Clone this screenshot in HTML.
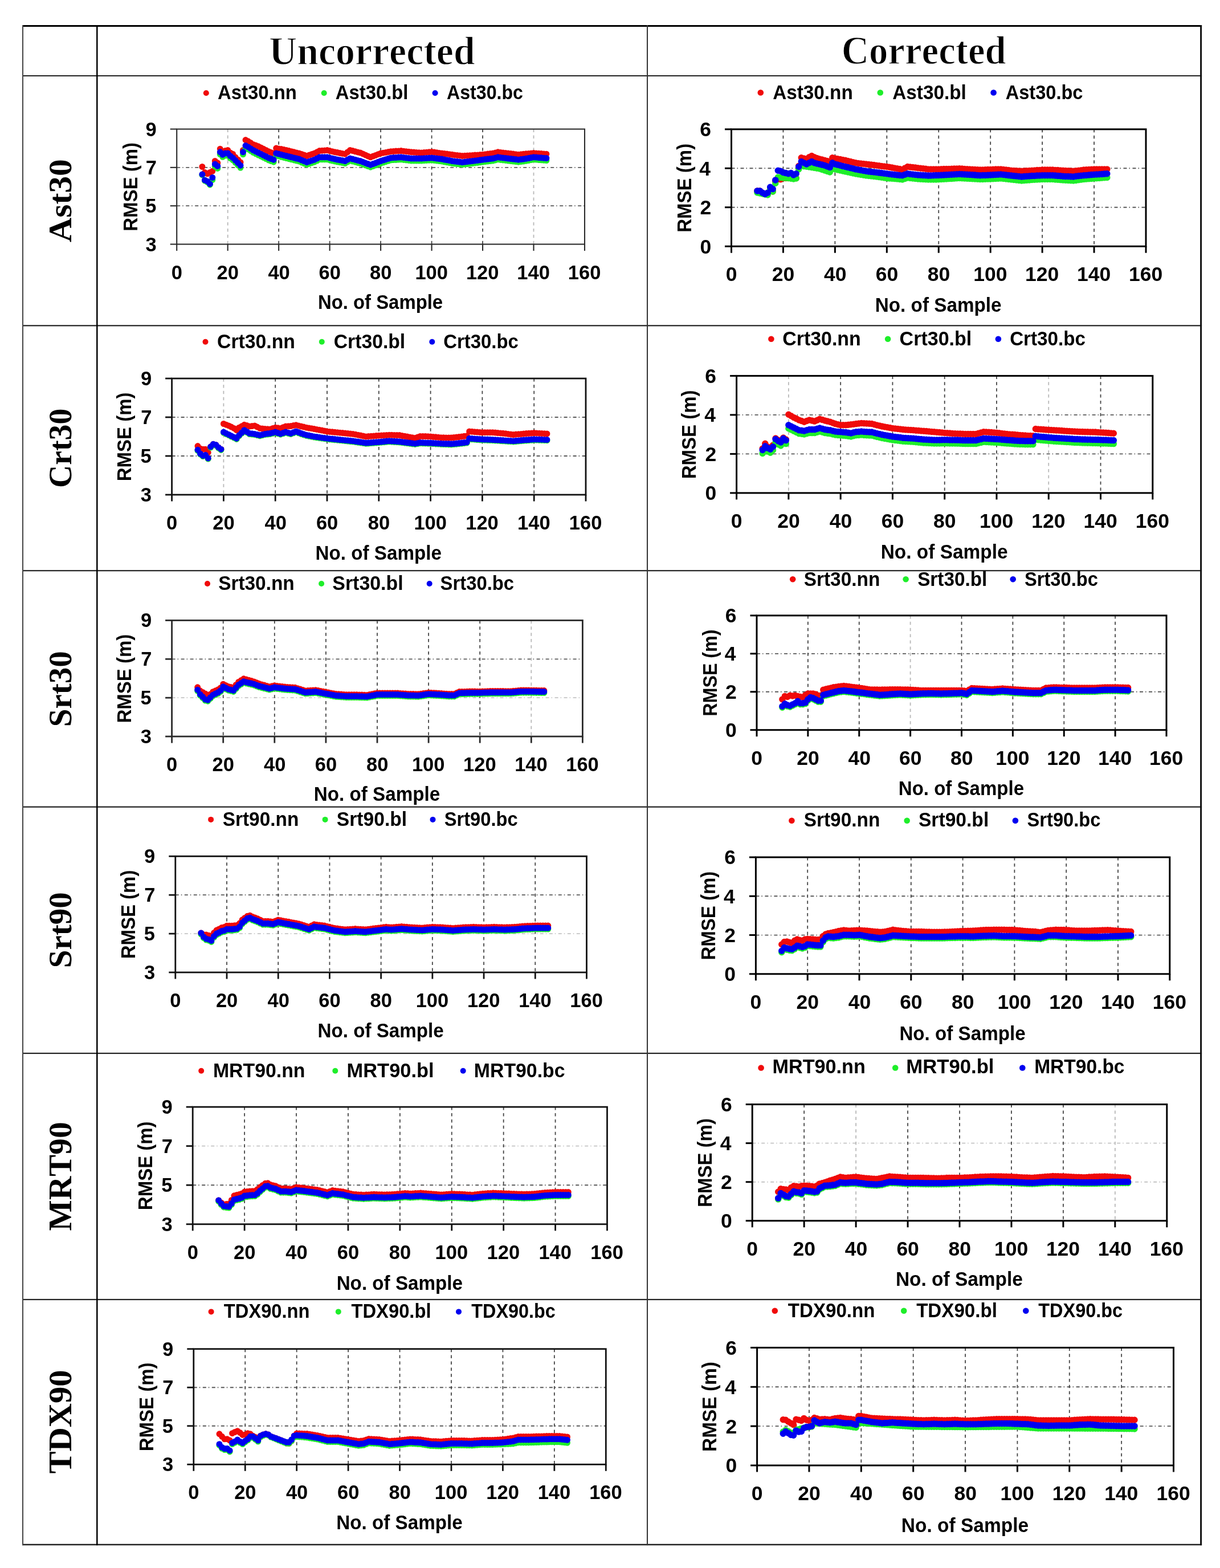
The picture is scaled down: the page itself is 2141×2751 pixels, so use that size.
<!DOCTYPE html>
<html><head><meta charset="utf-8"><title>RMSE vs No. of Sample</title>
<style>html,body{margin:0;padding:0;background:#fff;width:2141px;height:2751px;overflow:hidden} svg text{font-kerning:none;font-variant-ligatures:none}</style>
</head><body>
<svg width="2141" height="2751" viewBox="0 0 2141 2751" style="display:block">
<rect width="2141" height="2751" fill="#fff"/>
<rect x="39.0" y="44.00" width="2070.1" height="3" fill="#000"/>
<rect x="39.0" y="132.00" width="2070.1" height="2.0" fill="#222"/>
<rect x="39.0" y="570.20" width="2070.1" height="2.2" fill="#222"/>
<rect x="39.0" y="1000.10" width="2070.1" height="2.2" fill="#222"/>
<rect x="39.0" y="1414.60" width="2070.1" height="2.2" fill="#222"/>
<rect x="39.0" y="1846.90" width="2070.1" height="2.2" fill="#222"/>
<rect x="39.0" y="2278.90" width="2070.1" height="2.2" fill="#222"/>
<rect x="39.0" y="2708.75" width="2070.1" height="2.5" fill="#222"/>
<rect x="39.00" y="44.0" width="2" height="2667.2" fill="#444"/>
<rect x="169.05" y="44.0" width="2.5" height="2667.2" fill="#000"/>
<rect x="1135.00" y="44.0" width="2" height="2667.2" fill="#333"/>
<rect x="2106.10" y="44.0" width="3" height="2667.2" fill="#111"/>
<text transform="translate(472.31 113.00) scale(0.9756 1)" font-family="'Liberation Serif', 'Times New Roman', serif" font-weight="bold" font-size="69.5" fill="#000" stroke="#fff" stroke-width="1.3">Uncorrected</text>
<text transform="translate(1476.74 112.00) scale(0.9602 1)" font-family="'Liberation Serif', 'Times New Roman', serif" font-weight="bold" font-size="69.5" fill="#000" stroke="#fff" stroke-width="1.3">Corrected</text>
<text transform="translate(125.20 424.88) rotate(-90) scale(1.0378 1)" font-family="'Liberation Serif', 'Times New Roman', serif" font-weight="bold" font-size="57.5" fill="#000">Ast30</text>
<text transform="translate(125.20 855.92) rotate(-90) scale(0.9690 1)" font-family="'Liberation Serif', 'Times New Roman', serif" font-weight="bold" font-size="57.5" fill="#000">Crt30</text>
<text transform="translate(125.20 1275.24) rotate(-90) scale(0.9923 1)" font-family="'Liberation Serif', 'Times New Roman', serif" font-weight="bold" font-size="57.5" fill="#000">Srt30</text>
<text transform="translate(125.20 1698.24) rotate(-90) scale(0.9923 1)" font-family="'Liberation Serif', 'Times New Roman', serif" font-weight="bold" font-size="57.5" fill="#000">Srt90</text>
<text transform="translate(125.20 2159.38) rotate(-90) scale(0.9969 1)" font-family="'Liberation Serif', 'Times New Roman', serif" font-weight="bold" font-size="57.5" fill="#000">MRT90</text>
<text transform="translate(125.20 2585.61) rotate(-90) scale(1.0176 1)" font-family="'Liberation Serif', 'Times New Roman', serif" font-weight="bold" font-size="57.5" fill="#000">TDX90</text>
<line x1="310.2" y1="293.83" x2="1026.0" y2="293.83" stroke="#5a5a5a" stroke-width="1.8" stroke-dasharray="6 4 1.5 4.5"/>
<line x1="310.2" y1="361.17" x2="1026.0" y2="361.17" stroke="#5a5a5a" stroke-width="1.8" stroke-dasharray="6 4 1.5 4.5"/>
<line x1="399.67" y1="226.5" x2="399.67" y2="428.5" stroke="#b8b8b8" stroke-width="1.8" stroke-dasharray="5.5 5.4"/>
<line x1="489.15" y1="226.5" x2="489.15" y2="428.5" stroke="#444" stroke-width="1.8" stroke-dasharray="5.5 5.4"/>
<line x1="578.62" y1="226.5" x2="578.62" y2="428.5" stroke="#444" stroke-width="1.8" stroke-dasharray="5.5 5.4"/>
<line x1="668.10" y1="226.5" x2="668.10" y2="428.5" stroke="#444" stroke-width="1.8" stroke-dasharray="5.5 5.4"/>
<line x1="757.58" y1="226.5" x2="757.58" y2="428.5" stroke="#444" stroke-width="1.8" stroke-dasharray="5.5 5.4"/>
<line x1="847.05" y1="226.5" x2="847.05" y2="428.5" stroke="#444" stroke-width="1.8" stroke-dasharray="5.5 5.4"/>
<line x1="936.52" y1="226.5" x2="936.52" y2="428.5" stroke="#b8b8b8" stroke-width="1.8" stroke-dasharray="5.5 5.4"/>
<path d="M354.9 292.5h0M359.4 302.6h0M363.9 304.8h0M368.4 302.6h0M372.8 300.3h0M377.3 282.5h0M381.8 285.8h0M386.3 261.2h0M390.7 266.8h0M395.2 264.6h0M399.7 263.5h0M404.1 268.0h0M408.6 270.2h0M413.1 275.8h0M417.6 280.2h0M422.0 284.7h0M426.5 263.5h0M431.0 245.6h0M435.5 247.8h0M439.9 250.6h0M444.4 253.4h0M448.9 255.1h0M453.4 256.8h0M457.8 259.0h0M462.3 261.2h0M466.8 263.4h0M471.3 265.7h0M475.7 267.4h0M480.2 269.0h0M484.7 260.1h0M489.1 260.9h0M493.6 261.6h0M498.1 262.4h0M502.6 263.5h0M507.0 264.6h0M511.5 265.7h0M516.0 266.8h0M520.5 267.9h0M524.9 269.0h0M529.4 270.5h0M533.9 272.0h0M538.4 273.5h0M542.8 272.0h0M547.3 270.5h0M551.8 269.0h0M556.3 266.8h0M560.7 264.6h0M565.2 264.2h0M569.7 263.9h0M574.2 263.5h0M578.6 264.6h0M583.1 265.7h0M587.6 266.8h0M592.0 267.6h0M596.5 268.5h0M601.0 269.4h0M605.5 270.2h0M609.9 266.9h0M614.4 263.5h0M618.9 264.6h0M623.4 265.8h0M627.8 266.9h0M632.3 268.0h0M636.8 269.9h0M641.3 271.9h0M645.7 273.9h0M650.2 275.8h0M654.7 274.1h0M659.2 272.4h0M663.6 270.7h0M668.1 269.0h0M672.6 268.2h0M677.0 267.4h0M681.5 266.5h0M686.0 265.7h0M690.5 265.4h0M694.9 265.1h0M699.4 264.9h0M703.9 264.6h0M708.4 265.2h0M712.8 265.7h0M717.3 266.2h0M721.8 266.8h0M726.3 267.1h0M730.7 267.4h0M735.2 267.7h0M739.7 268.0h0M744.2 267.6h0M748.6 267.2h0M753.1 266.8h0M757.6 266.4h0M762.0 267.0h0M766.5 267.7h0M771.0 268.4h0M775.5 269.0h0M779.9 269.6h0M784.4 270.1h0M788.9 270.7h0M793.4 271.3h0M797.8 271.9h0M802.3 272.4h0M806.8 272.9h0M811.3 273.5h0M815.7 273.2h0M820.2 272.9h0M824.7 272.7h0M829.2 272.4h0M833.6 272.1h0M838.1 271.9h0M842.6 271.6h0M847.0 271.3h0M851.5 270.7h0M856.0 270.1h0M860.5 269.6h0M864.9 269.0h0M869.4 267.9h0M873.9 266.8h0M878.4 267.4h0M882.8 267.9h0M887.3 268.4h0M891.8 269.0h0M896.3 269.6h0M900.7 270.1h0M905.2 270.7h0M909.7 271.3h0M914.2 270.8h0M918.6 270.2h0M923.1 269.8h0M927.6 269.4h0M932.1 269.0h0M936.5 268.6h0M941.0 268.9h0M945.5 269.2h0M949.9 269.6h0M954.4 269.9h0M958.9 270.2h0" stroke="#f00a0a" stroke-width="11" stroke-linecap="round" fill="none"/>
<path d="M354.9 306.9h0M359.4 317.2h0M363.9 319.5h0M368.4 324.2h0M372.8 315.5h0M377.3 292.0h0M381.8 295.4h0M386.3 270.8h0M390.7 275.3h0M395.2 273.0h0M399.7 273.0h0M404.1 277.5h0M408.6 280.9h0M413.1 285.3h0M417.6 289.8h0M422.0 294.3h0M426.5 270.8h0M431.0 259.6h0M435.5 261.9h0M439.9 264.7h0M444.4 267.5h0M448.9 269.8h0M453.4 272.0h0M457.8 274.2h0M462.3 276.4h0M466.8 278.6h0M471.3 280.9h0M475.7 282.5h0M480.2 284.2h0M484.7 273.0h0M489.1 274.1h0M493.6 275.3h0M498.1 276.4h0M502.6 277.5h0M507.0 278.7h0M511.5 279.8h0M516.0 280.9h0M520.5 282.0h0M524.9 283.1h0M529.4 285.0h0M533.9 286.8h0M538.4 288.7h0M542.8 287.2h0M547.3 285.7h0M551.8 284.2h0M556.3 282.0h0M560.7 279.8h0M565.2 279.8h0M569.7 279.8h0M574.2 279.8h0M578.6 280.9h0M583.1 282.0h0M587.6 283.1h0M592.0 284.0h0M596.5 284.8h0M601.0 285.6h0M605.5 286.5h0M609.9 284.2h0M614.4 282.0h0M618.9 283.1h0M623.4 284.2h0M627.8 285.4h0M632.3 286.5h0M636.8 288.2h0M641.3 289.9h0M645.7 291.5h0M650.2 293.2h0M654.7 291.5h0M659.2 289.9h0M663.6 288.2h0M668.1 286.5h0M672.6 285.1h0M677.0 283.7h0M681.5 282.3h0M686.0 280.9h0M690.5 280.6h0M694.9 280.4h0M699.4 280.1h0M703.9 279.8h0M708.4 280.4h0M712.8 280.9h0M717.3 281.4h0M721.8 282.0h0M726.3 282.0h0M730.7 282.0h0M735.2 282.0h0M739.7 282.0h0M744.2 281.7h0M748.6 281.4h0M753.1 281.2h0M757.6 280.9h0M762.0 281.4h0M766.5 282.0h0M771.0 282.6h0M775.5 283.1h0M779.9 284.0h0M784.4 284.8h0M788.9 285.6h0M793.4 286.5h0M797.8 287.1h0M802.3 287.6h0M806.8 288.1h0M811.3 288.7h0M815.7 288.1h0M820.2 287.6h0M824.7 287.1h0M829.2 286.5h0M833.6 285.9h0M838.1 285.4h0M842.6 284.8h0M847.0 284.2h0M851.5 283.6h0M856.0 283.1h0M860.5 282.6h0M864.9 282.0h0M869.4 280.9h0M873.9 279.8h0M878.4 280.4h0M882.8 280.9h0M887.3 281.4h0M891.8 282.0h0M896.3 282.6h0M900.7 283.1h0M905.2 283.6h0M909.7 284.2h0M914.2 283.6h0M918.6 283.1h0M923.1 282.3h0M927.6 281.5h0M932.1 280.6h0M936.5 279.8h0M941.0 280.1h0M945.5 280.5h0M949.9 280.8h0M954.4 281.2h0M958.9 281.5h0" stroke="#1eee2a" stroke-width="11" stroke-linecap="round" fill="none"/>
<path d="M354.9 305.9h0M359.4 316.0h0M363.9 318.2h0M368.4 322.7h0M372.8 311.5h0M377.3 288.0h0M381.8 291.4h0M386.3 266.8h0M390.7 271.3h0M395.2 269.0h0M399.7 269.0h0M404.1 273.5h0M408.6 276.9h0M413.1 281.3h0M417.6 285.8h0M422.0 290.3h0M426.5 266.8h0M431.0 255.6h0M435.5 257.9h0M439.9 260.7h0M444.4 263.5h0M448.9 265.8h0M453.4 268.0h0M457.8 270.2h0M462.3 272.4h0M466.8 274.6h0M471.3 276.9h0M475.7 278.5h0M480.2 280.2h0M484.7 269.0h0M489.1 270.1h0M493.6 271.3h0M498.1 272.4h0M502.6 273.5h0M507.0 274.7h0M511.5 275.8h0M516.0 276.9h0M520.5 278.0h0M524.9 279.1h0M529.4 281.0h0M533.9 282.8h0M538.4 284.7h0M542.8 283.2h0M547.3 281.7h0M551.8 280.2h0M556.3 278.0h0M560.7 275.8h0M565.2 275.8h0M569.7 275.8h0M574.2 275.8h0M578.6 276.9h0M583.1 278.0h0M587.6 279.1h0M592.0 280.0h0M596.5 280.8h0M601.0 281.6h0M605.5 282.5h0M609.9 280.2h0M614.4 278.0h0M618.9 279.1h0M623.4 280.2h0M627.8 281.4h0M632.3 282.5h0M636.8 284.2h0M641.3 285.9h0M645.7 287.5h0M650.2 289.2h0M654.7 287.5h0M659.2 285.9h0M663.6 284.2h0M668.1 282.5h0M672.6 281.1h0M677.0 279.7h0M681.5 278.3h0M686.0 276.9h0M690.5 276.6h0M694.9 276.4h0M699.4 276.1h0M703.9 275.8h0M708.4 276.4h0M712.8 276.9h0M717.3 277.4h0M721.8 278.0h0M726.3 278.0h0M730.7 278.0h0M735.2 278.0h0M739.7 278.0h0M744.2 277.7h0M748.6 277.4h0M753.1 277.2h0M757.6 276.9h0M762.0 277.4h0M766.5 278.0h0M771.0 278.6h0M775.5 279.1h0M779.9 280.0h0M784.4 280.8h0M788.9 281.6h0M793.4 282.5h0M797.8 283.1h0M802.3 283.6h0M806.8 284.1h0M811.3 284.7h0M815.7 284.1h0M820.2 283.6h0M824.7 283.1h0M829.2 282.5h0M833.6 281.9h0M838.1 281.4h0M842.6 280.8h0M847.0 280.2h0M851.5 279.6h0M856.0 279.1h0M860.5 278.6h0M864.9 278.0h0M869.4 276.9h0M873.9 275.8h0M878.4 276.4h0M882.8 276.9h0M887.3 277.4h0M891.8 278.0h0M896.3 278.6h0M900.7 279.1h0M905.2 279.6h0M909.7 280.2h0M914.2 279.6h0M918.6 279.1h0M923.1 278.3h0M927.6 277.5h0M932.1 276.6h0M936.5 275.8h0M941.0 276.1h0M945.5 276.5h0M949.9 276.8h0M954.4 277.2h0M958.9 277.5h0" stroke="#0000f0" stroke-width="11" stroke-linecap="round" fill="none"/>
<rect x="310.20" y="226.50" width="715.80" height="202.00" fill="none" stroke="#2a2a2a" stroke-width="2.1"/>
<line x1="298.7" y1="226.50" x2="310.2" y2="226.50" stroke="#2a2a2a" stroke-width="2.1"/>
<line x1="298.7" y1="293.83" x2="310.2" y2="293.83" stroke="#2a2a2a" stroke-width="2.1"/>
<line x1="298.7" y1="361.17" x2="310.2" y2="361.17" stroke="#2a2a2a" stroke-width="2.1"/>
<line x1="298.7" y1="428.50" x2="310.2" y2="428.50" stroke="#2a2a2a" stroke-width="2.1"/>
<line x1="310.20" y1="428.5" x2="310.20" y2="440.0" stroke="#2a2a2a" stroke-width="2.1"/>
<line x1="399.67" y1="428.5" x2="399.67" y2="440.0" stroke="#2a2a2a" stroke-width="2.1"/>
<line x1="489.15" y1="428.5" x2="489.15" y2="440.0" stroke="#2a2a2a" stroke-width="2.1"/>
<line x1="578.62" y1="428.5" x2="578.62" y2="440.0" stroke="#2a2a2a" stroke-width="2.1"/>
<line x1="668.10" y1="428.5" x2="668.10" y2="440.0" stroke="#2a2a2a" stroke-width="2.1"/>
<line x1="757.58" y1="428.5" x2="757.58" y2="440.0" stroke="#2a2a2a" stroke-width="2.1"/>
<line x1="847.05" y1="428.5" x2="847.05" y2="440.0" stroke="#2a2a2a" stroke-width="2.1"/>
<line x1="936.52" y1="428.5" x2="936.52" y2="440.0" stroke="#2a2a2a" stroke-width="2.1"/>
<line x1="1026.00" y1="428.5" x2="1026.00" y2="440.0" stroke="#2a2a2a" stroke-width="2.1"/>
<text x="255.49" y="238.57" font-family="'Liberation Sans', Arial, sans-serif" font-weight="bold" font-size="34.5">9</text>
<text x="255.73" y="305.91" font-family="'Liberation Sans', Arial, sans-serif" font-weight="bold" font-size="34.5">7</text>
<text x="255.17" y="373.24" font-family="'Liberation Sans', Arial, sans-serif" font-weight="bold" font-size="34.5">5</text>
<text x="255.46" y="440.57" font-family="'Liberation Sans', Arial, sans-serif" font-weight="bold" font-size="34.5">3</text>
<text x="300.63" y="489.50" font-family="'Liberation Sans', Arial, sans-serif" font-weight="bold" font-size="34.5">0</text>
<text x="380.60" y="489.50" font-family="'Liberation Sans', Arial, sans-serif" font-weight="bold" font-size="34.5">20</text>
<text x="470.41" y="489.50" font-family="'Liberation Sans', Arial, sans-serif" font-weight="bold" font-size="34.5">40</text>
<text x="559.51" y="489.50" font-family="'Liberation Sans', Arial, sans-serif" font-weight="bold" font-size="34.5">60</text>
<text x="649.07" y="489.50" font-family="'Liberation Sans', Arial, sans-serif" font-weight="bold" font-size="34.5">80</text>
<text x="728.42" y="489.50" font-family="'Liberation Sans', Arial, sans-serif" font-weight="bold" font-size="34.5">100</text>
<text x="817.89" y="489.50" font-family="'Liberation Sans', Arial, sans-serif" font-weight="bold" font-size="34.5">120</text>
<text x="907.37" y="489.50" font-family="'Liberation Sans', Arial, sans-serif" font-weight="bold" font-size="34.5">140</text>
<text x="996.84" y="489.50" font-family="'Liberation Sans', Arial, sans-serif" font-weight="bold" font-size="34.5">160</text>
<text transform="translate(557.90 542.00) scale(0.9398 1)" font-family="'Liberation Sans', Arial, sans-serif" font-weight="bold" font-size="35" fill="#000">No. of Sample</text>
<text transform="translate(241.20 405.71) rotate(-90) scale(0.9594 1)" font-family="'Liberation Sans', Arial, sans-serif" font-weight="bold" font-size="34.4" fill="#000">RMSE (m)</text>
<circle cx="361.8" cy="163.3" r="5" fill="#f00a0a"/>
<text transform="translate(381.98 174.00) scale(0.9269 1)" font-family="'Liberation Sans', Arial, sans-serif" font-weight="bold" font-size="35.5" fill="#000">Ast30.nn</text>
<circle cx="568.7" cy="163.3" r="5" fill="#1eee2a"/>
<text transform="translate(588.78 174.00) scale(0.9250 1)" font-family="'Liberation Sans', Arial, sans-serif" font-weight="bold" font-size="35.5" fill="#000">Ast30.bl</text>
<circle cx="763.6" cy="163.3" r="5" fill="#0000f0"/>
<text transform="translate(784.00 174.00) scale(0.9058 1)" font-family="'Liberation Sans', Arial, sans-serif" font-weight="bold" font-size="35.5" fill="#000">Ast30.bc</text>
<line x1="1283.5" y1="295.27" x2="2011.0" y2="295.27" stroke="#5a5a5a" stroke-width="1.8" stroke-dasharray="6 4 1.5 4.5"/>
<line x1="1283.5" y1="363.73" x2="2011.0" y2="363.73" stroke="#5a5a5a" stroke-width="1.8" stroke-dasharray="6 4 1.5 4.5"/>
<line x1="1374.44" y1="226.8" x2="1374.44" y2="432.2" stroke="#444" stroke-width="1.8" stroke-dasharray="5.5 5.4"/>
<line x1="1465.38" y1="226.8" x2="1465.38" y2="432.2" stroke="#444" stroke-width="1.8" stroke-dasharray="5.5 5.4"/>
<line x1="1556.31" y1="226.8" x2="1556.31" y2="432.2" stroke="#444" stroke-width="1.8" stroke-dasharray="5.5 5.4"/>
<line x1="1647.25" y1="226.8" x2="1647.25" y2="432.2" stroke="#444" stroke-width="1.8" stroke-dasharray="5.5 5.4"/>
<line x1="1738.19" y1="226.8" x2="1738.19" y2="432.2" stroke="#444" stroke-width="1.8" stroke-dasharray="5.5 5.4"/>
<line x1="1829.12" y1="226.8" x2="1829.12" y2="432.2" stroke="#444" stroke-width="1.8" stroke-dasharray="5.5 5.4"/>
<line x1="1920.06" y1="226.8" x2="1920.06" y2="432.2" stroke="#444" stroke-width="1.8" stroke-dasharray="5.5 5.4"/>
<path d="M1329.0 334.9h0M1333.5 334.9h0M1338.1 338.3h0M1342.6 340.5h0M1347.2 338.3h0M1351.7 330.0h0M1356.2 336.0h0M1360.8 318.0h0M1365.3 312.0h0M1369.9 314.8h0M1374.4 312.6h0M1379.0 312.6h0M1383.5 312.6h0M1388.1 312.8h0M1392.6 313.0h0M1397.2 312.6h0M1401.7 291.3h0M1406.3 276.8h0M1410.8 278.0h0M1415.4 279.0h0M1419.9 275.7h0M1424.5 273.5h0M1429.0 275.7h0M1433.5 277.4h0M1438.1 279.0h0M1442.6 280.1h0M1447.2 281.3h0M1451.7 282.4h0M1456.3 283.5h0M1460.8 276.8h0M1465.4 278.0h0M1469.9 278.8h0M1474.5 279.6h0M1479.0 280.5h0M1483.6 281.3h0M1488.1 282.4h0M1492.7 283.6h0M1497.2 284.7h0M1501.8 285.8h0M1506.3 286.4h0M1510.8 286.9h0M1515.4 287.4h0M1519.9 288.0h0M1524.5 288.6h0M1529.0 289.1h0M1533.6 289.6h0M1538.1 290.2h0M1542.7 290.8h0M1547.2 291.4h0M1551.8 291.9h0M1556.3 292.5h0M1560.9 293.3h0M1565.4 294.1h0M1570.0 295.0h0M1574.5 295.8h0M1579.0 296.6h0M1583.6 297.4h0M1588.1 294.9h0M1592.7 292.5h0M1597.2 293.1h0M1601.8 293.6h0M1606.3 294.1h0M1610.9 294.7h0M1615.4 295.2h0M1620.0 295.8h0M1624.5 296.3h0M1629.1 296.9h0M1633.6 296.9h0M1638.2 296.9h0M1642.7 296.9h0M1647.2 296.9h0M1651.8 296.8h0M1656.3 296.6h0M1660.9 296.5h0M1665.4 296.4h0M1670.0 296.2h0M1674.5 296.1h0M1679.1 295.9h0M1683.6 295.8h0M1688.2 296.1h0M1692.7 296.4h0M1697.3 296.7h0M1701.8 297.0h0M1706.4 297.2h0M1710.9 297.5h0M1715.5 297.8h0M1720.0 298.1h0M1724.5 297.9h0M1729.1 297.8h0M1733.6 297.6h0M1738.2 297.4h0M1742.7 297.3h0M1747.3 297.1h0M1751.8 297.0h0M1756.4 296.9h0M1760.9 297.5h0M1765.5 298.0h0M1770.0 298.6h0M1774.6 299.2h0M1779.1 299.5h0M1783.7 299.8h0M1788.2 300.0h0M1792.8 300.3h0M1797.3 300.0h0M1801.8 299.8h0M1806.4 299.5h0M1810.9 299.2h0M1815.5 298.9h0M1820.0 298.6h0M1824.6 298.4h0M1829.1 298.1h0M1833.7 298.1h0M1838.2 298.1h0M1842.8 298.1h0M1847.3 298.1h0M1851.9 298.4h0M1856.4 298.6h0M1861.0 298.9h0M1865.5 299.2h0M1870.0 299.5h0M1874.6 299.8h0M1879.1 300.0h0M1883.7 300.3h0M1888.2 299.8h0M1892.8 299.2h0M1897.3 298.7h0M1901.9 298.1h0M1906.4 297.8h0M1911.0 297.5h0M1915.5 297.2h0M1920.1 296.9h0M1924.6 296.9h0M1929.2 296.9h0M1933.7 296.9h0M1938.2 296.9h0M1942.8 296.9h0" stroke="#f00a0a" stroke-width="11.5" stroke-linecap="round" fill="none"/>
<path d="M1329.0 338.0h0M1333.5 339.0h0M1338.1 340.0h0M1342.6 341.0h0M1347.2 342.0h0M1351.7 332.0h0M1356.2 336.0h0M1360.8 321.5h0M1365.3 311.0h0M1369.9 311.5h0M1374.4 312.0h0M1379.0 312.2h0M1383.5 312.5h0M1388.1 313.2h0M1392.6 314.0h0M1397.2 313.0h0M1401.7 297.0h0M1406.3 291.0h0M1410.8 291.7h0M1415.4 292.3h0M1419.9 293.0h0M1424.5 293.8h0M1429.0 294.5h0M1433.5 295.2h0M1438.1 296.0h0M1442.6 297.5h0M1447.2 299.0h0M1451.7 300.5h0M1456.3 302.0h0M1460.8 294.0h0M1465.4 297.0h0M1469.9 298.0h0M1474.5 299.0h0M1479.0 300.0h0M1483.6 301.0h0M1488.1 302.0h0M1492.7 303.0h0M1497.2 304.0h0M1501.8 305.0h0M1506.3 305.8h0M1510.8 306.5h0M1515.4 307.2h0M1519.9 308.0h0M1524.5 308.5h0M1529.0 309.0h0M1533.6 309.5h0M1538.1 310.0h0M1542.7 310.6h0M1547.2 311.3h0M1551.8 312.0h0M1556.3 312.6h0M1560.9 313.0h0M1565.4 313.3h0M1570.0 313.6h0M1574.5 314.0h0M1579.0 314.5h0M1583.6 315.0h0M1588.1 313.5h0M1592.7 312.0h0M1597.2 312.5h0M1601.8 313.0h0M1606.3 313.5h0M1610.9 314.0h0M1615.4 314.2h0M1620.0 314.5h0M1624.5 314.8h0M1629.1 315.0h0M1633.6 314.9h0M1638.2 314.9h0M1642.7 314.9h0M1647.2 314.8h0M1651.8 314.5h0M1656.3 314.2h0M1660.9 313.9h0M1665.4 313.6h0M1670.0 313.4h0M1674.5 313.1h0M1679.1 312.8h0M1683.6 312.5h0M1688.2 312.8h0M1692.7 313.0h0M1697.3 313.2h0M1701.8 313.5h0M1706.4 313.8h0M1710.9 314.0h0M1715.5 314.2h0M1720.0 314.5h0M1724.5 314.4h0M1729.1 314.2h0M1733.6 314.1h0M1738.2 314.0h0M1742.7 313.8h0M1747.3 313.5h0M1751.8 313.2h0M1756.4 313.0h0M1760.9 313.5h0M1765.5 314.0h0M1770.0 314.5h0M1774.6 315.0h0M1779.1 315.5h0M1783.7 316.0h0M1788.2 316.5h0M1792.8 317.0h0M1797.3 316.6h0M1801.8 316.2h0M1806.4 315.9h0M1810.9 315.5h0M1815.5 315.2h0M1820.0 315.0h0M1824.6 314.8h0M1829.1 314.5h0M1833.7 314.5h0M1838.2 314.5h0M1842.8 314.5h0M1847.3 314.5h0M1851.9 314.9h0M1856.4 315.2h0M1861.0 315.6h0M1865.5 316.0h0M1870.0 316.2h0M1874.6 316.5h0M1879.1 316.8h0M1883.7 317.0h0M1888.2 316.4h0M1892.8 315.8h0M1897.3 315.1h0M1901.9 314.5h0M1906.4 314.1h0M1911.0 313.8h0M1915.5 313.4h0M1920.1 313.0h0M1924.6 312.7h0M1929.2 312.4h0M1933.7 312.1h0M1938.2 311.8h0M1942.8 311.5h0" stroke="#1eee2a" stroke-width="11.5" stroke-linecap="round" fill="none"/>
<path d="M1329.0 334.9h0M1333.5 334.9h0M1338.1 338.3h0M1342.6 340.5h0M1347.2 338.3h0M1351.7 328.2h0M1356.2 331.6h0M1360.8 315.9h0M1365.3 299.2h0M1369.9 300.3h0M1374.4 302.5h0M1379.0 303.6h0M1383.5 304.8h0M1388.1 303.6h0M1392.6 307.0h0M1397.2 304.8h0M1401.7 292.5h0M1406.3 283.5h0M1410.8 285.8h0M1415.4 288.0h0M1419.9 285.8h0M1424.5 283.5h0M1429.0 285.8h0M1433.5 286.9h0M1438.1 288.0h0M1442.6 289.1h0M1447.2 290.2h0M1451.7 291.9h0M1456.3 293.6h0M1460.8 285.8h0M1465.4 288.0h0M1469.9 289.1h0M1474.5 290.2h0M1479.0 291.4h0M1483.6 292.5h0M1488.1 293.6h0M1492.7 294.7h0M1497.2 295.8h0M1501.8 296.9h0M1506.3 297.8h0M1510.8 298.6h0M1515.4 299.4h0M1519.9 300.3h0M1524.5 300.9h0M1529.0 301.4h0M1533.6 301.9h0M1538.1 302.5h0M1542.7 303.1h0M1547.2 303.6h0M1551.8 304.2h0M1556.3 304.8h0M1560.9 305.4h0M1565.4 305.9h0M1570.0 306.4h0M1574.5 307.0h0M1579.0 307.4h0M1583.6 307.7h0M1588.1 306.2h0M1592.7 304.8h0M1597.2 305.4h0M1601.8 305.9h0M1606.3 306.4h0M1610.9 307.0h0M1615.4 307.3h0M1620.0 307.6h0M1624.5 307.8h0M1629.1 308.1h0M1633.6 308.0h0M1638.2 307.8h0M1642.7 307.6h0M1647.2 307.5h0M1651.8 307.2h0M1656.3 307.0h0M1660.9 306.7h0M1665.4 306.4h0M1670.0 306.2h0M1674.5 305.9h0M1679.1 305.7h0M1683.6 305.4h0M1688.2 305.7h0M1692.7 306.0h0M1697.3 306.3h0M1701.8 306.5h0M1706.4 306.8h0M1710.9 307.1h0M1715.5 307.4h0M1720.0 307.7h0M1724.5 307.5h0M1729.1 307.4h0M1733.6 307.2h0M1738.2 307.0h0M1742.7 306.7h0M1747.3 306.4h0M1751.8 306.2h0M1756.4 305.9h0M1760.9 306.4h0M1765.5 307.0h0M1770.0 307.6h0M1774.6 308.1h0M1779.1 308.6h0M1783.7 309.0h0M1788.2 309.4h0M1792.8 309.9h0M1797.3 309.6h0M1801.8 309.2h0M1806.4 308.9h0M1810.9 308.6h0M1815.5 308.4h0M1820.0 308.1h0M1824.6 307.9h0M1829.1 307.7h0M1833.7 307.7h0M1838.2 307.7h0M1842.8 307.7h0M1847.3 307.7h0M1851.9 308.1h0M1856.4 308.4h0M1861.0 308.8h0M1865.5 309.2h0M1870.0 309.4h0M1874.6 309.5h0M1879.1 309.7h0M1883.7 309.9h0M1888.2 309.3h0M1892.8 308.8h0M1897.3 308.2h0M1901.9 307.7h0M1906.4 307.4h0M1911.0 307.0h0M1915.5 306.6h0M1920.1 306.3h0M1924.6 306.0h0M1929.2 305.7h0M1933.7 305.4h0M1938.2 305.1h0M1942.8 304.8h0" stroke="#0000f0" stroke-width="11.5" stroke-linecap="round" fill="none"/>
<rect x="1283.50" y="226.80" width="727.50" height="205.40" fill="none" stroke="#000" stroke-width="3"/>
<line x1="1272.0" y1="226.80" x2="1283.5" y2="226.80" stroke="#000" stroke-width="3"/>
<line x1="1272.0" y1="295.27" x2="1283.5" y2="295.27" stroke="#000" stroke-width="3"/>
<line x1="1272.0" y1="363.73" x2="1283.5" y2="363.73" stroke="#000" stroke-width="3"/>
<line x1="1272.0" y1="432.20" x2="1283.5" y2="432.20" stroke="#000" stroke-width="3"/>
<line x1="1283.50" y1="432.2" x2="1283.50" y2="443.7" stroke="#000" stroke-width="3"/>
<line x1="1374.44" y1="432.2" x2="1374.44" y2="443.7" stroke="#000" stroke-width="3"/>
<line x1="1465.38" y1="432.2" x2="1465.38" y2="443.7" stroke="#000" stroke-width="3"/>
<line x1="1556.31" y1="432.2" x2="1556.31" y2="443.7" stroke="#000" stroke-width="3"/>
<line x1="1647.25" y1="432.2" x2="1647.25" y2="443.7" stroke="#000" stroke-width="3"/>
<line x1="1738.19" y1="432.2" x2="1738.19" y2="443.7" stroke="#000" stroke-width="3"/>
<line x1="1829.12" y1="432.2" x2="1829.12" y2="443.7" stroke="#000" stroke-width="3"/>
<line x1="1920.06" y1="432.2" x2="1920.06" y2="443.7" stroke="#000" stroke-width="3"/>
<line x1="2011.00" y1="432.2" x2="2011.00" y2="443.7" stroke="#000" stroke-width="3"/>
<text x="1228.24" y="239.23" font-family="'Liberation Sans', Arial, sans-serif" font-weight="bold" font-size="35.5">6</text>
<text x="1227.15" y="307.69" font-family="'Liberation Sans', Arial, sans-serif" font-weight="bold" font-size="35.5">4</text>
<text x="1228.38" y="376.16" font-family="'Liberation Sans', Arial, sans-serif" font-weight="bold" font-size="35.5">2</text>
<text x="1228.41" y="444.62" font-family="'Liberation Sans', Arial, sans-serif" font-weight="bold" font-size="35.5">0</text>
<text x="1273.65" y="493.20" font-family="'Liberation Sans', Arial, sans-serif" font-weight="bold" font-size="35.5">0</text>
<text x="1354.81" y="493.20" font-family="'Liberation Sans', Arial, sans-serif" font-weight="bold" font-size="35.5">20</text>
<text x="1446.09" y="493.20" font-family="'Liberation Sans', Arial, sans-serif" font-weight="bold" font-size="35.5">40</text>
<text x="1536.65" y="493.20" font-family="'Liberation Sans', Arial, sans-serif" font-weight="bold" font-size="35.5">60</text>
<text x="1627.67" y="493.20" font-family="'Liberation Sans', Arial, sans-serif" font-weight="bold" font-size="35.5">80</text>
<text x="1708.18" y="493.20" font-family="'Liberation Sans', Arial, sans-serif" font-weight="bold" font-size="35.5">100</text>
<text x="1799.12" y="493.20" font-family="'Liberation Sans', Arial, sans-serif" font-weight="bold" font-size="35.5">120</text>
<text x="1890.06" y="493.20" font-family="'Liberation Sans', Arial, sans-serif" font-weight="bold" font-size="35.5">140</text>
<text x="1980.99" y="493.20" font-family="'Liberation Sans', Arial, sans-serif" font-weight="bold" font-size="35.5">160</text>
<text transform="translate(1535.77 547.20) scale(0.9373 1)" font-family="'Liberation Sans', Arial, sans-serif" font-weight="bold" font-size="35.5" fill="#000">No. of Sample</text>
<text transform="translate(1212.90 407.71) rotate(-90) scale(0.9511 1)" font-family="'Liberation Sans', Arial, sans-serif" font-weight="bold" font-size="34.7" fill="#000">RMSE (m)</text>
<circle cx="1334.8" cy="162.5" r="5.3" fill="#f00a0a"/>
<text transform="translate(1356.27 173.80) scale(0.9371 1)" font-family="'Liberation Sans', Arial, sans-serif" font-weight="bold" font-size="35.5" fill="#000">Ast30.nn</text>
<circle cx="1544.8" cy="162.5" r="5.3" fill="#1eee2a"/>
<text transform="translate(1566.27 173.80) scale(0.9384 1)" font-family="'Liberation Sans', Arial, sans-serif" font-weight="bold" font-size="35.5" fill="#000">Ast30.bl</text>
<circle cx="1743.6" cy="162.5" r="5.3" fill="#0000f0"/>
<text transform="translate(1764.69 173.80) scale(0.9181 1)" font-family="'Liberation Sans', Arial, sans-serif" font-weight="bold" font-size="35.5" fill="#000">Ast30.bc</text>
<line x1="301.6" y1="732.00" x2="1028.0" y2="732.00" stroke="#5a5a5a" stroke-width="1.8" stroke-dasharray="6 4 1.5 4.5"/>
<line x1="301.6" y1="800.00" x2="1028.0" y2="800.00" stroke="#5a5a5a" stroke-width="1.8" stroke-dasharray="6 4 1.5 4.5"/>
<line x1="392.40" y1="664.0" x2="392.40" y2="868.0" stroke="#b8b8b8" stroke-width="1.8" stroke-dasharray="5.5 5.4"/>
<line x1="483.20" y1="664.0" x2="483.20" y2="868.0" stroke="#444" stroke-width="1.8" stroke-dasharray="5.5 5.4"/>
<line x1="574.00" y1="664.0" x2="574.00" y2="868.0" stroke="#444" stroke-width="1.8" stroke-dasharray="5.5 5.4"/>
<line x1="664.80" y1="664.0" x2="664.80" y2="868.0" stroke="#444" stroke-width="1.8" stroke-dasharray="5.5 5.4"/>
<line x1="755.60" y1="664.0" x2="755.60" y2="868.0" stroke="#444" stroke-width="1.8" stroke-dasharray="5.5 5.4"/>
<line x1="846.40" y1="664.0" x2="846.40" y2="868.0" stroke="#444" stroke-width="1.8" stroke-dasharray="5.5 5.4"/>
<line x1="937.20" y1="664.0" x2="937.20" y2="868.0" stroke="#444" stroke-width="1.8" stroke-dasharray="5.5 5.4"/>
<path d="M347.0 782.6h0M351.5 787.1h0M356.1 788.2h0M360.6 788.2h0M365.2 793.8h0M369.7 783.8h0M374.2 779.3h0M378.8 780.4h0M383.3 784.9h0M387.9 788.2h0M392.4 743.5h0M396.9 745.2h0M401.5 746.9h0M406.0 749.1h0M410.6 751.4h0M415.1 754.7h0M419.6 750.2h0M424.2 747.8h0M428.7 745.3h0M433.3 746.6h0M437.8 748.0h0M442.3 747.5h0M446.9 746.9h0M451.4 749.1h0M456.0 751.4h0M460.5 752.0h0M465.0 752.5h0M469.6 752.7h0M474.1 752.9h0M478.7 751.5h0M483.2 750.2h0M487.7 750.8h0M492.3 751.4h0M496.8 749.7h0M501.4 748.0h0M505.9 747.8h0M510.4 747.5h0M515.0 746.6h0M519.5 745.8h0M524.1 746.9h0M528.6 748.0h0M533.1 749.1h0M537.7 750.2h0M542.2 751.0h0M546.8 751.7h0M551.3 752.5h0M555.8 753.4h0M560.4 754.3h0M564.9 755.1h0M569.5 756.0h0M574.0 756.9h0M578.5 757.4h0M583.1 757.8h0M587.6 758.3h0M592.2 758.7h0M596.7 759.2h0M601.2 759.6h0M605.8 760.1h0M610.3 760.5h0M614.9 761.0h0M619.4 761.4h0M623.9 762.3h0M628.5 763.2h0M633.0 764.1h0M637.6 765.0h0M642.1 765.9h0M646.6 765.6h0M651.2 765.2h0M655.7 764.9h0M660.3 764.5h0M664.8 764.2h0M669.3 764.0h0M673.9 763.7h0M678.4 763.5h0M683.0 763.2h0M687.5 763.3h0M692.0 763.4h0M696.6 763.5h0M701.1 763.6h0M705.7 764.5h0M710.2 765.3h0M714.7 766.1h0M719.3 767.0h0M723.8 767.8h0M728.4 768.6h0M732.9 767.0h0M737.4 765.4h0M742.0 765.5h0M746.5 765.6h0M751.1 765.8h0M755.6 765.9h0M760.1 766.4h0M764.7 766.8h0M769.2 767.2h0M773.8 767.7h0M778.3 767.8h0M782.8 767.9h0M787.4 768.0h0M791.9 768.1h0M796.5 767.5h0M801.0 767.0h0M805.5 766.5h0M810.1 765.9h0M814.6 765.3h0M819.2 764.8h0M823.7 756.9h0M828.2 757.3h0M832.8 757.7h0M837.3 758.1h0M841.9 758.4h0M846.4 758.7h0M850.9 758.7h0M855.5 758.7h0M860.0 758.7h0M864.6 758.7h0M869.1 759.1h0M873.6 759.5h0M878.2 759.9h0M882.7 760.3h0M887.3 760.8h0M891.8 761.4h0M896.3 762.0h0M900.9 762.5h0M905.4 762.1h0M910.0 761.8h0M914.5 761.4h0M919.0 761.0h0M923.6 760.6h0M928.1 760.3h0M932.7 760.0h0M937.2 759.6h0M941.7 759.9h0M946.3 760.2h0M950.8 760.4h0M955.4 760.7h0M959.9 761.0h0" stroke="#f00a0a" stroke-width="11" stroke-linecap="round" fill="none"/>
<path d="M347.0 790.5h0M351.5 797.2h0M356.1 800.6h0M360.6 799.5h0M365.2 805.1h0M369.7 785.0h0M374.2 780.5h0M378.8 781.6h0M383.3 786.1h0M387.9 789.4h0M392.4 759.3h0M396.9 761.5h0M401.5 763.7h0M406.0 766.0h0M410.6 768.2h0M415.1 770.4h0M419.6 764.8h0M424.2 760.4h0M428.7 755.9h0M433.3 758.7h0M437.8 761.5h0M442.3 762.0h0M446.9 762.6h0M451.4 763.7h0M456.0 764.8h0M460.5 763.7h0M465.0 762.6h0M469.6 762.0h0M474.1 761.5h0M478.7 760.4h0M483.2 759.3h0M487.7 760.8h0M492.3 762.2h0M496.8 760.8h0M501.4 759.3h0M505.9 760.4h0M510.4 761.5h0M515.0 759.8h0M519.5 758.1h0M524.1 759.8h0M528.6 761.5h0M533.1 763.0h0M537.7 764.4h0M542.2 765.3h0M546.8 766.2h0M551.3 767.1h0M555.8 767.8h0M560.4 768.4h0M564.9 769.1h0M569.5 769.7h0M574.0 770.4h0M578.5 770.9h0M583.1 771.3h0M587.6 771.8h0M592.2 772.2h0M596.7 772.7h0M601.2 773.1h0M605.8 773.6h0M610.3 774.0h0M614.9 774.5h0M619.4 774.9h0M623.9 775.6h0M628.5 776.3h0M633.0 776.9h0M637.6 777.6h0M642.1 778.3h0M646.6 778.0h0M651.2 777.6h0M655.7 777.3h0M660.3 776.9h0M664.8 776.6h0M669.3 776.2h0M673.9 775.8h0M678.4 775.3h0M683.0 774.9h0M687.5 775.2h0M692.0 775.5h0M696.6 775.7h0M701.1 776.0h0M705.7 776.6h0M710.2 777.2h0M714.7 777.7h0M719.3 778.3h0M723.8 778.9h0M728.4 779.4h0M732.9 778.6h0M737.4 777.8h0M742.0 777.9h0M746.5 778.1h0M751.1 778.2h0M755.6 778.3h0M760.1 778.6h0M764.7 778.9h0M769.2 779.1h0M773.8 779.4h0M778.3 779.6h0M782.8 779.7h0M787.4 779.9h0M791.9 780.0h0M796.5 779.6h0M801.0 779.2h0M805.5 778.7h0M810.1 778.3h0M814.6 777.7h0M819.2 777.1h0M823.7 770.4h0M828.2 770.8h0M832.8 771.1h0M837.3 771.5h0M841.9 771.8h0M846.4 772.0h0M850.9 772.2h0M855.5 772.4h0M860.0 772.5h0M864.6 772.7h0M869.1 773.0h0M873.6 773.2h0M878.2 773.5h0M882.7 773.8h0M887.3 774.1h0M891.8 774.4h0M896.3 774.6h0M900.9 774.9h0M905.4 774.5h0M910.0 774.1h0M914.5 773.7h0M919.0 773.3h0M923.6 773.0h0M928.1 772.7h0M932.7 772.3h0M937.2 772.0h0M941.7 772.1h0M946.3 772.3h0M950.8 772.4h0M955.4 772.6h0M959.9 772.7h0" stroke="#1eee2a" stroke-width="11" stroke-linecap="round" fill="none"/>
<path d="M347.0 789.3h0M351.5 796.0h0M356.1 799.4h0M360.6 798.3h0M365.2 803.9h0M369.7 783.8h0M374.2 779.3h0M378.8 780.4h0M383.3 784.9h0M387.9 788.2h0M392.4 758.1h0M396.9 760.3h0M401.5 762.5h0M406.0 764.8h0M410.6 767.0h0M415.1 769.2h0M419.6 763.6h0M424.2 759.2h0M428.7 754.7h0M433.3 757.5h0M437.8 760.3h0M442.3 760.8h0M446.9 761.4h0M451.4 762.5h0M456.0 763.6h0M460.5 762.5h0M465.0 761.4h0M469.6 760.8h0M474.1 760.3h0M478.7 759.2h0M483.2 758.1h0M487.7 759.5h0M492.3 761.0h0M496.8 759.5h0M501.4 758.1h0M505.9 759.2h0M510.4 760.3h0M515.0 758.6h0M519.5 756.9h0M524.1 758.6h0M528.6 760.3h0M533.1 761.8h0M537.7 763.2h0M542.2 764.1h0M546.8 765.0h0M551.3 765.9h0M555.8 766.6h0M560.4 767.2h0M564.9 767.9h0M569.5 768.5h0M574.0 769.2h0M578.5 769.7h0M583.1 770.1h0M587.6 770.6h0M592.2 771.0h0M596.7 771.5h0M601.2 771.9h0M605.8 772.4h0M610.3 772.8h0M614.9 773.3h0M619.4 773.7h0M623.9 774.4h0M628.5 775.1h0M633.0 775.7h0M637.6 776.4h0M642.1 777.1h0M646.6 776.8h0M651.2 776.4h0M655.7 776.1h0M660.3 775.7h0M664.8 775.4h0M669.3 775.0h0M673.9 774.5h0M678.4 774.1h0M683.0 773.7h0M687.5 774.0h0M692.0 774.2h0M696.6 774.5h0M701.1 774.8h0M705.7 775.4h0M710.2 776.0h0M714.7 776.5h0M719.3 777.1h0M723.8 777.7h0M728.4 778.2h0M732.9 777.4h0M737.4 776.6h0M742.0 776.7h0M746.5 776.9h0M751.1 777.0h0M755.6 777.1h0M760.1 777.4h0M764.7 777.7h0M769.2 777.9h0M773.8 778.2h0M778.3 778.4h0M782.8 778.5h0M787.4 778.6h0M791.9 778.8h0M796.5 778.4h0M801.0 778.0h0M805.5 777.5h0M810.1 777.1h0M814.6 776.5h0M819.2 775.9h0M823.7 769.2h0M828.2 769.6h0M832.8 769.9h0M837.3 770.3h0M841.9 770.5h0M846.4 770.8h0M850.9 771.0h0M855.5 771.1h0M860.0 771.3h0M864.6 771.5h0M869.1 771.8h0M873.6 772.0h0M878.2 772.3h0M882.7 772.6h0M887.3 772.9h0M891.8 773.2h0M896.3 773.4h0M900.9 773.7h0M905.4 773.3h0M910.0 772.9h0M914.5 772.5h0M919.0 772.1h0M923.6 771.8h0M928.1 771.5h0M932.7 771.1h0M937.2 770.8h0M941.7 770.9h0M946.3 771.1h0M950.8 771.2h0M955.4 771.4h0M959.9 771.5h0" stroke="#0000f0" stroke-width="11" stroke-linecap="round" fill="none"/>
<rect x="301.60" y="664.00" width="726.40" height="204.00" fill="none" stroke="#111" stroke-width="2.8"/>
<line x1="290.1" y1="664.00" x2="301.6" y2="664.00" stroke="#111" stroke-width="2.8"/>
<line x1="290.1" y1="732.00" x2="301.6" y2="732.00" stroke="#111" stroke-width="2.8"/>
<line x1="290.1" y1="800.00" x2="301.6" y2="800.00" stroke="#111" stroke-width="2.8"/>
<line x1="290.1" y1="868.00" x2="301.6" y2="868.00" stroke="#111" stroke-width="2.8"/>
<line x1="301.60" y1="868.0" x2="301.60" y2="879.5" stroke="#111" stroke-width="2.8"/>
<line x1="392.40" y1="868.0" x2="392.40" y2="879.5" stroke="#111" stroke-width="2.8"/>
<line x1="483.20" y1="868.0" x2="483.20" y2="879.5" stroke="#111" stroke-width="2.8"/>
<line x1="574.00" y1="868.0" x2="574.00" y2="879.5" stroke="#111" stroke-width="2.8"/>
<line x1="664.80" y1="868.0" x2="664.80" y2="879.5" stroke="#111" stroke-width="2.8"/>
<line x1="755.60" y1="868.0" x2="755.60" y2="879.5" stroke="#111" stroke-width="2.8"/>
<line x1="846.40" y1="868.0" x2="846.40" y2="879.5" stroke="#111" stroke-width="2.8"/>
<line x1="937.20" y1="868.0" x2="937.20" y2="879.5" stroke="#111" stroke-width="2.8"/>
<line x1="1028.00" y1="868.0" x2="1028.00" y2="879.5" stroke="#111" stroke-width="2.8"/>
<text x="246.89" y="676.08" font-family="'Liberation Sans', Arial, sans-serif" font-weight="bold" font-size="34.5">9</text>
<text x="247.13" y="744.08" font-family="'Liberation Sans', Arial, sans-serif" font-weight="bold" font-size="34.5">7</text>
<text x="246.57" y="812.08" font-family="'Liberation Sans', Arial, sans-serif" font-weight="bold" font-size="34.5">5</text>
<text x="246.86" y="880.08" font-family="'Liberation Sans', Arial, sans-serif" font-weight="bold" font-size="34.5">3</text>
<text x="292.03" y="929.00" font-family="'Liberation Sans', Arial, sans-serif" font-weight="bold" font-size="34.5">0</text>
<text x="373.32" y="929.00" font-family="'Liberation Sans', Arial, sans-serif" font-weight="bold" font-size="34.5">20</text>
<text x="464.46" y="929.00" font-family="'Liberation Sans', Arial, sans-serif" font-weight="bold" font-size="34.5">40</text>
<text x="554.89" y="929.00" font-family="'Liberation Sans', Arial, sans-serif" font-weight="bold" font-size="34.5">60</text>
<text x="645.77" y="929.00" font-family="'Liberation Sans', Arial, sans-serif" font-weight="bold" font-size="34.5">80</text>
<text x="726.44" y="929.00" font-family="'Liberation Sans', Arial, sans-serif" font-weight="bold" font-size="34.5">100</text>
<text x="817.24" y="929.00" font-family="'Liberation Sans', Arial, sans-serif" font-weight="bold" font-size="34.5">120</text>
<text x="908.04" y="929.00" font-family="'Liberation Sans', Arial, sans-serif" font-weight="bold" font-size="34.5">140</text>
<text x="998.84" y="929.00" font-family="'Liberation Sans', Arial, sans-serif" font-weight="bold" font-size="34.5">160</text>
<text transform="translate(553.58 982.00) scale(0.9486 1)" font-family="'Liberation Sans', Arial, sans-serif" font-weight="bold" font-size="35" fill="#000">No. of Sample</text>
<text transform="translate(230.30 844.21) rotate(-90) scale(0.9594 1)" font-family="'Liberation Sans', Arial, sans-serif" font-weight="bold" font-size="34.4" fill="#000">RMSE (m)</text>
<circle cx="360.5" cy="599.7" r="5" fill="#f00a0a"/>
<text transform="translate(381.02 611.00) scale(0.9506 1)" font-family="'Liberation Sans', Arial, sans-serif" font-weight="bold" font-size="35.5" fill="#000">Crt30.nn</text>
<circle cx="564.8" cy="599.7" r="5" fill="#1eee2a"/>
<text transform="translate(585.72 611.00) scale(0.9501 1)" font-family="'Liberation Sans', Arial, sans-serif" font-weight="bold" font-size="35.5" fill="#000">Crt30.bl</text>
<circle cx="758.3" cy="599.7" r="5" fill="#0000f0"/>
<text transform="translate(778.15 611.00) scale(0.9279 1)" font-family="'Liberation Sans', Arial, sans-serif" font-weight="bold" font-size="35.5" fill="#000">Crt30.bc</text>
<line x1="1292.6" y1="727.90" x2="2022.8" y2="727.90" stroke="#5a5a5a" stroke-width="1.8" stroke-dasharray="6 4 1.5 4.5"/>
<line x1="1292.6" y1="796.40" x2="2022.8" y2="796.40" stroke="#5a5a5a" stroke-width="1.8" stroke-dasharray="6 4 1.5 4.5"/>
<line x1="1383.88" y1="659.4" x2="1383.88" y2="864.9" stroke="#b8b8b8" stroke-width="1.8" stroke-dasharray="5.5 5.4"/>
<line x1="1475.15" y1="659.4" x2="1475.15" y2="864.9" stroke="#444" stroke-width="1.8" stroke-dasharray="5.5 5.4"/>
<line x1="1566.42" y1="659.4" x2="1566.42" y2="864.9" stroke="#444" stroke-width="1.8" stroke-dasharray="5.5 5.4"/>
<line x1="1657.70" y1="659.4" x2="1657.70" y2="864.9" stroke="#444" stroke-width="1.8" stroke-dasharray="5.5 5.4"/>
<line x1="1748.97" y1="659.4" x2="1748.97" y2="864.9" stroke="#444" stroke-width="1.8" stroke-dasharray="5.5 5.4"/>
<line x1="1840.25" y1="659.4" x2="1840.25" y2="864.9" stroke="#b8b8b8" stroke-width="1.8" stroke-dasharray="5.5 5.4"/>
<line x1="1931.53" y1="659.4" x2="1931.53" y2="864.9" stroke="#444" stroke-width="1.8" stroke-dasharray="5.5 5.4"/>
<path d="M1338.2 787.0h0M1342.8 778.2h0M1347.4 784.0h0M1351.9 786.0h0M1356.5 781.0h0M1361.1 769.0h0M1365.6 772.0h0M1370.2 774.0h0M1374.7 768.0h0M1379.3 771.0h0M1383.9 727.3h0M1388.4 729.8h0M1393.0 732.4h0M1397.6 734.6h0M1402.1 736.9h0M1406.7 738.5h0M1411.3 740.2h0M1415.8 738.5h0M1420.4 736.9h0M1424.9 738.0h0M1429.5 739.1h0M1434.1 737.2h0M1438.6 735.3h0M1443.2 736.6h0M1447.8 738.0h0M1452.3 739.1h0M1456.9 740.2h0M1461.5 741.9h0M1466.0 743.6h0M1470.6 744.7h0M1475.1 745.8h0M1479.7 745.8h0M1484.3 745.8h0M1488.8 745.2h0M1493.4 744.7h0M1498.0 744.2h0M1502.5 743.6h0M1507.1 743.0h0M1511.7 742.5h0M1516.2 742.7h0M1520.8 742.9h0M1525.4 743.2h0M1529.9 743.6h0M1534.5 744.7h0M1539.0 745.9h0M1543.6 747.0h0M1548.2 748.1h0M1552.7 748.9h0M1557.3 749.8h0M1561.9 750.6h0M1566.4 751.4h0M1571.0 752.0h0M1575.6 752.5h0M1580.1 753.0h0M1584.7 753.6h0M1589.2 753.9h0M1593.8 754.2h0M1598.4 754.5h0M1602.9 754.8h0M1607.5 755.2h0M1612.1 755.5h0M1616.6 755.9h0M1621.2 756.3h0M1625.8 756.6h0M1630.3 757.0h0M1634.9 757.4h0M1639.4 757.7h0M1644.0 758.2h0M1648.6 758.6h0M1653.1 759.0h0M1657.7 759.5h0M1662.3 759.8h0M1666.8 760.1h0M1671.4 760.5h0M1676.0 760.8h0M1680.5 761.0h0M1685.1 761.1h0M1689.6 761.3h0M1694.2 761.5h0M1698.8 761.5h0M1703.3 761.5h0M1707.9 761.5h0M1712.5 761.5h0M1717.0 760.2h0M1721.6 759.0h0M1726.2 757.7h0M1730.7 758.0h0M1735.3 758.3h0M1739.8 758.6h0M1744.4 758.9h0M1749.0 759.2h0M1753.5 759.8h0M1758.1 760.4h0M1762.7 760.9h0M1767.2 761.5h0M1771.8 761.9h0M1776.4 762.2h0M1780.9 762.6h0M1785.5 763.0h0M1790.0 763.4h0M1794.6 763.7h0M1799.2 764.0h0M1803.7 764.4h0M1808.3 764.6h0M1812.9 764.8h0M1817.4 752.5h0M1822.0 752.9h0M1826.6 753.2h0M1831.1 753.6h0M1835.7 753.9h0M1840.2 754.2h0M1844.8 754.5h0M1849.4 754.8h0M1853.9 755.1h0M1858.5 755.3h0M1863.1 755.6h0M1867.6 755.9h0M1872.2 756.2h0M1876.8 756.5h0M1881.3 756.7h0M1885.9 757.0h0M1890.5 757.2h0M1895.0 757.4h0M1899.6 757.5h0M1904.1 757.7h0M1908.7 757.8h0M1913.3 757.9h0M1917.8 758.0h0M1922.4 758.1h0M1927.0 758.4h0M1931.5 758.7h0M1936.1 758.9h0M1940.7 759.2h0M1945.2 759.6h0M1949.8 759.9h0M1954.3 760.3h0" stroke="#f00a0a" stroke-width="11.5" stroke-linecap="round" fill="none"/>
<path d="M1338.2 795.4h0M1342.8 788.7h0M1347.4 792.1h0M1351.9 794.3h0M1356.5 789.8h0M1361.1 776.4h0M1365.6 779.8h0M1370.2 782.0h0M1374.7 775.3h0M1379.3 778.6h0M1383.9 751.8h0M1388.4 754.0h0M1393.0 756.3h0M1397.6 758.5h0M1402.1 760.8h0M1406.7 761.3h0M1411.3 761.9h0M1415.8 760.8h0M1420.4 759.6h0M1424.9 759.6h0M1429.5 759.6h0M1434.1 758.3h0M1438.6 757.0h0M1443.2 758.3h0M1447.8 759.6h0M1452.3 760.2h0M1456.9 760.8h0M1461.5 761.9h0M1466.0 763.0h0M1470.6 763.4h0M1475.1 763.7h0M1479.7 764.2h0M1484.3 764.6h0M1488.8 765.2h0M1493.4 765.9h0M1498.0 764.8h0M1502.5 763.7h0M1507.1 763.4h0M1511.7 763.0h0M1516.2 763.4h0M1520.8 763.7h0M1525.4 763.9h0M1529.9 764.1h0M1534.5 765.2h0M1539.0 766.4h0M1543.6 767.5h0M1548.2 768.6h0M1552.7 769.4h0M1557.3 770.2h0M1561.9 771.1h0M1566.4 771.9h0M1571.0 772.5h0M1575.6 773.0h0M1580.1 773.6h0M1584.7 774.2h0M1589.2 774.5h0M1593.8 774.8h0M1598.4 775.0h0M1602.9 775.3h0M1607.5 775.8h0M1612.1 776.2h0M1616.6 776.6h0M1621.2 777.1h0M1625.8 777.3h0M1630.3 777.5h0M1634.9 777.8h0M1639.4 778.0h0M1644.0 778.0h0M1648.6 777.9h0M1653.1 777.8h0M1657.7 777.8h0M1662.3 777.8h0M1666.8 777.9h0M1671.4 778.0h0M1676.0 778.0h0M1680.5 778.1h0M1685.1 778.3h0M1689.6 778.5h0M1694.2 778.6h0M1698.8 778.6h0M1703.3 778.6h0M1707.9 778.6h0M1712.5 778.6h0M1717.0 777.5h0M1721.6 776.4h0M1726.2 775.3h0M1730.7 775.5h0M1735.3 775.7h0M1739.8 776.0h0M1744.4 776.2h0M1749.0 776.4h0M1753.5 776.8h0M1758.1 777.2h0M1762.7 777.6h0M1767.2 778.0h0M1771.8 778.3h0M1776.4 778.6h0M1780.9 779.0h0M1785.5 779.3h0M1790.0 779.4h0M1794.6 779.5h0M1799.2 779.7h0M1803.7 779.8h0M1808.3 779.8h0M1812.9 779.8h0M1817.4 771.3h0M1822.0 771.7h0M1826.6 772.2h0M1831.1 772.6h0M1835.7 773.0h0M1840.2 773.4h0M1844.8 773.8h0M1849.4 774.2h0M1853.9 774.5h0M1858.5 774.8h0M1863.1 775.0h0M1867.6 775.3h0M1872.2 775.6h0M1876.8 775.8h0M1881.3 776.1h0M1885.9 776.4h0M1890.5 776.6h0M1895.0 776.8h0M1899.6 776.9h0M1904.1 777.1h0M1908.7 777.2h0M1913.3 777.3h0M1917.8 777.4h0M1922.4 777.5h0M1927.0 777.6h0M1931.5 777.8h0M1936.1 777.9h0M1940.7 778.0h0M1945.2 778.2h0M1949.8 778.4h0M1954.3 778.6h0" stroke="#1eee2a" stroke-width="11.5" stroke-linecap="round" fill="none"/>
<path d="M1338.2 789.4h0M1342.8 782.7h0M1347.4 786.1h0M1351.9 788.3h0M1356.5 783.8h0M1361.1 770.4h0M1365.6 773.8h0M1370.2 776.0h0M1374.7 769.3h0M1379.3 772.6h0M1383.9 745.8h0M1388.4 748.0h0M1393.0 750.3h0M1397.6 752.5h0M1402.1 754.8h0M1406.7 755.3h0M1411.3 755.9h0M1415.8 754.8h0M1420.4 753.6h0M1424.9 753.6h0M1429.5 753.6h0M1434.1 752.3h0M1438.6 751.0h0M1443.2 752.3h0M1447.8 753.6h0M1452.3 754.2h0M1456.9 754.8h0M1461.5 755.9h0M1466.0 757.0h0M1470.6 757.4h0M1475.1 757.7h0M1479.7 758.2h0M1484.3 758.6h0M1488.8 759.2h0M1493.4 759.9h0M1498.0 758.8h0M1502.5 757.7h0M1507.1 757.4h0M1511.7 757.0h0M1516.2 757.4h0M1520.8 757.7h0M1525.4 757.9h0M1529.9 758.1h0M1534.5 759.2h0M1539.0 760.4h0M1543.6 761.5h0M1548.2 762.6h0M1552.7 763.4h0M1557.3 764.2h0M1561.9 765.1h0M1566.4 765.9h0M1571.0 766.5h0M1575.6 767.0h0M1580.1 767.6h0M1584.7 768.2h0M1589.2 768.5h0M1593.8 768.8h0M1598.4 769.0h0M1602.9 769.3h0M1607.5 769.8h0M1612.1 770.2h0M1616.6 770.6h0M1621.2 771.1h0M1625.8 771.3h0M1630.3 771.5h0M1634.9 771.8h0M1639.4 772.0h0M1644.0 772.0h0M1648.6 771.9h0M1653.1 771.8h0M1657.7 771.8h0M1662.3 771.8h0M1666.8 771.9h0M1671.4 772.0h0M1676.0 772.0h0M1680.5 772.1h0M1685.1 772.3h0M1689.6 772.5h0M1694.2 772.6h0M1698.8 772.6h0M1703.3 772.6h0M1707.9 772.6h0M1712.5 772.6h0M1717.0 771.5h0M1721.6 770.4h0M1726.2 769.3h0M1730.7 769.5h0M1735.3 769.7h0M1739.8 770.0h0M1744.4 770.2h0M1749.0 770.4h0M1753.5 770.8h0M1758.1 771.2h0M1762.7 771.6h0M1767.2 772.0h0M1771.8 772.3h0M1776.4 772.6h0M1780.9 773.0h0M1785.5 773.3h0M1790.0 773.4h0M1794.6 773.5h0M1799.2 773.7h0M1803.7 773.8h0M1808.3 773.8h0M1812.9 773.8h0M1817.4 765.3h0M1822.0 765.7h0M1826.6 766.2h0M1831.1 766.6h0M1835.7 767.0h0M1840.2 767.4h0M1844.8 767.8h0M1849.4 768.2h0M1853.9 768.5h0M1858.5 768.8h0M1863.1 769.0h0M1867.6 769.3h0M1872.2 769.6h0M1876.8 769.8h0M1881.3 770.1h0M1885.9 770.4h0M1890.5 770.6h0M1895.0 770.8h0M1899.6 770.9h0M1904.1 771.1h0M1908.7 771.2h0M1913.3 771.3h0M1917.8 771.4h0M1922.4 771.5h0M1927.0 771.6h0M1931.5 771.8h0M1936.1 771.9h0M1940.7 772.0h0M1945.2 772.2h0M1949.8 772.4h0M1954.3 772.6h0" stroke="#0000f0" stroke-width="11.5" stroke-linecap="round" fill="none"/>
<rect x="1292.60" y="659.40" width="730.20" height="205.50" fill="none" stroke="#000" stroke-width="3"/>
<line x1="1281.1" y1="659.40" x2="1292.6" y2="659.40" stroke="#000" stroke-width="3"/>
<line x1="1281.1" y1="727.90" x2="1292.6" y2="727.90" stroke="#000" stroke-width="3"/>
<line x1="1281.1" y1="796.40" x2="1292.6" y2="796.40" stroke="#000" stroke-width="3"/>
<line x1="1281.1" y1="864.90" x2="1292.6" y2="864.90" stroke="#000" stroke-width="3"/>
<line x1="1292.60" y1="864.9" x2="1292.60" y2="876.4" stroke="#000" stroke-width="3"/>
<line x1="1383.88" y1="864.9" x2="1383.88" y2="876.4" stroke="#000" stroke-width="3"/>
<line x1="1475.15" y1="864.9" x2="1475.15" y2="876.4" stroke="#000" stroke-width="3"/>
<line x1="1566.42" y1="864.9" x2="1566.42" y2="876.4" stroke="#000" stroke-width="3"/>
<line x1="1657.70" y1="864.9" x2="1657.70" y2="876.4" stroke="#000" stroke-width="3"/>
<line x1="1748.97" y1="864.9" x2="1748.97" y2="876.4" stroke="#000" stroke-width="3"/>
<line x1="1840.25" y1="864.9" x2="1840.25" y2="876.4" stroke="#000" stroke-width="3"/>
<line x1="1931.53" y1="864.9" x2="1931.53" y2="876.4" stroke="#000" stroke-width="3"/>
<line x1="2022.80" y1="864.9" x2="2022.80" y2="876.4" stroke="#000" stroke-width="3"/>
<text x="1237.34" y="671.82" font-family="'Liberation Sans', Arial, sans-serif" font-weight="bold" font-size="35.5">6</text>
<text x="1236.25" y="740.32" font-family="'Liberation Sans', Arial, sans-serif" font-weight="bold" font-size="35.5">4</text>
<text x="1237.48" y="808.82" font-family="'Liberation Sans', Arial, sans-serif" font-weight="bold" font-size="35.5">2</text>
<text x="1237.51" y="877.32" font-family="'Liberation Sans', Arial, sans-serif" font-weight="bold" font-size="35.5">0</text>
<text x="1282.75" y="925.90" font-family="'Liberation Sans', Arial, sans-serif" font-weight="bold" font-size="35.5">0</text>
<text x="1364.24" y="925.90" font-family="'Liberation Sans', Arial, sans-serif" font-weight="bold" font-size="35.5">20</text>
<text x="1455.87" y="925.90" font-family="'Liberation Sans', Arial, sans-serif" font-weight="bold" font-size="35.5">40</text>
<text x="1546.76" y="925.90" font-family="'Liberation Sans', Arial, sans-serif" font-weight="bold" font-size="35.5">60</text>
<text x="1638.12" y="925.90" font-family="'Liberation Sans', Arial, sans-serif" font-weight="bold" font-size="35.5">80</text>
<text x="1718.97" y="925.90" font-family="'Liberation Sans', Arial, sans-serif" font-weight="bold" font-size="35.5">100</text>
<text x="1810.24" y="925.90" font-family="'Liberation Sans', Arial, sans-serif" font-weight="bold" font-size="35.5">120</text>
<text x="1901.52" y="925.90" font-family="'Liberation Sans', Arial, sans-serif" font-weight="bold" font-size="35.5">140</text>
<text x="1992.79" y="925.90" font-family="'Liberation Sans', Arial, sans-serif" font-weight="bold" font-size="35.5">160</text>
<text transform="translate(1545.66 980.10) scale(0.9421 1)" font-family="'Liberation Sans', Arial, sans-serif" font-weight="bold" font-size="35.5" fill="#000">No. of Sample</text>
<text transform="translate(1221.30 840.36) rotate(-90) scale(0.9511 1)" font-family="'Liberation Sans', Arial, sans-serif" font-weight="bold" font-size="34.7" fill="#000">RMSE (m)</text>
<circle cx="1353.4" cy="594.7" r="5.3" fill="#f00a0a"/>
<text transform="translate(1373.21 606.00) scale(0.9556 1)" font-family="'Liberation Sans', Arial, sans-serif" font-weight="bold" font-size="35.5" fill="#000">Crt30.nn</text>
<circle cx="1558.1" cy="594.7" r="5.3" fill="#1eee2a"/>
<text transform="translate(1578.60 606.00) scale(0.9586 1)" font-family="'Liberation Sans', Arial, sans-serif" font-weight="bold" font-size="35.5" fill="#000">Crt30.bl</text>
<circle cx="1751.9" cy="594.7" r="5.3" fill="#0000f0"/>
<text transform="translate(1772.14 606.00) scale(0.9358 1)" font-family="'Liberation Sans', Arial, sans-serif" font-weight="bold" font-size="35.5" fill="#000">Crt30.bc</text>
<line x1="301.6" y1="1156.30" x2="1022.4" y2="1156.30" stroke="#5a5a5a" stroke-width="1.8" stroke-dasharray="6 4 1.5 4.5"/>
<line x1="301.6" y1="1224.20" x2="1022.4" y2="1224.20" stroke="#c4c4c4" stroke-width="1.8" stroke-dasharray="6 4 1.5 4.5"/>
<line x1="391.70" y1="1088.4" x2="391.70" y2="1292.1" stroke="#444" stroke-width="1.8" stroke-dasharray="5.5 5.4"/>
<line x1="481.80" y1="1088.4" x2="481.80" y2="1292.1" stroke="#444" stroke-width="1.8" stroke-dasharray="5.5 5.4"/>
<line x1="571.90" y1="1088.4" x2="571.90" y2="1292.1" stroke="#444" stroke-width="1.8" stroke-dasharray="5.5 5.4"/>
<line x1="662.00" y1="1088.4" x2="662.00" y2="1292.1" stroke="#444" stroke-width="1.8" stroke-dasharray="5.5 5.4"/>
<line x1="752.10" y1="1088.4" x2="752.10" y2="1292.1" stroke="#444" stroke-width="1.8" stroke-dasharray="5.5 5.4"/>
<line x1="842.20" y1="1088.4" x2="842.20" y2="1292.1" stroke="#444" stroke-width="1.8" stroke-dasharray="5.5 5.4"/>
<line x1="932.30" y1="1088.4" x2="932.30" y2="1292.1" stroke="#b8b8b8" stroke-width="1.8" stroke-dasharray="5.5 5.4"/>
<path d="M346.7 1205.8h0M351.2 1211.8h0M355.7 1214.4h0M360.2 1217.0h0M364.7 1222.2h0M369.2 1218.0h0M373.7 1213.7h0M378.2 1211.8h0M382.7 1209.8h0M387.2 1206.7h0M391.7 1200.2h0M396.2 1202.4h0M400.7 1204.5h0M405.2 1205.5h0M409.7 1206.5h0M414.2 1201.4h0M418.7 1196.4h0M423.2 1193.6h0M427.7 1190.8h0M432.2 1192.1h0M436.8 1193.3h0M441.3 1194.6h0M445.8 1195.9h0M450.3 1197.7h0M454.8 1199.6h0M459.3 1200.9h0M463.8 1202.1h0M468.3 1203.4h0M472.8 1204.8h0M477.3 1203.8h0M481.8 1202.8h0M486.3 1203.4h0M490.8 1204.0h0M495.3 1204.6h0M499.8 1205.1h0M504.3 1205.4h0M508.8 1205.7h0M513.3 1206.0h0M517.8 1206.3h0M522.3 1207.7h0M526.9 1209.1h0M531.4 1210.5h0M535.9 1211.9h0M540.4 1211.6h0M544.9 1211.3h0M549.4 1211.0h0M553.9 1210.8h0M558.4 1211.6h0M562.9 1212.5h0M567.4 1213.3h0M571.9 1214.2h0M576.4 1215.0h0M580.9 1215.9h0M585.4 1216.7h0M589.9 1217.5h0M594.4 1217.8h0M598.9 1218.1h0M603.4 1218.5h0M607.9 1218.8h0M612.4 1218.8h0M617.0 1218.8h0M621.5 1218.8h0M626.0 1218.8h0M630.5 1219.0h0M635.0 1219.1h0M639.5 1219.3h0M644.0 1219.4h0M648.5 1218.6h0M653.0 1217.7h0M657.5 1216.8h0M662.0 1216.0h0M666.5 1216.0h0M671.0 1216.0h0M675.5 1216.0h0M680.0 1216.0h0M684.5 1216.0h0M689.0 1216.0h0M693.5 1216.0h0M698.0 1216.1h0M702.5 1216.4h0M707.0 1216.7h0M711.6 1217.1h0M716.1 1217.4h0M720.6 1217.5h0M725.1 1217.6h0M729.6 1217.7h0M734.1 1217.8h0M738.6 1217.2h0M743.1 1216.6h0M747.6 1215.9h0M752.1 1215.3h0M756.6 1215.5h0M761.1 1215.7h0M765.6 1216.0h0M770.1 1216.2h0M774.6 1216.5h0M779.1 1216.9h0M783.6 1217.2h0M788.1 1217.5h0M792.6 1217.6h0M797.2 1217.6h0M801.7 1215.6h0M806.2 1213.6h0M810.7 1213.5h0M815.2 1213.4h0M819.7 1213.2h0M824.2 1213.1h0M828.7 1213.1h0M833.2 1213.1h0M837.7 1213.2h0M842.2 1213.2h0M846.7 1213.0h0M851.2 1212.9h0M855.7 1212.7h0M860.2 1212.6h0M864.7 1212.6h0M869.2 1212.6h0M873.7 1212.6h0M878.2 1212.6h0M882.7 1212.6h0M887.2 1212.7h0M891.8 1212.7h0M896.3 1212.7h0M900.8 1212.3h0M905.3 1211.9h0M909.8 1211.5h0M914.3 1211.1h0M918.8 1211.1h0M923.3 1211.1h0M927.8 1211.1h0M932.3 1211.2h0M936.8 1211.2h0M941.3 1211.3h0M945.8 1211.4h0M950.3 1211.5h0M954.8 1211.6h0" stroke="#f00a0a" stroke-width="11" stroke-linecap="round" fill="none"/>
<path d="M346.7 1212.3h0M351.2 1220.1h0M355.7 1224.6h0M360.2 1229.0h0M364.7 1230.2h0M369.2 1225.7h0M373.7 1221.2h0M378.2 1219.0h0M382.7 1216.8h0M387.2 1213.4h0M391.7 1206.7h0M396.2 1209.0h0M400.7 1211.2h0M405.2 1212.3h0M409.7 1213.4h0M414.2 1208.4h0M418.7 1203.4h0M423.2 1200.6h0M427.7 1197.8h0M432.2 1198.9h0M436.8 1200.0h0M441.3 1201.1h0M445.8 1202.2h0M450.3 1203.9h0M454.8 1205.6h0M459.3 1206.7h0M463.8 1207.8h0M468.3 1208.9h0M472.8 1210.1h0M477.3 1208.9h0M481.8 1207.8h0M486.3 1208.4h0M490.8 1208.9h0M495.3 1209.5h0M499.8 1210.1h0M504.3 1210.4h0M508.8 1210.7h0M513.3 1210.9h0M517.8 1211.2h0M522.3 1212.6h0M526.9 1214.0h0M531.4 1215.4h0M535.9 1216.8h0M540.4 1216.5h0M544.9 1216.2h0M549.4 1215.9h0M553.9 1215.6h0M558.4 1216.4h0M562.9 1217.3h0M567.4 1218.2h0M571.9 1219.0h0M576.4 1219.8h0M580.9 1220.7h0M585.4 1221.5h0M589.9 1222.3h0M594.4 1222.6h0M598.9 1222.9h0M603.4 1223.2h0M607.9 1223.5h0M612.4 1223.5h0M617.0 1223.5h0M621.5 1223.5h0M626.0 1223.5h0M630.5 1223.7h0M635.0 1223.8h0M639.5 1223.9h0M644.0 1224.1h0M648.5 1223.2h0M653.0 1222.3h0M657.5 1221.5h0M662.0 1220.6h0M666.5 1220.6h0M671.0 1220.6h0M675.5 1220.6h0M680.0 1220.6h0M684.5 1220.6h0M689.0 1220.6h0M693.5 1220.6h0M698.0 1220.6h0M702.5 1220.9h0M707.0 1221.2h0M711.6 1221.6h0M716.1 1221.9h0M720.6 1222.0h0M725.1 1222.1h0M729.6 1222.2h0M734.1 1222.3h0M738.6 1221.7h0M743.1 1221.0h0M747.6 1220.3h0M752.1 1219.7h0M756.6 1219.9h0M761.1 1220.2h0M765.6 1220.4h0M770.1 1220.6h0M774.6 1220.9h0M779.1 1221.2h0M783.6 1221.6h0M788.1 1221.9h0M792.6 1221.9h0M797.2 1221.9h0M801.7 1219.9h0M806.2 1217.9h0M810.7 1217.8h0M815.2 1217.7h0M819.7 1217.5h0M824.2 1217.4h0M828.7 1217.4h0M833.2 1217.4h0M837.7 1217.4h0M842.2 1217.4h0M846.7 1217.2h0M851.2 1217.1h0M855.7 1217.0h0M860.2 1216.8h0M864.7 1216.8h0M869.2 1216.8h0M873.7 1216.8h0M878.2 1216.8h0M882.7 1216.8h0M887.2 1216.8h0M891.8 1216.8h0M896.3 1216.8h0M900.8 1216.4h0M905.3 1216.0h0M909.8 1215.6h0M914.3 1215.2h0M918.8 1215.2h0M923.3 1215.2h0M927.8 1215.2h0M932.3 1215.2h0M936.8 1215.3h0M941.3 1215.4h0M945.8 1215.4h0M950.3 1215.5h0M954.8 1215.6h0" stroke="#1eee2a" stroke-width="11" stroke-linecap="round" fill="none"/>
<path d="M346.7 1210.3h0M351.2 1218.1h0M355.7 1222.6h0M360.2 1227.0h0M364.7 1228.2h0M369.2 1223.7h0M373.7 1219.2h0M378.2 1217.0h0M382.7 1214.8h0M387.2 1211.4h0M391.7 1204.7h0M396.2 1207.0h0M400.7 1209.2h0M405.2 1210.3h0M409.7 1211.4h0M414.2 1206.4h0M418.7 1201.4h0M423.2 1198.6h0M427.7 1195.8h0M432.2 1196.9h0M436.8 1198.0h0M441.3 1199.1h0M445.8 1200.2h0M450.3 1201.9h0M454.8 1203.6h0M459.3 1204.7h0M463.8 1205.8h0M468.3 1206.9h0M472.8 1208.1h0M477.3 1206.9h0M481.8 1205.8h0M486.3 1206.4h0M490.8 1206.9h0M495.3 1207.5h0M499.8 1208.1h0M504.3 1208.4h0M508.8 1208.7h0M513.3 1208.9h0M517.8 1209.2h0M522.3 1210.6h0M526.9 1212.0h0M531.4 1213.4h0M535.9 1214.8h0M540.4 1214.5h0M544.9 1214.2h0M549.4 1213.9h0M553.9 1213.6h0M558.4 1214.4h0M562.9 1215.3h0M567.4 1216.2h0M571.9 1217.0h0M576.4 1217.8h0M580.9 1218.7h0M585.4 1219.5h0M589.9 1220.3h0M594.4 1220.6h0M598.9 1220.9h0M603.4 1221.2h0M607.9 1221.5h0M612.4 1221.5h0M617.0 1221.5h0M621.5 1221.5h0M626.0 1221.5h0M630.5 1221.7h0M635.0 1221.8h0M639.5 1221.9h0M644.0 1222.1h0M648.5 1221.2h0M653.0 1220.3h0M657.5 1219.5h0M662.0 1218.6h0M666.5 1218.6h0M671.0 1218.6h0M675.5 1218.6h0M680.0 1218.6h0M684.5 1218.6h0M689.0 1218.6h0M693.5 1218.6h0M698.0 1218.6h0M702.5 1218.9h0M707.0 1219.2h0M711.6 1219.6h0M716.1 1219.9h0M720.6 1220.0h0M725.1 1220.1h0M729.6 1220.2h0M734.1 1220.3h0M738.6 1219.7h0M743.1 1219.0h0M747.6 1218.3h0M752.1 1217.7h0M756.6 1217.9h0M761.1 1218.2h0M765.6 1218.4h0M770.1 1218.6h0M774.6 1218.9h0M779.1 1219.2h0M783.6 1219.6h0M788.1 1219.9h0M792.6 1219.9h0M797.2 1219.9h0M801.7 1217.9h0M806.2 1215.9h0M810.7 1215.8h0M815.2 1215.7h0M819.7 1215.5h0M824.2 1215.4h0M828.7 1215.4h0M833.2 1215.4h0M837.7 1215.4h0M842.2 1215.4h0M846.7 1215.2h0M851.2 1215.1h0M855.7 1215.0h0M860.2 1214.8h0M864.7 1214.8h0M869.2 1214.8h0M873.7 1214.8h0M878.2 1214.8h0M882.7 1214.8h0M887.2 1214.8h0M891.8 1214.8h0M896.3 1214.8h0M900.8 1214.4h0M905.3 1214.0h0M909.8 1213.6h0M914.3 1213.2h0M918.8 1213.2h0M923.3 1213.2h0M927.8 1213.2h0M932.3 1213.2h0M936.8 1213.3h0M941.3 1213.4h0M945.8 1213.4h0M950.3 1213.5h0M954.8 1213.6h0" stroke="#0000f0" stroke-width="11" stroke-linecap="round" fill="none"/>
<rect x="301.60" y="1088.40" width="720.80" height="203.70" fill="none" stroke="#2a2a2a" stroke-width="2.8"/>
<line x1="290.1" y1="1088.40" x2="301.6" y2="1088.40" stroke="#2a2a2a" stroke-width="2.8"/>
<line x1="290.1" y1="1156.30" x2="301.6" y2="1156.30" stroke="#2a2a2a" stroke-width="2.8"/>
<line x1="290.1" y1="1224.20" x2="301.6" y2="1224.20" stroke="#2a2a2a" stroke-width="2.8"/>
<line x1="290.1" y1="1292.10" x2="301.6" y2="1292.10" stroke="#2a2a2a" stroke-width="2.8"/>
<line x1="301.60" y1="1292.1" x2="301.60" y2="1303.6" stroke="#2a2a2a" stroke-width="2.8"/>
<line x1="391.70" y1="1292.1" x2="391.70" y2="1303.6" stroke="#2a2a2a" stroke-width="2.8"/>
<line x1="481.80" y1="1292.1" x2="481.80" y2="1303.6" stroke="#2a2a2a" stroke-width="2.8"/>
<line x1="571.90" y1="1292.1" x2="571.90" y2="1303.6" stroke="#2a2a2a" stroke-width="2.8"/>
<line x1="662.00" y1="1292.1" x2="662.00" y2="1303.6" stroke="#2a2a2a" stroke-width="2.8"/>
<line x1="752.10" y1="1292.1" x2="752.10" y2="1303.6" stroke="#2a2a2a" stroke-width="2.8"/>
<line x1="842.20" y1="1292.1" x2="842.20" y2="1303.6" stroke="#2a2a2a" stroke-width="2.8"/>
<line x1="932.30" y1="1292.1" x2="932.30" y2="1303.6" stroke="#2a2a2a" stroke-width="2.8"/>
<line x1="1022.40" y1="1292.1" x2="1022.40" y2="1303.6" stroke="#2a2a2a" stroke-width="2.8"/>
<text x="246.89" y="1100.48" font-family="'Liberation Sans', Arial, sans-serif" font-weight="bold" font-size="34.5">9</text>
<text x="247.13" y="1168.38" font-family="'Liberation Sans', Arial, sans-serif" font-weight="bold" font-size="34.5">7</text>
<text x="246.57" y="1236.28" font-family="'Liberation Sans', Arial, sans-serif" font-weight="bold" font-size="34.5">5</text>
<text x="246.86" y="1304.17" font-family="'Liberation Sans', Arial, sans-serif" font-weight="bold" font-size="34.5">3</text>
<text x="292.03" y="1353.10" font-family="'Liberation Sans', Arial, sans-serif" font-weight="bold" font-size="34.5">0</text>
<text x="372.62" y="1353.10" font-family="'Liberation Sans', Arial, sans-serif" font-weight="bold" font-size="34.5">20</text>
<text x="463.06" y="1353.10" font-family="'Liberation Sans', Arial, sans-serif" font-weight="bold" font-size="34.5">40</text>
<text x="552.79" y="1353.10" font-family="'Liberation Sans', Arial, sans-serif" font-weight="bold" font-size="34.5">60</text>
<text x="642.97" y="1353.10" font-family="'Liberation Sans', Arial, sans-serif" font-weight="bold" font-size="34.5">80</text>
<text x="722.94" y="1353.10" font-family="'Liberation Sans', Arial, sans-serif" font-weight="bold" font-size="34.5">100</text>
<text x="813.04" y="1353.10" font-family="'Liberation Sans', Arial, sans-serif" font-weight="bold" font-size="34.5">120</text>
<text x="903.14" y="1353.10" font-family="'Liberation Sans', Arial, sans-serif" font-weight="bold" font-size="34.5">140</text>
<text x="993.24" y="1353.10" font-family="'Liberation Sans', Arial, sans-serif" font-weight="bold" font-size="34.5">160</text>
<text transform="translate(550.78 1405.10) scale(0.9486 1)" font-family="'Liberation Sans', Arial, sans-serif" font-weight="bold" font-size="35" fill="#000">No. of Sample</text>
<text transform="translate(230.30 1268.46) rotate(-90) scale(0.9594 1)" font-family="'Liberation Sans', Arial, sans-serif" font-weight="bold" font-size="34.4" fill="#000">RMSE (m)</text>
<circle cx="364.0" cy="1024.0" r="5" fill="#f00a0a"/>
<text transform="translate(383.14 1035.30) scale(0.9409 1)" font-family="'Liberation Sans', Arial, sans-serif" font-weight="bold" font-size="35.5" fill="#000">Srt30.nn</text>
<circle cx="564.1" cy="1024.0" r="5" fill="#1eee2a"/>
<text transform="translate(583.32 1035.30) scale(0.9552 1)" font-family="'Liberation Sans', Arial, sans-serif" font-weight="bold" font-size="35.5" fill="#000">Srt30.bl</text>
<circle cx="753.7" cy="1024.0" r="5" fill="#0000f0"/>
<text transform="translate(772.55 1035.30) scale(0.9252 1)" font-family="'Liberation Sans', Arial, sans-serif" font-weight="bold" font-size="35.5" fill="#000">Srt30.bc</text>
<line x1="1328.0" y1="1146.83" x2="2047.0" y2="1146.83" stroke="#5a5a5a" stroke-width="1.8" stroke-dasharray="6 4 1.5 4.5"/>
<line x1="1328.0" y1="1213.77" x2="2047.0" y2="1213.77" stroke="#5a5a5a" stroke-width="1.8" stroke-dasharray="6 4 1.5 4.5"/>
<line x1="1417.88" y1="1079.9" x2="1417.88" y2="1280.7" stroke="#444" stroke-width="1.8" stroke-dasharray="5.5 5.4"/>
<line x1="1507.75" y1="1079.9" x2="1507.75" y2="1280.7" stroke="#444" stroke-width="1.8" stroke-dasharray="5.5 5.4"/>
<line x1="1597.62" y1="1079.9" x2="1597.62" y2="1280.7" stroke="#b8b8b8" stroke-width="1.8" stroke-dasharray="5.5 5.4"/>
<line x1="1687.50" y1="1079.9" x2="1687.50" y2="1280.7" stroke="#444" stroke-width="1.8" stroke-dasharray="5.5 5.4"/>
<line x1="1777.38" y1="1079.9" x2="1777.38" y2="1280.7" stroke="#444" stroke-width="1.8" stroke-dasharray="5.5 5.4"/>
<line x1="1867.25" y1="1079.9" x2="1867.25" y2="1280.7" stroke="#444" stroke-width="1.8" stroke-dasharray="5.5 5.4"/>
<line x1="1957.12" y1="1079.9" x2="1957.12" y2="1280.7" stroke="#444" stroke-width="1.8" stroke-dasharray="5.5 5.4"/>
<path d="M1372.9 1227.0h0M1377.4 1221.4h0M1381.9 1222.5h0M1386.4 1220.3h0M1390.9 1221.0h0M1395.4 1220.3h0M1399.9 1221.4h0M1404.4 1222.5h0M1408.9 1223.2h0M1413.4 1219.6h0M1417.9 1216.9h0M1422.4 1216.9h0M1426.9 1216.9h0M1431.4 1218.1h0M1435.8 1220.3h0M1440.3 1220.3h0M1444.8 1210.2h0M1449.3 1209.1h0M1453.8 1208.0h0M1458.3 1206.9h0M1462.8 1205.8h0M1467.3 1205.2h0M1471.8 1204.6h0M1476.3 1204.0h0M1480.8 1203.5h0M1485.3 1204.0h0M1489.8 1204.6h0M1494.3 1205.2h0M1498.8 1205.8h0M1503.3 1206.3h0M1507.8 1206.9h0M1512.2 1207.6h0M1516.7 1208.3h0M1521.2 1209.1h0M1525.7 1209.8h0M1530.2 1209.9h0M1534.7 1210.0h0M1539.2 1210.1h0M1543.7 1210.2h0M1548.2 1210.1h0M1552.7 1210.0h0M1557.2 1209.9h0M1561.7 1209.8h0M1566.2 1209.8h0M1570.7 1209.8h0M1575.2 1209.8h0M1579.7 1209.8h0M1584.1 1209.9h0M1588.6 1210.0h0M1593.1 1210.1h0M1597.6 1210.2h0M1602.1 1210.5h0M1606.6 1210.8h0M1611.1 1211.1h0M1615.6 1211.4h0M1620.1 1211.4h0M1624.6 1211.4h0M1629.1 1211.4h0M1633.6 1211.4h0M1638.1 1211.4h0M1642.6 1211.4h0M1647.1 1211.4h0M1651.5 1211.4h0M1656.0 1211.4h0M1660.5 1211.4h0M1665.0 1211.4h0M1669.5 1211.4h0M1674.0 1211.4h0M1678.5 1211.5h0M1683.0 1211.5h0M1687.5 1211.5h0M1692.0 1212.0h0M1696.5 1212.5h0M1701.0 1210.0h0M1705.5 1207.5h0M1710.0 1207.8h0M1714.5 1208.0h0M1719.0 1208.2h0M1723.5 1208.5h0M1727.9 1208.8h0M1732.4 1209.0h0M1736.9 1209.2h0M1741.4 1209.5h0M1745.9 1209.1h0M1750.4 1208.8h0M1754.9 1208.4h0M1759.4 1208.0h0M1763.9 1208.4h0M1768.4 1208.8h0M1772.9 1209.1h0M1777.4 1209.5h0M1781.9 1209.8h0M1786.4 1210.0h0M1790.9 1210.2h0M1795.3 1210.5h0M1799.8 1210.8h0M1804.3 1211.0h0M1808.8 1211.2h0M1813.3 1211.5h0M1817.8 1211.5h0M1822.3 1211.5h0M1826.8 1211.5h0M1831.3 1209.2h0M1835.8 1207.0h0M1840.3 1206.7h0M1844.8 1206.3h0M1849.3 1206.0h0M1853.8 1206.1h0M1858.3 1206.2h0M1862.8 1206.4h0M1867.2 1206.5h0M1871.7 1206.6h0M1876.2 1206.8h0M1880.7 1206.9h0M1885.2 1207.0h0M1889.7 1207.0h0M1894.2 1207.0h0M1898.7 1207.0h0M1903.2 1207.0h0M1907.7 1207.0h0M1912.2 1207.0h0M1916.7 1207.0h0M1921.2 1207.0h0M1925.7 1206.8h0M1930.2 1206.5h0M1934.7 1206.2h0M1939.2 1206.0h0M1943.6 1206.0h0M1948.1 1206.0h0M1952.6 1206.0h0M1957.1 1206.0h0M1961.6 1206.1h0M1966.1 1206.2h0M1970.6 1206.3h0M1975.1 1206.4h0M1979.6 1206.5h0" stroke="#f00a0a" stroke-width="11.5" stroke-linecap="round" fill="none"/>
<path d="M1372.9 1241.3h0M1377.4 1236.8h0M1381.9 1239.1h0M1386.4 1240.2h0M1390.9 1237.9h0M1395.4 1235.7h0M1399.9 1232.3h0M1404.4 1235.7h0M1408.9 1235.7h0M1413.4 1234.6h0M1417.9 1229.0h0M1422.4 1225.6h0M1426.9 1226.8h0M1431.4 1229.0h0M1435.8 1231.2h0M1440.3 1231.2h0M1444.8 1221.2h0M1449.3 1220.1h0M1453.8 1218.9h0M1458.3 1217.8h0M1462.8 1216.7h0M1467.3 1215.6h0M1471.8 1214.5h0M1476.3 1214.0h0M1480.8 1213.4h0M1485.3 1214.0h0M1489.8 1214.5h0M1494.3 1215.0h0M1498.8 1215.6h0M1503.3 1216.2h0M1507.8 1216.7h0M1512.2 1217.2h0M1516.7 1217.8h0M1521.2 1218.4h0M1525.7 1218.9h0M1530.2 1219.5h0M1534.7 1220.1h0M1539.2 1220.6h0M1543.7 1221.2h0M1548.2 1220.9h0M1552.7 1220.7h0M1557.2 1220.4h0M1561.7 1220.1h0M1566.2 1219.8h0M1570.7 1219.5h0M1575.2 1219.2h0M1579.7 1218.9h0M1584.1 1219.2h0M1588.6 1219.5h0M1593.1 1219.8h0M1597.6 1220.1h0M1602.1 1219.8h0M1606.6 1219.5h0M1611.1 1219.2h0M1615.6 1218.9h0M1620.1 1218.8h0M1624.6 1218.7h0M1629.1 1218.6h0M1633.6 1218.5h0M1638.1 1218.6h0M1642.6 1218.7h0M1647.1 1218.8h0M1651.5 1218.9h0M1656.0 1218.8h0M1660.5 1218.7h0M1665.0 1218.6h0M1669.5 1218.5h0M1674.0 1218.3h0M1678.5 1218.2h0M1683.0 1218.0h0M1687.5 1217.8h0M1692.0 1218.6h0M1696.5 1219.4h0M1701.0 1216.4h0M1705.5 1213.4h0M1710.0 1213.7h0M1714.5 1214.0h0M1719.0 1214.2h0M1723.5 1214.5h0M1727.9 1214.8h0M1732.4 1215.0h0M1736.9 1215.3h0M1741.4 1215.6h0M1745.9 1215.2h0M1750.4 1214.8h0M1754.9 1214.4h0M1759.4 1214.0h0M1763.9 1214.4h0M1768.4 1214.8h0M1772.9 1215.2h0M1777.4 1215.6h0M1781.9 1215.9h0M1786.4 1216.2h0M1790.9 1216.4h0M1795.3 1216.7h0M1799.8 1217.0h0M1804.3 1217.2h0M1808.8 1217.5h0M1813.3 1217.8h0M1817.8 1217.8h0M1822.3 1217.8h0M1826.8 1217.8h0M1831.3 1215.6h0M1835.8 1213.4h0M1840.3 1213.0h0M1844.8 1212.6h0M1849.3 1212.2h0M1853.8 1212.3h0M1858.3 1212.5h0M1862.8 1212.6h0M1867.2 1212.7h0M1871.7 1212.9h0M1876.2 1213.1h0M1880.7 1213.2h0M1885.2 1213.4h0M1889.7 1213.4h0M1894.2 1213.4h0M1898.7 1213.4h0M1903.2 1213.4h0M1907.7 1213.4h0M1912.2 1213.4h0M1916.7 1213.4h0M1921.2 1213.4h0M1925.7 1213.1h0M1930.2 1212.8h0M1934.7 1212.5h0M1939.2 1212.2h0M1943.6 1212.2h0M1948.1 1212.2h0M1952.6 1212.2h0M1957.1 1212.2h0M1961.6 1212.3h0M1966.1 1212.5h0M1970.6 1212.6h0M1975.1 1212.8h0M1979.6 1212.9h0" stroke="#1eee2a" stroke-width="11.5" stroke-linecap="round" fill="none"/>
<path d="M1372.9 1239.3h0M1377.4 1234.8h0M1381.9 1237.1h0M1386.4 1238.2h0M1390.9 1235.9h0M1395.4 1233.7h0M1399.9 1230.3h0M1404.4 1233.7h0M1408.9 1233.7h0M1413.4 1232.6h0M1417.9 1227.0h0M1422.4 1223.6h0M1426.9 1224.8h0M1431.4 1227.0h0M1435.8 1229.2h0M1440.3 1229.2h0M1444.8 1219.2h0M1449.3 1218.1h0M1453.8 1216.9h0M1458.3 1215.8h0M1462.8 1214.7h0M1467.3 1213.6h0M1471.8 1212.5h0M1476.3 1212.0h0M1480.8 1211.4h0M1485.3 1212.0h0M1489.8 1212.5h0M1494.3 1213.0h0M1498.8 1213.6h0M1503.3 1214.2h0M1507.8 1214.7h0M1512.2 1215.2h0M1516.7 1215.8h0M1521.2 1216.4h0M1525.7 1216.9h0M1530.2 1217.5h0M1534.7 1218.1h0M1539.2 1218.6h0M1543.7 1219.2h0M1548.2 1218.9h0M1552.7 1218.7h0M1557.2 1218.4h0M1561.7 1218.1h0M1566.2 1217.8h0M1570.7 1217.5h0M1575.2 1217.2h0M1579.7 1216.9h0M1584.1 1217.2h0M1588.6 1217.5h0M1593.1 1217.8h0M1597.6 1218.1h0M1602.1 1217.8h0M1606.6 1217.5h0M1611.1 1217.2h0M1615.6 1216.9h0M1620.1 1216.8h0M1624.6 1216.7h0M1629.1 1216.6h0M1633.6 1216.5h0M1638.1 1216.6h0M1642.6 1216.7h0M1647.1 1216.8h0M1651.5 1216.9h0M1656.0 1216.8h0M1660.5 1216.7h0M1665.0 1216.6h0M1669.5 1216.5h0M1674.0 1216.3h0M1678.5 1216.2h0M1683.0 1216.0h0M1687.5 1215.8h0M1692.0 1216.6h0M1696.5 1217.4h0M1701.0 1214.4h0M1705.5 1211.4h0M1710.0 1211.7h0M1714.5 1212.0h0M1719.0 1212.2h0M1723.5 1212.5h0M1727.9 1212.8h0M1732.4 1213.0h0M1736.9 1213.3h0M1741.4 1213.6h0M1745.9 1213.2h0M1750.4 1212.8h0M1754.9 1212.4h0M1759.4 1212.0h0M1763.9 1212.4h0M1768.4 1212.8h0M1772.9 1213.2h0M1777.4 1213.6h0M1781.9 1213.9h0M1786.4 1214.2h0M1790.9 1214.4h0M1795.3 1214.7h0M1799.8 1215.0h0M1804.3 1215.2h0M1808.8 1215.5h0M1813.3 1215.8h0M1817.8 1215.8h0M1822.3 1215.8h0M1826.8 1215.8h0M1831.3 1213.6h0M1835.8 1211.4h0M1840.3 1211.0h0M1844.8 1210.6h0M1849.3 1210.2h0M1853.8 1210.3h0M1858.3 1210.5h0M1862.8 1210.6h0M1867.2 1210.7h0M1871.7 1210.9h0M1876.2 1211.1h0M1880.7 1211.2h0M1885.2 1211.4h0M1889.7 1211.4h0M1894.2 1211.4h0M1898.7 1211.4h0M1903.2 1211.4h0M1907.7 1211.4h0M1912.2 1211.4h0M1916.7 1211.4h0M1921.2 1211.4h0M1925.7 1211.1h0M1930.2 1210.8h0M1934.7 1210.5h0M1939.2 1210.2h0M1943.6 1210.2h0M1948.1 1210.2h0M1952.6 1210.2h0M1957.1 1210.2h0M1961.6 1210.3h0M1966.1 1210.5h0M1970.6 1210.6h0M1975.1 1210.8h0M1979.6 1210.9h0" stroke="#0000f0" stroke-width="11.5" stroke-linecap="round" fill="none"/>
<rect x="1328.00" y="1079.90" width="719.00" height="200.80" fill="none" stroke="#000" stroke-width="3"/>
<line x1="1316.5" y1="1079.90" x2="1328.0" y2="1079.90" stroke="#000" stroke-width="3"/>
<line x1="1316.5" y1="1146.83" x2="1328.0" y2="1146.83" stroke="#000" stroke-width="3"/>
<line x1="1316.5" y1="1213.77" x2="1328.0" y2="1213.77" stroke="#000" stroke-width="3"/>
<line x1="1316.5" y1="1280.70" x2="1328.0" y2="1280.70" stroke="#000" stroke-width="3"/>
<line x1="1328.00" y1="1280.7" x2="1328.00" y2="1292.2" stroke="#000" stroke-width="3"/>
<line x1="1417.88" y1="1280.7" x2="1417.88" y2="1292.2" stroke="#000" stroke-width="3"/>
<line x1="1507.75" y1="1280.7" x2="1507.75" y2="1292.2" stroke="#000" stroke-width="3"/>
<line x1="1597.62" y1="1280.7" x2="1597.62" y2="1292.2" stroke="#000" stroke-width="3"/>
<line x1="1687.50" y1="1280.7" x2="1687.50" y2="1292.2" stroke="#000" stroke-width="3"/>
<line x1="1777.38" y1="1280.7" x2="1777.38" y2="1292.2" stroke="#000" stroke-width="3"/>
<line x1="1867.25" y1="1280.7" x2="1867.25" y2="1292.2" stroke="#000" stroke-width="3"/>
<line x1="1957.12" y1="1280.7" x2="1957.12" y2="1292.2" stroke="#000" stroke-width="3"/>
<line x1="2047.00" y1="1280.7" x2="2047.00" y2="1292.2" stroke="#000" stroke-width="3"/>
<text x="1272.74" y="1092.33" font-family="'Liberation Sans', Arial, sans-serif" font-weight="bold" font-size="35.5">6</text>
<text x="1271.65" y="1159.26" font-family="'Liberation Sans', Arial, sans-serif" font-weight="bold" font-size="35.5">4</text>
<text x="1272.88" y="1226.19" font-family="'Liberation Sans', Arial, sans-serif" font-weight="bold" font-size="35.5">2</text>
<text x="1272.91" y="1293.12" font-family="'Liberation Sans', Arial, sans-serif" font-weight="bold" font-size="35.5">0</text>
<text x="1318.15" y="1341.70" font-family="'Liberation Sans', Arial, sans-serif" font-weight="bold" font-size="35.5">0</text>
<text x="1398.24" y="1341.70" font-family="'Liberation Sans', Arial, sans-serif" font-weight="bold" font-size="35.5">20</text>
<text x="1488.47" y="1341.70" font-family="'Liberation Sans', Arial, sans-serif" font-weight="bold" font-size="35.5">40</text>
<text x="1577.96" y="1341.70" font-family="'Liberation Sans', Arial, sans-serif" font-weight="bold" font-size="35.5">60</text>
<text x="1667.92" y="1341.70" font-family="'Liberation Sans', Arial, sans-serif" font-weight="bold" font-size="35.5">80</text>
<text x="1747.37" y="1341.70" font-family="'Liberation Sans', Arial, sans-serif" font-weight="bold" font-size="35.5">100</text>
<text x="1837.24" y="1341.70" font-family="'Liberation Sans', Arial, sans-serif" font-weight="bold" font-size="35.5">120</text>
<text x="1927.12" y="1341.70" font-family="'Liberation Sans', Arial, sans-serif" font-weight="bold" font-size="35.5">140</text>
<text x="2016.99" y="1341.70" font-family="'Liberation Sans', Arial, sans-serif" font-weight="bold" font-size="35.5">160</text>
<text transform="translate(1576.79 1394.80) scale(0.9309 1)" font-family="'Liberation Sans', Arial, sans-serif" font-weight="bold" font-size="35.5" fill="#000">No. of Sample</text>
<text transform="translate(1258.00 1256.71) rotate(-90) scale(0.9292 1)" font-family="'Liberation Sans', Arial, sans-serif" font-weight="bold" font-size="34.7" fill="#000">RMSE (m)</text>
<circle cx="1391.2" cy="1016.2" r="5.3" fill="#f00a0a"/>
<text transform="translate(1410.74 1027.50) scale(0.9409 1)" font-family="'Liberation Sans', Arial, sans-serif" font-weight="bold" font-size="35.5" fill="#000">Srt30.nn</text>
<circle cx="1589.6" cy="1016.2" r="5.3" fill="#1eee2a"/>
<text transform="translate(1610.14 1027.50) scale(0.9386 1)" font-family="'Liberation Sans', Arial, sans-serif" font-weight="bold" font-size="35.5" fill="#000">Srt30.bl</text>
<circle cx="1777.7" cy="1016.2" r="5.3" fill="#0000f0"/>
<text transform="translate(1797.96 1027.50) scale(0.9208 1)" font-family="'Liberation Sans', Arial, sans-serif" font-weight="bold" font-size="35.5" fill="#000">Srt30.bc</text>
<line x1="307.8" y1="1570.20" x2="1029.5" y2="1570.20" stroke="#5a5a5a" stroke-width="1.8" stroke-dasharray="6 4 1.5 4.5"/>
<line x1="307.8" y1="1638.10" x2="1029.5" y2="1638.10" stroke="#c4c4c4" stroke-width="1.8" stroke-dasharray="6 4 1.5 4.5"/>
<line x1="398.01" y1="1502.3" x2="398.01" y2="1706.0" stroke="#444" stroke-width="1.8" stroke-dasharray="5.5 5.4"/>
<line x1="488.23" y1="1502.3" x2="488.23" y2="1706.0" stroke="#444" stroke-width="1.8" stroke-dasharray="5.5 5.4"/>
<line x1="578.44" y1="1502.3" x2="578.44" y2="1706.0" stroke="#444" stroke-width="1.8" stroke-dasharray="5.5 5.4"/>
<line x1="668.65" y1="1502.3" x2="668.65" y2="1706.0" stroke="#444" stroke-width="1.8" stroke-dasharray="5.5 5.4"/>
<line x1="758.86" y1="1502.3" x2="758.86" y2="1706.0" stroke="#444" stroke-width="1.8" stroke-dasharray="5.5 5.4"/>
<line x1="849.08" y1="1502.3" x2="849.08" y2="1706.0" stroke="#444" stroke-width="1.8" stroke-dasharray="5.5 5.4"/>
<line x1="939.29" y1="1502.3" x2="939.29" y2="1706.0" stroke="#444" stroke-width="1.8" stroke-dasharray="5.5 5.4"/>
<path d="M352.9 1637.0h0M357.4 1639.7h0M361.9 1640.1h0M366.4 1641.2h0M370.9 1645.4h0M375.5 1636.6h0M380.0 1632.1h0M384.5 1629.9h0M389.0 1627.6h0M393.5 1626.5h0M398.0 1624.3h0M402.5 1624.3h0M407.0 1624.3h0M411.5 1623.8h0M416.1 1623.2h0M420.6 1619.8h0M425.1 1613.8h0M429.6 1610.5h0M434.1 1607.3h0M438.6 1606.2h0M443.1 1608.4h0M447.6 1610.1h0M452.1 1611.8h0M456.7 1614.0h0M461.2 1616.2h0M465.7 1616.2h0M470.2 1616.2h0M474.7 1616.8h0M479.2 1617.3h0M483.7 1615.7h0M488.2 1614.0h0M492.7 1614.8h0M497.2 1615.7h0M501.8 1616.5h0M506.3 1617.3h0M510.8 1618.2h0M515.3 1619.0h0M519.8 1619.8h0M524.3 1620.7h0M528.8 1622.1h0M533.3 1623.5h0M537.8 1624.9h0M542.4 1626.3h0M546.9 1624.0h0M551.4 1621.8h0M555.9 1622.4h0M560.4 1622.9h0M564.9 1623.5h0M569.4 1624.1h0M573.9 1625.2h0M578.4 1626.3h0M582.9 1627.4h0M587.5 1628.5h0M592.0 1629.1h0M596.5 1629.7h0M601.0 1630.2h0M605.5 1630.8h0M610.0 1630.5h0M614.5 1630.2h0M619.0 1629.9h0M623.5 1629.6h0M628.1 1629.9h0M632.6 1630.2h0M637.1 1630.5h0M641.6 1630.8h0M646.1 1630.2h0M650.6 1629.7h0M655.1 1629.1h0M659.6 1628.5h0M664.1 1628.0h0M668.7 1627.4h0M673.2 1626.8h0M677.7 1626.3h0M682.2 1626.7h0M686.7 1627.0h0M691.2 1626.7h0M695.7 1626.3h0M700.2 1625.9h0M704.7 1625.6h0M709.2 1625.9h0M713.8 1626.3h0M718.3 1626.7h0M722.8 1627.0h0M727.3 1627.2h0M731.8 1627.5h0M736.3 1627.7h0M740.8 1627.9h0M745.3 1627.5h0M749.8 1627.1h0M754.4 1626.7h0M758.9 1626.3h0M763.4 1626.5h0M767.9 1626.7h0M772.4 1626.8h0M776.9 1627.0h0M781.4 1627.4h0M785.9 1627.8h0M790.4 1628.1h0M794.9 1628.5h0M799.5 1628.1h0M804.0 1627.8h0M808.5 1627.4h0M813.0 1627.0h0M817.5 1626.8h0M822.0 1626.7h0M826.5 1626.5h0M831.0 1626.3h0M835.5 1626.5h0M840.1 1626.7h0M844.6 1626.8h0M849.1 1627.0h0M853.6 1626.8h0M858.1 1626.7h0M862.6 1626.5h0M867.1 1626.3h0M871.6 1626.5h0M876.1 1626.7h0M880.6 1626.8h0M885.2 1627.0h0M889.7 1626.8h0M894.2 1626.7h0M898.7 1626.5h0M903.2 1626.3h0M907.7 1625.9h0M912.2 1625.5h0M916.7 1625.1h0M921.2 1624.7h0M925.8 1624.5h0M930.3 1624.4h0M934.8 1624.2h0M939.3 1624.1h0M943.8 1624.1h0M948.3 1624.1h0M952.8 1624.1h0M957.3 1624.1h0M961.8 1624.1h0" stroke="#f00a0a" stroke-width="11" stroke-linecap="round" fill="none"/>
<path d="M352.9 1639.0h0M357.4 1645.7h0M361.9 1649.1h0M366.4 1650.2h0M370.9 1652.4h0M375.5 1644.6h0M380.0 1640.1h0M384.5 1637.9h0M389.0 1635.6h0M393.5 1634.5h0M398.0 1632.3h0M402.5 1632.3h0M407.0 1632.3h0M411.5 1631.8h0M416.1 1631.2h0M420.6 1627.8h0M425.1 1621.1h0M429.6 1617.2h0M434.1 1613.3h0M438.6 1612.2h0M443.1 1614.4h0M447.6 1616.1h0M452.1 1617.8h0M456.7 1620.0h0M461.2 1622.2h0M465.7 1622.2h0M470.2 1622.2h0M474.7 1622.8h0M479.2 1623.3h0M483.7 1621.7h0M488.2 1620.0h0M492.7 1620.8h0M497.2 1621.7h0M501.8 1622.5h0M506.3 1623.3h0M510.8 1624.2h0M515.3 1625.0h0M519.8 1625.8h0M524.3 1626.7h0M528.8 1628.1h0M533.3 1629.5h0M537.8 1630.9h0M542.4 1632.3h0M546.9 1630.0h0M551.4 1627.8h0M555.9 1628.4h0M560.4 1628.9h0M564.9 1629.5h0M569.4 1630.1h0M573.9 1631.2h0M578.4 1632.3h0M582.9 1633.4h0M587.5 1634.5h0M592.0 1635.1h0M596.5 1635.7h0M601.0 1636.2h0M605.5 1636.8h0M610.0 1636.5h0M614.5 1636.2h0M619.0 1635.9h0M623.5 1635.6h0M628.1 1635.9h0M632.6 1636.2h0M637.1 1636.5h0M641.6 1636.8h0M646.1 1636.2h0M650.6 1635.7h0M655.1 1635.1h0M659.6 1634.5h0M664.1 1634.0h0M668.7 1633.4h0M673.2 1632.8h0M677.7 1632.3h0M682.2 1632.7h0M686.7 1633.0h0M691.2 1632.7h0M695.7 1632.3h0M700.2 1631.9h0M704.7 1631.6h0M709.2 1631.9h0M713.8 1632.3h0M718.3 1632.7h0M722.8 1633.0h0M727.3 1633.2h0M731.8 1633.5h0M736.3 1633.7h0M740.8 1633.9h0M745.3 1633.5h0M749.8 1633.1h0M754.4 1632.7h0M758.9 1632.3h0M763.4 1632.5h0M767.9 1632.7h0M772.4 1632.8h0M776.9 1633.0h0M781.4 1633.4h0M785.9 1633.8h0M790.4 1634.1h0M794.9 1634.5h0M799.5 1634.1h0M804.0 1633.8h0M808.5 1633.4h0M813.0 1633.0h0M817.5 1632.8h0M822.0 1632.7h0M826.5 1632.5h0M831.0 1632.3h0M835.5 1632.5h0M840.1 1632.7h0M844.6 1632.8h0M849.1 1633.0h0M853.6 1632.8h0M858.1 1632.7h0M862.6 1632.5h0M867.1 1632.3h0M871.6 1632.5h0M876.1 1632.7h0M880.6 1632.8h0M885.2 1633.0h0M889.7 1632.8h0M894.2 1632.7h0M898.7 1632.5h0M903.2 1632.3h0M907.7 1631.9h0M912.2 1631.5h0M916.7 1631.1h0M921.2 1630.7h0M925.8 1630.5h0M930.3 1630.4h0M934.8 1630.2h0M939.3 1630.1h0M943.8 1630.1h0M948.3 1630.1h0M952.8 1630.1h0M957.3 1630.1h0M961.8 1630.1h0" stroke="#1eee2a" stroke-width="11" stroke-linecap="round" fill="none"/>
<path d="M352.9 1637.0h0M357.4 1643.7h0M361.9 1647.1h0M366.4 1648.2h0M370.9 1650.4h0M375.5 1642.6h0M380.0 1638.1h0M384.5 1635.9h0M389.0 1633.6h0M393.5 1632.5h0M398.0 1630.3h0M402.5 1630.3h0M407.0 1630.3h0M411.5 1629.8h0M416.1 1629.2h0M420.6 1625.8h0M425.1 1619.1h0M429.6 1615.2h0M434.1 1611.3h0M438.6 1610.2h0M443.1 1612.4h0M447.6 1614.1h0M452.1 1615.8h0M456.7 1618.0h0M461.2 1620.2h0M465.7 1620.2h0M470.2 1620.2h0M474.7 1620.8h0M479.2 1621.3h0M483.7 1619.7h0M488.2 1618.0h0M492.7 1618.8h0M497.2 1619.7h0M501.8 1620.5h0M506.3 1621.3h0M510.8 1622.2h0M515.3 1623.0h0M519.8 1623.8h0M524.3 1624.7h0M528.8 1626.1h0M533.3 1627.5h0M537.8 1628.9h0M542.4 1630.3h0M546.9 1628.0h0M551.4 1625.8h0M555.9 1626.4h0M560.4 1626.9h0M564.9 1627.5h0M569.4 1628.1h0M573.9 1629.2h0M578.4 1630.3h0M582.9 1631.4h0M587.5 1632.5h0M592.0 1633.1h0M596.5 1633.7h0M601.0 1634.2h0M605.5 1634.8h0M610.0 1634.5h0M614.5 1634.2h0M619.0 1633.9h0M623.5 1633.6h0M628.1 1633.9h0M632.6 1634.2h0M637.1 1634.5h0M641.6 1634.8h0M646.1 1634.2h0M650.6 1633.7h0M655.1 1633.1h0M659.6 1632.5h0M664.1 1632.0h0M668.7 1631.4h0M673.2 1630.8h0M677.7 1630.3h0M682.2 1630.7h0M686.7 1631.0h0M691.2 1630.7h0M695.7 1630.3h0M700.2 1629.9h0M704.7 1629.6h0M709.2 1629.9h0M713.8 1630.3h0M718.3 1630.7h0M722.8 1631.0h0M727.3 1631.2h0M731.8 1631.5h0M736.3 1631.7h0M740.8 1631.9h0M745.3 1631.5h0M749.8 1631.1h0M754.4 1630.7h0M758.9 1630.3h0M763.4 1630.5h0M767.9 1630.7h0M772.4 1630.8h0M776.9 1631.0h0M781.4 1631.4h0M785.9 1631.8h0M790.4 1632.1h0M794.9 1632.5h0M799.5 1632.1h0M804.0 1631.8h0M808.5 1631.4h0M813.0 1631.0h0M817.5 1630.8h0M822.0 1630.7h0M826.5 1630.5h0M831.0 1630.3h0M835.5 1630.5h0M840.1 1630.7h0M844.6 1630.8h0M849.1 1631.0h0M853.6 1630.8h0M858.1 1630.7h0M862.6 1630.5h0M867.1 1630.3h0M871.6 1630.5h0M876.1 1630.7h0M880.6 1630.8h0M885.2 1631.0h0M889.7 1630.8h0M894.2 1630.7h0M898.7 1630.5h0M903.2 1630.3h0M907.7 1629.9h0M912.2 1629.5h0M916.7 1629.1h0M921.2 1628.7h0M925.8 1628.5h0M930.3 1628.4h0M934.8 1628.2h0M939.3 1628.1h0M943.8 1628.1h0M948.3 1628.1h0M952.8 1628.1h0M957.3 1628.1h0M961.8 1628.1h0" stroke="#0000f0" stroke-width="11" stroke-linecap="round" fill="none"/>
<rect x="307.80" y="1502.30" width="721.70" height="203.70" fill="none" stroke="#111" stroke-width="2.8"/>
<line x1="296.3" y1="1502.30" x2="307.8" y2="1502.30" stroke="#111" stroke-width="2.8"/>
<line x1="296.3" y1="1570.20" x2="307.8" y2="1570.20" stroke="#111" stroke-width="2.8"/>
<line x1="296.3" y1="1638.10" x2="307.8" y2="1638.10" stroke="#111" stroke-width="2.8"/>
<line x1="296.3" y1="1706.00" x2="307.8" y2="1706.00" stroke="#111" stroke-width="2.8"/>
<line x1="307.80" y1="1706.0" x2="307.80" y2="1717.5" stroke="#111" stroke-width="2.8"/>
<line x1="398.01" y1="1706.0" x2="398.01" y2="1717.5" stroke="#111" stroke-width="2.8"/>
<line x1="488.23" y1="1706.0" x2="488.23" y2="1717.5" stroke="#111" stroke-width="2.8"/>
<line x1="578.44" y1="1706.0" x2="578.44" y2="1717.5" stroke="#111" stroke-width="2.8"/>
<line x1="668.65" y1="1706.0" x2="668.65" y2="1717.5" stroke="#111" stroke-width="2.8"/>
<line x1="758.86" y1="1706.0" x2="758.86" y2="1717.5" stroke="#111" stroke-width="2.8"/>
<line x1="849.08" y1="1706.0" x2="849.08" y2="1717.5" stroke="#111" stroke-width="2.8"/>
<line x1="939.29" y1="1706.0" x2="939.29" y2="1717.5" stroke="#111" stroke-width="2.8"/>
<line x1="1029.50" y1="1706.0" x2="1029.50" y2="1717.5" stroke="#111" stroke-width="2.8"/>
<text x="253.09" y="1514.38" font-family="'Liberation Sans', Arial, sans-serif" font-weight="bold" font-size="34.5">9</text>
<text x="253.33" y="1582.28" font-family="'Liberation Sans', Arial, sans-serif" font-weight="bold" font-size="34.5">7</text>
<text x="252.77" y="1650.17" font-family="'Liberation Sans', Arial, sans-serif" font-weight="bold" font-size="34.5">5</text>
<text x="253.06" y="1718.08" font-family="'Liberation Sans', Arial, sans-serif" font-weight="bold" font-size="34.5">3</text>
<text x="298.23" y="1767.00" font-family="'Liberation Sans', Arial, sans-serif" font-weight="bold" font-size="34.5">0</text>
<text x="378.93" y="1767.00" font-family="'Liberation Sans', Arial, sans-serif" font-weight="bold" font-size="34.5">20</text>
<text x="469.48" y="1767.00" font-family="'Liberation Sans', Arial, sans-serif" font-weight="bold" font-size="34.5">40</text>
<text x="559.33" y="1767.00" font-family="'Liberation Sans', Arial, sans-serif" font-weight="bold" font-size="34.5">60</text>
<text x="649.62" y="1767.00" font-family="'Liberation Sans', Arial, sans-serif" font-weight="bold" font-size="34.5">80</text>
<text x="729.70" y="1767.00" font-family="'Liberation Sans', Arial, sans-serif" font-weight="bold" font-size="34.5">100</text>
<text x="819.92" y="1767.00" font-family="'Liberation Sans', Arial, sans-serif" font-weight="bold" font-size="34.5">120</text>
<text x="910.13" y="1767.00" font-family="'Liberation Sans', Arial, sans-serif" font-weight="bold" font-size="34.5">140</text>
<text x="1000.34" y="1767.00" font-family="'Liberation Sans', Arial, sans-serif" font-weight="bold" font-size="34.5">160</text>
<text transform="translate(557.43 1820.10) scale(0.9486 1)" font-family="'Liberation Sans', Arial, sans-serif" font-weight="bold" font-size="35" fill="#000">No. of Sample</text>
<text transform="translate(236.50 1682.36) rotate(-90) scale(0.9594 1)" font-family="'Liberation Sans', Arial, sans-serif" font-weight="bold" font-size="34.4" fill="#000">RMSE (m)</text>
<circle cx="370.1" cy="1437.9" r="5" fill="#f00a0a"/>
<text transform="translate(390.74 1449.20) scale(0.9409 1)" font-family="'Liberation Sans', Arial, sans-serif" font-weight="bold" font-size="35.5" fill="#000">Srt90.nn</text>
<circle cx="570.6" cy="1437.9" r="5" fill="#1eee2a"/>
<text transform="translate(590.83 1449.20) scale(0.9473 1)" font-family="'Liberation Sans', Arial, sans-serif" font-weight="bold" font-size="35.5" fill="#000">Srt90.bl</text>
<circle cx="759.5" cy="1437.9" r="5" fill="#0000f0"/>
<text transform="translate(779.66 1449.20) scale(0.9208 1)" font-family="'Liberation Sans', Arial, sans-serif" font-weight="bold" font-size="35.5" fill="#000">Srt90.bc</text>
<line x1="1326.4" y1="1572.27" x2="2052.8" y2="1572.27" stroke="#5a5a5a" stroke-width="1.8" stroke-dasharray="6 4 1.5 4.5"/>
<line x1="1326.4" y1="1640.53" x2="2052.8" y2="1640.53" stroke="#5a5a5a" stroke-width="1.8" stroke-dasharray="6 4 1.5 4.5"/>
<line x1="1417.20" y1="1504.0" x2="1417.20" y2="1708.8" stroke="#444" stroke-width="1.8" stroke-dasharray="5.5 5.4"/>
<line x1="1508.00" y1="1504.0" x2="1508.00" y2="1708.8" stroke="#444" stroke-width="1.8" stroke-dasharray="5.5 5.4"/>
<line x1="1598.80" y1="1504.0" x2="1598.80" y2="1708.8" stroke="#444" stroke-width="1.8" stroke-dasharray="5.5 5.4"/>
<line x1="1689.60" y1="1504.0" x2="1689.60" y2="1708.8" stroke="#444" stroke-width="1.8" stroke-dasharray="5.5 5.4"/>
<line x1="1780.40" y1="1504.0" x2="1780.40" y2="1708.8" stroke="#444" stroke-width="1.8" stroke-dasharray="5.5 5.4"/>
<line x1="1871.20" y1="1504.0" x2="1871.20" y2="1708.8" stroke="#444" stroke-width="1.8" stroke-dasharray="5.5 5.4"/>
<line x1="1962.00" y1="1504.0" x2="1962.00" y2="1708.8" stroke="#444" stroke-width="1.8" stroke-dasharray="5.5 5.4"/>
<path d="M1371.8 1657.0h0M1376.3 1652.5h0M1380.9 1651.9h0M1385.4 1653.2h0M1390.0 1654.8h0M1394.5 1650.3h0M1399.0 1648.1h0M1403.6 1649.6h0M1408.1 1650.3h0M1412.7 1648.1h0M1417.2 1647.4h0M1421.7 1647.8h0M1426.3 1648.1h0M1430.8 1648.4h0M1435.4 1648.7h0M1439.9 1648.1h0M1444.4 1642.5h0M1449.0 1639.1h0M1453.5 1637.5h0M1458.1 1636.7h0M1462.6 1635.8h0M1467.1 1634.7h0M1471.7 1633.5h0M1476.2 1632.8h0M1480.8 1632.0h0M1485.3 1632.5h0M1489.8 1633.1h0M1494.4 1632.8h0M1498.9 1632.4h0M1503.5 1632.2h0M1508.0 1632.0h0M1512.5 1632.4h0M1517.1 1632.8h0M1521.6 1633.1h0M1526.2 1633.5h0M1530.7 1634.0h0M1535.2 1634.4h0M1539.8 1634.8h0M1544.3 1635.3h0M1548.9 1634.9h0M1553.4 1634.6h0M1557.9 1633.5h0M1562.5 1632.4h0M1567.0 1631.3h0M1571.6 1631.9h0M1576.1 1632.5h0M1580.6 1633.1h0M1585.2 1633.5h0M1589.7 1633.8h0M1594.3 1634.2h0M1598.8 1634.6h0M1603.3 1634.6h0M1607.9 1634.6h0M1612.4 1634.6h0M1617.0 1634.6h0M1621.5 1634.8h0M1626.0 1634.9h0M1630.6 1635.1h0M1635.1 1635.3h0M1639.7 1635.3h0M1644.2 1635.3h0M1648.7 1635.3h0M1653.3 1635.3h0M1657.8 1635.1h0M1662.4 1634.9h0M1666.9 1634.8h0M1671.4 1634.6h0M1676.0 1634.3h0M1680.5 1634.0h0M1685.1 1633.8h0M1689.6 1633.5h0M1694.1 1633.4h0M1698.7 1633.3h0M1703.2 1633.2h0M1707.8 1633.1h0M1712.3 1632.8h0M1716.8 1632.4h0M1721.4 1632.0h0M1725.9 1631.7h0M1730.5 1631.6h0M1735.0 1631.5h0M1739.5 1631.4h0M1744.1 1631.3h0M1748.6 1631.3h0M1753.2 1631.3h0M1757.7 1631.3h0M1762.2 1631.3h0M1766.8 1631.4h0M1771.3 1631.5h0M1775.9 1631.6h0M1780.4 1631.7h0M1784.9 1632.2h0M1789.5 1632.6h0M1794.0 1633.0h0M1798.6 1633.5h0M1803.1 1633.8h0M1807.6 1634.0h0M1812.2 1634.3h0M1816.7 1634.6h0M1821.3 1635.2h0M1825.8 1635.8h0M1830.3 1634.7h0M1834.9 1633.5h0M1839.4 1632.4h0M1844.0 1632.0h0M1848.5 1631.7h0M1853.0 1631.3h0M1857.6 1631.4h0M1862.1 1631.5h0M1866.7 1631.6h0M1871.2 1631.7h0M1875.7 1632.0h0M1880.3 1632.4h0M1884.8 1632.8h0M1889.4 1633.1h0M1893.9 1633.1h0M1898.4 1633.1h0M1903.0 1633.1h0M1907.5 1633.1h0M1912.1 1632.9h0M1916.6 1632.8h0M1921.1 1632.6h0M1925.7 1632.4h0M1930.2 1632.2h0M1934.8 1632.1h0M1939.3 1631.9h0M1943.8 1631.7h0M1948.4 1632.0h0M1952.9 1632.4h0M1957.5 1632.8h0M1962.0 1633.1h0M1966.5 1633.4h0M1971.1 1633.7h0M1975.6 1634.0h0M1980.2 1634.3h0M1984.7 1634.6h0" stroke="#f00a0a" stroke-width="11.5" stroke-linecap="round" fill="none"/>
<path d="M1371.8 1670.7h0M1376.3 1665.1h0M1380.9 1666.2h0M1385.4 1667.3h0M1390.0 1667.8h0M1394.5 1665.1h0M1399.0 1661.7h0M1403.6 1662.8h0M1408.1 1664.0h0M1412.7 1662.4h0M1417.2 1659.5h0M1421.7 1659.8h0M1426.3 1660.2h0M1430.8 1660.7h0M1435.4 1661.1h0M1439.9 1661.1h0M1444.4 1652.8h0M1449.0 1647.2h0M1453.5 1645.4h0M1458.1 1645.8h0M1462.6 1646.1h0M1467.1 1645.5h0M1471.7 1645.0h0M1476.2 1643.8h0M1480.8 1642.7h0M1485.3 1642.7h0M1489.8 1642.7h0M1494.4 1643.0h0M1498.9 1643.2h0M1503.5 1643.0h0M1508.0 1642.7h0M1512.5 1643.5h0M1517.1 1644.4h0M1521.6 1645.2h0M1526.2 1646.1h0M1530.7 1646.6h0M1535.2 1647.2h0M1539.8 1647.8h0M1544.3 1648.3h0M1548.9 1647.8h0M1553.4 1647.2h0M1557.9 1646.1h0M1562.5 1644.9h0M1567.0 1643.8h0M1571.6 1644.0h0M1576.1 1644.3h0M1580.6 1644.5h0M1585.2 1644.7h0M1589.7 1645.0h0M1594.3 1645.2h0M1598.8 1645.4h0M1603.3 1645.6h0M1607.9 1645.8h0M1612.4 1645.9h0M1617.0 1646.1h0M1621.5 1646.1h0M1626.0 1646.1h0M1630.6 1646.1h0M1635.1 1646.1h0M1639.7 1646.1h0M1644.2 1646.1h0M1648.7 1646.1h0M1653.3 1646.1h0M1657.8 1645.9h0M1662.4 1645.8h0M1666.9 1645.6h0M1671.4 1645.4h0M1676.0 1645.4h0M1680.5 1645.3h0M1685.1 1645.2h0M1689.6 1645.2h0M1694.1 1645.2h0M1698.7 1645.3h0M1703.2 1645.4h0M1707.8 1645.4h0M1712.3 1645.2h0M1716.8 1645.0h0M1721.4 1644.7h0M1725.9 1644.5h0M1730.5 1644.4h0M1735.0 1644.3h0M1739.5 1644.2h0M1744.1 1644.1h0M1748.6 1644.3h0M1753.2 1644.5h0M1757.7 1644.8h0M1762.2 1645.0h0M1766.8 1645.0h0M1771.3 1645.0h0M1775.9 1645.0h0M1780.4 1645.0h0M1784.9 1645.3h0M1789.5 1645.5h0M1794.0 1645.8h0M1798.6 1646.1h0M1803.1 1646.3h0M1807.6 1646.4h0M1812.2 1646.6h0M1816.7 1646.8h0M1821.3 1647.0h0M1825.8 1647.2h0M1830.3 1646.1h0M1834.9 1644.9h0M1839.4 1643.8h0M1844.0 1643.8h0M1848.5 1643.8h0M1853.0 1643.8h0M1857.6 1644.1h0M1862.1 1644.4h0M1866.7 1644.7h0M1871.2 1645.0h0M1875.7 1645.1h0M1880.3 1645.2h0M1884.8 1645.3h0M1889.4 1645.4h0M1893.9 1645.6h0M1898.4 1645.8h0M1903.0 1645.9h0M1907.5 1646.1h0M1912.1 1646.1h0M1916.6 1646.1h0M1921.1 1646.1h0M1925.7 1646.1h0M1930.2 1645.9h0M1934.8 1645.8h0M1939.3 1645.6h0M1943.8 1645.4h0M1948.4 1645.3h0M1952.9 1645.2h0M1957.5 1645.1h0M1962.0 1645.0h0M1966.5 1644.8h0M1971.1 1644.5h0M1975.6 1644.3h0M1980.2 1644.0h0M1984.7 1643.8h0" stroke="#1eee2a" stroke-width="11.5" stroke-linecap="round" fill="none"/>
<path d="M1371.8 1668.2h0M1376.3 1662.6h0M1380.9 1663.7h0M1385.4 1664.8h0M1390.0 1665.3h0M1394.5 1662.6h0M1399.0 1659.2h0M1403.6 1660.3h0M1408.1 1661.5h0M1412.7 1659.9h0M1417.2 1657.0h0M1421.7 1657.3h0M1426.3 1657.7h0M1430.8 1658.2h0M1435.4 1658.6h0M1439.9 1658.6h0M1444.4 1650.3h0M1449.0 1644.7h0M1453.5 1642.9h0M1458.1 1643.2h0M1462.6 1643.6h0M1467.1 1643.0h0M1471.7 1642.5h0M1476.2 1641.3h0M1480.8 1640.2h0M1485.3 1640.2h0M1489.8 1640.2h0M1494.4 1640.5h0M1498.9 1640.7h0M1503.5 1640.5h0M1508.0 1640.2h0M1512.5 1641.0h0M1517.1 1641.9h0M1521.6 1642.8h0M1526.2 1643.6h0M1530.7 1644.1h0M1535.2 1644.7h0M1539.8 1645.2h0M1544.3 1645.8h0M1548.9 1645.2h0M1553.4 1644.7h0M1557.9 1643.6h0M1562.5 1642.4h0M1567.0 1641.3h0M1571.6 1641.5h0M1576.1 1641.8h0M1580.6 1642.0h0M1585.2 1642.2h0M1589.7 1642.5h0M1594.3 1642.7h0M1598.8 1642.9h0M1603.3 1643.1h0M1607.9 1643.2h0M1612.4 1643.4h0M1617.0 1643.6h0M1621.5 1643.6h0M1626.0 1643.6h0M1630.6 1643.6h0M1635.1 1643.6h0M1639.7 1643.6h0M1644.2 1643.6h0M1648.7 1643.6h0M1653.3 1643.6h0M1657.8 1643.4h0M1662.4 1643.2h0M1666.9 1643.1h0M1671.4 1642.9h0M1676.0 1642.9h0M1680.5 1642.8h0M1685.1 1642.8h0M1689.6 1642.7h0M1694.1 1642.8h0M1698.7 1642.8h0M1703.2 1642.9h0M1707.8 1642.9h0M1712.3 1642.7h0M1716.8 1642.5h0M1721.4 1642.2h0M1725.9 1642.0h0M1730.5 1641.9h0M1735.0 1641.8h0M1739.5 1641.7h0M1744.1 1641.6h0M1748.6 1641.8h0M1753.2 1642.0h0M1757.7 1642.3h0M1762.2 1642.5h0M1766.8 1642.5h0M1771.3 1642.5h0M1775.9 1642.5h0M1780.4 1642.5h0M1784.9 1642.8h0M1789.5 1643.0h0M1794.0 1643.3h0M1798.6 1643.6h0M1803.1 1643.8h0M1807.6 1643.9h0M1812.2 1644.1h0M1816.7 1644.3h0M1821.3 1644.5h0M1825.8 1644.7h0M1830.3 1643.6h0M1834.9 1642.4h0M1839.4 1641.3h0M1844.0 1641.3h0M1848.5 1641.3h0M1853.0 1641.3h0M1857.6 1641.6h0M1862.1 1641.9h0M1866.7 1642.2h0M1871.2 1642.5h0M1875.7 1642.6h0M1880.3 1642.7h0M1884.8 1642.8h0M1889.4 1642.9h0M1893.9 1643.1h0M1898.4 1643.2h0M1903.0 1643.4h0M1907.5 1643.6h0M1912.1 1643.6h0M1916.6 1643.6h0M1921.1 1643.6h0M1925.7 1643.6h0M1930.2 1643.4h0M1934.8 1643.2h0M1939.3 1643.1h0M1943.8 1642.9h0M1948.4 1642.8h0M1952.9 1642.7h0M1957.5 1642.6h0M1962.0 1642.5h0M1966.5 1642.3h0M1971.1 1642.0h0M1975.6 1641.8h0M1980.2 1641.5h0M1984.7 1641.3h0" stroke="#0000f0" stroke-width="11.5" stroke-linecap="round" fill="none"/>
<rect x="1326.40" y="1504.00" width="726.40" height="204.80" fill="none" stroke="#000" stroke-width="3"/>
<line x1="1314.9" y1="1504.00" x2="1326.4" y2="1504.00" stroke="#000" stroke-width="3"/>
<line x1="1314.9" y1="1572.27" x2="1326.4" y2="1572.27" stroke="#000" stroke-width="3"/>
<line x1="1314.9" y1="1640.53" x2="1326.4" y2="1640.53" stroke="#000" stroke-width="3"/>
<line x1="1314.9" y1="1708.80" x2="1326.4" y2="1708.80" stroke="#000" stroke-width="3"/>
<line x1="1326.40" y1="1708.8" x2="1326.40" y2="1720.3" stroke="#000" stroke-width="3"/>
<line x1="1417.20" y1="1708.8" x2="1417.20" y2="1720.3" stroke="#000" stroke-width="3"/>
<line x1="1508.00" y1="1708.8" x2="1508.00" y2="1720.3" stroke="#000" stroke-width="3"/>
<line x1="1598.80" y1="1708.8" x2="1598.80" y2="1720.3" stroke="#000" stroke-width="3"/>
<line x1="1689.60" y1="1708.8" x2="1689.60" y2="1720.3" stroke="#000" stroke-width="3"/>
<line x1="1780.40" y1="1708.8" x2="1780.40" y2="1720.3" stroke="#000" stroke-width="3"/>
<line x1="1871.20" y1="1708.8" x2="1871.20" y2="1720.3" stroke="#000" stroke-width="3"/>
<line x1="1962.00" y1="1708.8" x2="1962.00" y2="1720.3" stroke="#000" stroke-width="3"/>
<line x1="2052.80" y1="1708.8" x2="2052.80" y2="1720.3" stroke="#000" stroke-width="3"/>
<text x="1271.14" y="1516.42" font-family="'Liberation Sans', Arial, sans-serif" font-weight="bold" font-size="35.5">6</text>
<text x="1270.05" y="1584.69" font-family="'Liberation Sans', Arial, sans-serif" font-weight="bold" font-size="35.5">4</text>
<text x="1271.28" y="1652.96" font-family="'Liberation Sans', Arial, sans-serif" font-weight="bold" font-size="35.5">2</text>
<text x="1271.31" y="1721.22" font-family="'Liberation Sans', Arial, sans-serif" font-weight="bold" font-size="35.5">0</text>
<text x="1316.55" y="1769.80" font-family="'Liberation Sans', Arial, sans-serif" font-weight="bold" font-size="35.5">0</text>
<text x="1397.57" y="1769.80" font-family="'Liberation Sans', Arial, sans-serif" font-weight="bold" font-size="35.5">20</text>
<text x="1488.72" y="1769.80" font-family="'Liberation Sans', Arial, sans-serif" font-weight="bold" font-size="35.5">40</text>
<text x="1579.13" y="1769.80" font-family="'Liberation Sans', Arial, sans-serif" font-weight="bold" font-size="35.5">60</text>
<text x="1670.02" y="1769.80" font-family="'Liberation Sans', Arial, sans-serif" font-weight="bold" font-size="35.5">80</text>
<text x="1750.39" y="1769.80" font-family="'Liberation Sans', Arial, sans-serif" font-weight="bold" font-size="35.5">100</text>
<text x="1841.19" y="1769.80" font-family="'Liberation Sans', Arial, sans-serif" font-weight="bold" font-size="35.5">120</text>
<text x="1931.99" y="1769.80" font-family="'Liberation Sans', Arial, sans-serif" font-weight="bold" font-size="35.5">140</text>
<text x="2022.79" y="1769.80" font-family="'Liberation Sans', Arial, sans-serif" font-weight="bold" font-size="35.5">160</text>
<text transform="translate(1578.38 1824.70) scale(0.9352 1)" font-family="'Liberation Sans', Arial, sans-serif" font-weight="bold" font-size="35.5" fill="#000">No. of Sample</text>
<text transform="translate(1255.10 1684.61) rotate(-90) scale(0.9511 1)" font-family="'Liberation Sans', Arial, sans-serif" font-weight="bold" font-size="34.7" fill="#000">RMSE (m)</text>
<circle cx="1389.4" cy="1439.7" r="5.3" fill="#f00a0a"/>
<text transform="translate(1410.74 1450.30) scale(0.9409 1)" font-family="'Liberation Sans', Arial, sans-serif" font-weight="bold" font-size="35.5" fill="#000">Srt90.nn</text>
<circle cx="1591.7" cy="1439.7" r="5.3" fill="#1eee2a"/>
<text transform="translate(1611.93 1450.30) scale(0.9473 1)" font-family="'Liberation Sans', Arial, sans-serif" font-weight="bold" font-size="35.5" fill="#000">Srt90.bl</text>
<circle cx="1781.9" cy="1439.7" r="5.3" fill="#0000f0"/>
<text transform="translate(1802.56 1450.30) scale(0.9201 1)" font-family="'Liberation Sans', Arial, sans-serif" font-weight="bold" font-size="35.5" fill="#000">Srt90.bc</text>
<line x1="338.2" y1="2010.67" x2="1065.5" y2="2010.67" stroke="#c4c4c4" stroke-width="1.8" stroke-dasharray="6 4 1.5 4.5"/>
<line x1="338.2" y1="2079.23" x2="1065.5" y2="2079.23" stroke="#5a5a5a" stroke-width="1.8" stroke-dasharray="6 4 1.5 4.5"/>
<line x1="429.11" y1="1942.1" x2="429.11" y2="2147.8" stroke="#444" stroke-width="1.8" stroke-dasharray="5.5 5.4"/>
<line x1="520.02" y1="1942.1" x2="520.02" y2="2147.8" stroke="#444" stroke-width="1.8" stroke-dasharray="5.5 5.4"/>
<line x1="610.94" y1="1942.1" x2="610.94" y2="2147.8" stroke="#444" stroke-width="1.8" stroke-dasharray="5.5 5.4"/>
<line x1="701.85" y1="1942.1" x2="701.85" y2="2147.8" stroke="#444" stroke-width="1.8" stroke-dasharray="5.5 5.4"/>
<line x1="792.76" y1="1942.1" x2="792.76" y2="2147.8" stroke="#444" stroke-width="1.8" stroke-dasharray="5.5 5.4"/>
<line x1="883.67" y1="1942.1" x2="883.67" y2="2147.8" stroke="#444" stroke-width="1.8" stroke-dasharray="5.5 5.4"/>
<line x1="974.59" y1="1942.1" x2="974.59" y2="2147.8" stroke="#444" stroke-width="1.8" stroke-dasharray="5.5 5.4"/>
<path d="M383.7 2105.9h0M388.2 2110.0h0M392.7 2112.9h0M397.3 2112.6h0M401.8 2112.1h0M406.4 2105.5h0M410.9 2097.8h0M415.5 2096.6h0M420.0 2095.5h0M424.6 2094.0h0M429.1 2091.1h0M433.7 2090.5h0M438.2 2089.9h0M442.7 2089.7h0M447.3 2089.5h0M451.8 2086.6h0M456.4 2082.8h0M460.9 2079.5h0M465.5 2076.3h0M470.0 2075.8h0M474.6 2078.5h0M479.1 2079.7h0M483.7 2080.8h0M488.2 2083.0h0M492.8 2085.2h0M497.3 2085.2h0M501.8 2085.2h0M506.4 2085.8h0M510.9 2086.3h0M515.5 2084.7h0M520.0 2083.0h0M524.6 2083.6h0M529.1 2084.1h0M533.7 2084.6h0M538.2 2085.2h0M542.8 2085.8h0M547.3 2086.3h0M551.8 2086.9h0M556.4 2087.5h0M560.9 2088.6h0M565.5 2089.7h0M570.0 2090.8h0M574.6 2091.9h0M579.1 2090.2h0M583.7 2088.6h0M588.2 2089.2h0M592.8 2089.7h0M597.3 2090.2h0M601.8 2090.8h0M606.4 2091.9h0M610.9 2093.1h0M615.5 2094.2h0M620.0 2095.3h0M624.6 2095.6h0M629.1 2095.9h0M633.7 2096.1h0M638.2 2096.4h0M642.8 2096.1h0M647.3 2095.9h0M651.8 2095.6h0M656.4 2095.3h0M660.9 2095.5h0M665.5 2095.7h0M670.0 2095.8h0M674.6 2096.0h0M679.1 2095.8h0M683.7 2095.7h0M688.2 2095.5h0M692.8 2095.3h0M697.3 2094.8h0M701.8 2094.4h0M706.4 2093.9h0M710.9 2093.4h0M715.5 2093.8h0M720.0 2094.2h0M724.6 2093.9h0M729.1 2093.6h0M733.7 2093.4h0M738.2 2093.1h0M742.8 2093.5h0M747.3 2093.8h0M751.9 2094.2h0M756.4 2094.6h0M760.9 2094.9h0M765.5 2095.3h0M770.0 2095.7h0M774.6 2096.0h0M779.1 2095.7h0M783.7 2095.3h0M788.2 2094.9h0M792.8 2094.6h0M797.3 2094.8h0M801.9 2094.9h0M806.4 2095.1h0M810.9 2095.3h0M815.5 2095.6h0M820.0 2095.9h0M824.6 2096.1h0M829.1 2096.4h0M833.7 2095.8h0M838.2 2095.3h0M842.8 2094.8h0M847.3 2094.2h0M851.9 2093.9h0M856.4 2093.6h0M860.9 2093.4h0M865.5 2093.1h0M870.0 2093.2h0M874.6 2093.4h0M879.1 2093.5h0M883.7 2093.7h0M888.2 2093.9h0M892.8 2094.1h0M897.3 2094.4h0M901.9 2094.6h0M906.4 2094.8h0M910.9 2094.9h0M915.5 2095.1h0M920.0 2095.3h0M924.6 2095.1h0M929.1 2094.9h0M933.7 2094.8h0M938.2 2094.6h0M942.8 2094.1h0M947.3 2093.5h0M951.9 2092.9h0M956.4 2092.4h0M961.0 2092.2h0M965.5 2091.9h0M970.0 2091.7h0M974.6 2091.5h0M979.1 2091.5h0M983.7 2091.5h0M988.2 2091.5h0M992.8 2091.5h0M997.3 2091.5h0" stroke="#f00a0a" stroke-width="11" stroke-linecap="round" fill="none"/>
<path d="M383.7 2107.9h0M388.2 2113.5h0M392.7 2117.9h0M397.3 2118.6h0M401.8 2119.1h0M406.4 2113.5h0M410.9 2106.8h0M415.5 2105.6h0M420.0 2104.5h0M424.6 2103.0h0M429.1 2100.1h0M433.7 2099.5h0M438.2 2098.9h0M442.7 2098.7h0M447.3 2098.5h0M451.8 2095.6h0M456.4 2091.1h0M460.9 2087.2h0M465.5 2083.3h0M470.0 2082.8h0M474.6 2085.5h0M479.1 2086.7h0M483.7 2087.8h0M488.2 2090.0h0M492.8 2092.2h0M497.3 2092.2h0M501.8 2092.2h0M506.4 2092.8h0M510.9 2093.3h0M515.5 2091.7h0M520.0 2090.0h0M524.6 2090.6h0M529.1 2091.1h0M533.7 2091.6h0M538.2 2092.2h0M542.8 2092.8h0M547.3 2093.3h0M551.8 2093.9h0M556.4 2094.5h0M560.9 2095.6h0M565.5 2096.7h0M570.0 2097.8h0M574.6 2098.9h0M579.1 2097.2h0M583.7 2095.6h0M588.2 2096.2h0M592.8 2096.7h0M597.3 2097.2h0M601.8 2097.8h0M606.4 2098.9h0M610.9 2100.1h0M615.5 2101.2h0M620.0 2102.3h0M624.6 2102.6h0M629.1 2102.9h0M633.7 2103.1h0M638.2 2103.4h0M642.8 2103.1h0M647.3 2102.9h0M651.8 2102.6h0M656.4 2102.3h0M660.9 2102.5h0M665.5 2102.7h0M670.0 2102.8h0M674.6 2103.0h0M679.1 2102.8h0M683.7 2102.7h0M688.2 2102.5h0M692.8 2102.3h0M697.3 2101.8h0M701.8 2101.4h0M706.4 2100.9h0M710.9 2100.4h0M715.5 2100.8h0M720.0 2101.2h0M724.6 2100.9h0M729.1 2100.6h0M733.7 2100.4h0M738.2 2100.1h0M742.8 2100.5h0M747.3 2100.8h0M751.9 2101.2h0M756.4 2101.6h0M760.9 2101.9h0M765.5 2102.3h0M770.0 2102.7h0M774.6 2103.0h0M779.1 2102.7h0M783.7 2102.3h0M788.2 2101.9h0M792.8 2101.6h0M797.3 2101.8h0M801.9 2101.9h0M806.4 2102.1h0M810.9 2102.3h0M815.5 2102.6h0M820.0 2102.9h0M824.6 2103.1h0M829.1 2103.4h0M833.7 2102.8h0M838.2 2102.3h0M842.8 2101.8h0M847.3 2101.2h0M851.9 2100.9h0M856.4 2100.6h0M860.9 2100.4h0M865.5 2100.1h0M870.0 2100.2h0M874.6 2100.4h0M879.1 2100.5h0M883.7 2100.7h0M888.2 2100.9h0M892.8 2101.1h0M897.3 2101.4h0M901.9 2101.6h0M906.4 2101.8h0M910.9 2101.9h0M915.5 2102.1h0M920.0 2102.3h0M924.6 2102.1h0M929.1 2101.9h0M933.7 2101.8h0M938.2 2101.6h0M942.8 2101.1h0M947.3 2100.5h0M951.9 2099.9h0M956.4 2099.4h0M961.0 2099.2h0M965.5 2098.9h0M970.0 2098.7h0M974.6 2098.5h0M979.1 2098.5h0M983.7 2098.5h0M988.2 2098.5h0M992.8 2098.5h0M997.3 2098.5h0" stroke="#1eee2a" stroke-width="11" stroke-linecap="round" fill="none"/>
<path d="M383.7 2105.9h0M388.2 2111.5h0M392.7 2115.9h0M397.3 2116.6h0M401.8 2117.1h0M406.4 2111.5h0M410.9 2104.8h0M415.5 2103.6h0M420.0 2102.5h0M424.6 2101.0h0M429.1 2098.1h0M433.7 2097.5h0M438.2 2096.9h0M442.7 2096.7h0M447.3 2096.5h0M451.8 2093.6h0M456.4 2089.1h0M460.9 2085.2h0M465.5 2081.3h0M470.0 2080.8h0M474.6 2083.5h0M479.1 2084.7h0M483.7 2085.8h0M488.2 2088.0h0M492.8 2090.2h0M497.3 2090.2h0M501.8 2090.2h0M506.4 2090.8h0M510.9 2091.3h0M515.5 2089.7h0M520.0 2088.0h0M524.6 2088.6h0M529.1 2089.1h0M533.7 2089.6h0M538.2 2090.2h0M542.8 2090.8h0M547.3 2091.3h0M551.8 2091.9h0M556.4 2092.5h0M560.9 2093.6h0M565.5 2094.7h0M570.0 2095.8h0M574.6 2096.9h0M579.1 2095.2h0M583.7 2093.6h0M588.2 2094.2h0M592.8 2094.7h0M597.3 2095.2h0M601.8 2095.8h0M606.4 2096.9h0M610.9 2098.1h0M615.5 2099.2h0M620.0 2100.3h0M624.6 2100.6h0M629.1 2100.9h0M633.7 2101.1h0M638.2 2101.4h0M642.8 2101.1h0M647.3 2100.9h0M651.8 2100.6h0M656.4 2100.3h0M660.9 2100.5h0M665.5 2100.7h0M670.0 2100.8h0M674.6 2101.0h0M679.1 2100.8h0M683.7 2100.7h0M688.2 2100.5h0M692.8 2100.3h0M697.3 2099.8h0M701.8 2099.4h0M706.4 2098.9h0M710.9 2098.4h0M715.5 2098.8h0M720.0 2099.2h0M724.6 2098.9h0M729.1 2098.6h0M733.7 2098.4h0M738.2 2098.1h0M742.8 2098.5h0M747.3 2098.8h0M751.9 2099.2h0M756.4 2099.6h0M760.9 2099.9h0M765.5 2100.3h0M770.0 2100.7h0M774.6 2101.0h0M779.1 2100.7h0M783.7 2100.3h0M788.2 2099.9h0M792.8 2099.6h0M797.3 2099.8h0M801.9 2099.9h0M806.4 2100.1h0M810.9 2100.3h0M815.5 2100.6h0M820.0 2100.9h0M824.6 2101.1h0M829.1 2101.4h0M833.7 2100.8h0M838.2 2100.3h0M842.8 2099.8h0M847.3 2099.2h0M851.9 2098.9h0M856.4 2098.6h0M860.9 2098.4h0M865.5 2098.1h0M870.0 2098.2h0M874.6 2098.4h0M879.1 2098.5h0M883.7 2098.7h0M888.2 2098.9h0M892.8 2099.1h0M897.3 2099.4h0M901.9 2099.6h0M906.4 2099.8h0M910.9 2099.9h0M915.5 2100.1h0M920.0 2100.3h0M924.6 2100.1h0M929.1 2099.9h0M933.7 2099.8h0M938.2 2099.6h0M942.8 2099.1h0M947.3 2098.5h0M951.9 2097.9h0M956.4 2097.4h0M961.0 2097.2h0M965.5 2096.9h0M970.0 2096.7h0M974.6 2096.5h0M979.1 2096.5h0M983.7 2096.5h0M988.2 2096.5h0M992.8 2096.5h0M997.3 2096.5h0" stroke="#0000f0" stroke-width="11" stroke-linecap="round" fill="none"/>
<rect x="338.20" y="1942.10" width="727.30" height="205.70" fill="none" stroke="#111" stroke-width="2.8"/>
<line x1="326.7" y1="1942.10" x2="338.2" y2="1942.10" stroke="#111" stroke-width="2.8"/>
<line x1="326.7" y1="2010.67" x2="338.2" y2="2010.67" stroke="#111" stroke-width="2.8"/>
<line x1="326.7" y1="2079.23" x2="338.2" y2="2079.23" stroke="#111" stroke-width="2.8"/>
<line x1="326.7" y1="2147.80" x2="338.2" y2="2147.80" stroke="#111" stroke-width="2.8"/>
<line x1="338.20" y1="2147.8" x2="338.20" y2="2159.3" stroke="#111" stroke-width="2.8"/>
<line x1="429.11" y1="2147.8" x2="429.11" y2="2159.3" stroke="#111" stroke-width="2.8"/>
<line x1="520.02" y1="2147.8" x2="520.02" y2="2159.3" stroke="#111" stroke-width="2.8"/>
<line x1="610.94" y1="2147.8" x2="610.94" y2="2159.3" stroke="#111" stroke-width="2.8"/>
<line x1="701.85" y1="2147.8" x2="701.85" y2="2159.3" stroke="#111" stroke-width="2.8"/>
<line x1="792.76" y1="2147.8" x2="792.76" y2="2159.3" stroke="#111" stroke-width="2.8"/>
<line x1="883.67" y1="2147.8" x2="883.67" y2="2159.3" stroke="#111" stroke-width="2.8"/>
<line x1="974.59" y1="2147.8" x2="974.59" y2="2159.3" stroke="#111" stroke-width="2.8"/>
<line x1="1065.50" y1="2147.8" x2="1065.50" y2="2159.3" stroke="#111" stroke-width="2.8"/>
<text x="283.49" y="1954.17" font-family="'Liberation Sans', Arial, sans-serif" font-weight="bold" font-size="34.5">9</text>
<text x="283.73" y="2022.74" font-family="'Liberation Sans', Arial, sans-serif" font-weight="bold" font-size="34.5">7</text>
<text x="283.17" y="2091.31" font-family="'Liberation Sans', Arial, sans-serif" font-weight="bold" font-size="34.5">5</text>
<text x="283.46" y="2159.88" font-family="'Liberation Sans', Arial, sans-serif" font-weight="bold" font-size="34.5">3</text>
<text x="328.63" y="2208.80" font-family="'Liberation Sans', Arial, sans-serif" font-weight="bold" font-size="34.5">0</text>
<text x="410.03" y="2208.80" font-family="'Liberation Sans', Arial, sans-serif" font-weight="bold" font-size="34.5">20</text>
<text x="501.28" y="2208.80" font-family="'Liberation Sans', Arial, sans-serif" font-weight="bold" font-size="34.5">40</text>
<text x="591.83" y="2208.80" font-family="'Liberation Sans', Arial, sans-serif" font-weight="bold" font-size="34.5">60</text>
<text x="682.82" y="2208.80" font-family="'Liberation Sans', Arial, sans-serif" font-weight="bold" font-size="34.5">80</text>
<text x="763.60" y="2208.80" font-family="'Liberation Sans', Arial, sans-serif" font-weight="bold" font-size="34.5">100</text>
<text x="854.52" y="2208.80" font-family="'Liberation Sans', Arial, sans-serif" font-weight="bold" font-size="34.5">120</text>
<text x="945.43" y="2208.80" font-family="'Liberation Sans', Arial, sans-serif" font-weight="bold" font-size="34.5">140</text>
<text x="1036.34" y="2208.80" font-family="'Liberation Sans', Arial, sans-serif" font-weight="bold" font-size="34.5">160</text>
<text transform="translate(590.63 2263.40) scale(0.9486 1)" font-family="'Liberation Sans', Arial, sans-serif" font-weight="bold" font-size="35" fill="#000">No. of Sample</text>
<text transform="translate(266.90 2123.16) rotate(-90) scale(0.9594 1)" font-family="'Liberation Sans', Arial, sans-serif" font-weight="bold" font-size="34.4" fill="#000">RMSE (m)</text>
<circle cx="353.2" cy="1878.8" r="5" fill="#f00a0a"/>
<text transform="translate(373.94 1890.00) scale(0.9531 1)" font-family="'Liberation Sans', Arial, sans-serif" font-weight="bold" font-size="35.5" fill="#000">MRT90.nn</text>
<circle cx="588.3" cy="1878.8" r="5" fill="#1eee2a"/>
<text transform="translate(608.60 1890.00) scale(0.9699 1)" font-family="'Liberation Sans', Arial, sans-serif" font-weight="bold" font-size="35.5" fill="#000">MRT90.bl</text>
<circle cx="812.7" cy="1878.8" r="5" fill="#0000f0"/>
<text transform="translate(831.84 1890.00) scale(0.9528 1)" font-family="'Liberation Sans', Arial, sans-serif" font-weight="bold" font-size="35.5" fill="#000">MRT90.bc</text>
<line x1="1320.2" y1="2005.67" x2="2047.8" y2="2005.67" stroke="#c4c4c4" stroke-width="1.8" stroke-dasharray="6 4 1.5 4.5"/>
<line x1="1320.2" y1="2073.73" x2="2047.8" y2="2073.73" stroke="#c4c4c4" stroke-width="1.8" stroke-dasharray="6 4 1.5 4.5"/>
<line x1="1411.15" y1="1937.6" x2="1411.15" y2="2141.8" stroke="#444" stroke-width="1.8" stroke-dasharray="5.5 5.4"/>
<line x1="1502.10" y1="1937.6" x2="1502.10" y2="2141.8" stroke="#b8b8b8" stroke-width="1.8" stroke-dasharray="5.5 5.4"/>
<line x1="1593.05" y1="1937.6" x2="1593.05" y2="2141.8" stroke="#444" stroke-width="1.8" stroke-dasharray="5.5 5.4"/>
<line x1="1684.00" y1="1937.6" x2="1684.00" y2="2141.8" stroke="#444" stroke-width="1.8" stroke-dasharray="5.5 5.4"/>
<line x1="1774.95" y1="1937.6" x2="1774.95" y2="2141.8" stroke="#444" stroke-width="1.8" stroke-dasharray="5.5 5.4"/>
<line x1="1865.90" y1="1937.6" x2="1865.90" y2="2141.8" stroke="#444" stroke-width="1.8" stroke-dasharray="5.5 5.4"/>
<line x1="1956.85" y1="1937.6" x2="1956.85" y2="2141.8" stroke="#b8b8b8" stroke-width="1.8" stroke-dasharray="5.5 5.4"/>
<path d="M1365.7 2091.0h0M1370.2 2085.8h0M1374.8 2086.5h0M1379.3 2086.9h0M1383.9 2088.1h0M1388.4 2083.6h0M1393.0 2080.7h0M1397.5 2081.3h0M1402.1 2082.0h0M1406.6 2080.7h0M1411.2 2080.2h0M1415.7 2080.4h0M1420.2 2080.7h0M1424.8 2081.3h0M1429.3 2082.0h0M1433.9 2080.2h0M1438.4 2076.9h0M1443.0 2075.8h0M1447.5 2074.6h0M1452.1 2072.9h0M1456.6 2071.3h0M1461.2 2069.9h0M1465.7 2068.6h0M1470.3 2066.8h0M1474.8 2065.0h0M1479.4 2065.7h0M1483.9 2066.4h0M1488.5 2066.1h0M1493.0 2065.7h0M1497.6 2065.3h0M1502.1 2065.0h0M1506.6 2065.6h0M1511.2 2066.2h0M1515.7 2066.7h0M1520.3 2067.3h0M1524.8 2067.6h0M1529.4 2067.9h0M1533.9 2068.3h0M1538.5 2068.6h0M1543.0 2067.7h0M1547.6 2066.8h0M1552.1 2065.9h0M1556.7 2065.0h0M1561.2 2064.1h0M1565.8 2064.4h0M1570.3 2064.7h0M1574.9 2065.0h0M1579.4 2065.3h0M1584.0 2065.7h0M1588.5 2066.1h0M1593.0 2066.4h0M1597.6 2066.4h0M1602.1 2066.4h0M1606.7 2066.4h0M1611.2 2066.4h0M1615.8 2066.5h0M1620.3 2066.6h0M1624.9 2066.7h0M1629.4 2066.8h0M1634.0 2066.9h0M1638.5 2067.1h0M1643.1 2067.2h0M1647.6 2067.3h0M1652.2 2067.1h0M1656.7 2066.9h0M1661.3 2066.6h0M1665.8 2066.4h0M1670.4 2066.4h0M1674.9 2066.5h0M1679.5 2066.6h0M1684.0 2066.6h0M1688.5 2066.4h0M1693.1 2066.1h0M1697.6 2065.9h0M1702.2 2065.7h0M1706.7 2065.4h0M1711.3 2065.1h0M1715.8 2064.9h0M1720.4 2064.6h0M1724.9 2064.5h0M1729.5 2064.3h0M1734.0 2064.2h0M1738.6 2064.1h0M1743.1 2064.1h0M1747.7 2064.1h0M1752.2 2064.1h0M1756.8 2064.1h0M1761.3 2064.2h0M1765.9 2064.3h0M1770.4 2064.5h0M1775.0 2064.6h0M1779.5 2064.9h0M1784.0 2065.1h0M1788.6 2065.4h0M1793.1 2065.7h0M1797.7 2065.9h0M1802.2 2066.1h0M1806.8 2066.2h0M1811.3 2066.4h0M1815.9 2066.1h0M1820.4 2065.7h0M1825.0 2065.3h0M1829.5 2065.0h0M1834.1 2064.6h0M1838.6 2064.2h0M1843.2 2063.9h0M1847.7 2063.5h0M1852.3 2063.7h0M1856.8 2063.8h0M1861.4 2063.9h0M1865.9 2064.1h0M1870.4 2064.3h0M1875.0 2064.6h0M1879.5 2064.8h0M1884.1 2065.0h0M1888.6 2065.2h0M1893.2 2065.3h0M1897.7 2065.5h0M1902.3 2065.7h0M1906.8 2065.4h0M1911.4 2065.1h0M1915.9 2064.9h0M1920.5 2064.6h0M1925.0 2064.5h0M1929.6 2064.3h0M1934.1 2064.2h0M1938.7 2064.1h0M1943.2 2064.3h0M1947.8 2064.6h0M1952.3 2064.8h0M1956.8 2065.0h0M1961.4 2065.3h0M1965.9 2065.6h0M1970.5 2065.8h0M1975.0 2066.1h0M1979.6 2066.4h0" stroke="#f00a0a" stroke-width="11.5" stroke-linecap="round" fill="none"/>
<path d="M1365.7 2104.1h0M1370.2 2095.6h0M1374.8 2097.9h0M1379.3 2100.6h0M1383.9 2101.2h0M1388.4 2096.8h0M1393.0 2092.3h0M1397.5 2093.4h0M1402.1 2093.9h0M1406.6 2095.6h0M1411.2 2090.7h0M1415.7 2091.1h0M1420.2 2091.6h0M1424.8 2092.3h0M1429.3 2093.0h0M1433.9 2092.3h0M1438.4 2086.7h0M1443.0 2084.4h0M1447.5 2082.2h0M1452.1 2082.0h0M1456.6 2081.8h0M1461.2 2081.1h0M1465.7 2080.4h0M1470.3 2078.5h0M1474.8 2076.6h0M1479.4 2076.9h0M1483.9 2077.3h0M1488.5 2076.9h0M1493.0 2076.6h0M1497.6 2076.6h0M1502.1 2076.6h0M1506.6 2077.2h0M1511.2 2077.8h0M1515.7 2078.3h0M1520.3 2078.9h0M1524.8 2079.2h0M1529.4 2079.4h0M1533.9 2079.7h0M1538.5 2080.0h0M1543.0 2079.4h0M1547.6 2078.9h0M1552.1 2077.8h0M1556.7 2076.6h0M1561.2 2075.5h0M1565.8 2075.7h0M1570.3 2075.8h0M1574.9 2076.0h0M1579.4 2076.3h0M1584.0 2076.7h0M1588.5 2077.0h0M1593.0 2077.3h0M1597.6 2077.3h0M1602.1 2077.3h0M1606.7 2077.3h0M1611.2 2077.3h0M1615.8 2077.4h0M1620.3 2077.6h0M1624.9 2077.7h0M1629.4 2077.8h0M1634.0 2077.8h0M1638.5 2077.8h0M1643.1 2077.8h0M1647.6 2077.8h0M1652.2 2077.7h0M1656.7 2077.6h0M1661.3 2077.4h0M1665.8 2077.3h0M1670.4 2077.1h0M1674.9 2076.9h0M1679.5 2076.8h0M1684.0 2076.6h0M1688.5 2076.4h0M1693.1 2076.3h0M1697.6 2076.2h0M1702.2 2076.0h0M1706.7 2075.8h0M1711.3 2075.6h0M1715.8 2075.3h0M1720.4 2075.1h0M1724.9 2074.9h0M1729.5 2074.8h0M1734.0 2074.6h0M1738.6 2074.4h0M1743.1 2074.6h0M1747.7 2074.8h0M1752.2 2074.9h0M1756.8 2075.1h0M1761.3 2075.2h0M1765.9 2075.3h0M1770.4 2075.4h0M1775.0 2075.5h0M1779.5 2075.8h0M1784.0 2076.1h0M1788.6 2076.3h0M1793.1 2076.6h0M1797.7 2076.8h0M1802.2 2076.9h0M1806.8 2077.1h0M1811.3 2077.3h0M1815.9 2077.0h0M1820.4 2076.7h0M1825.0 2076.3h0M1829.5 2076.0h0M1834.1 2075.8h0M1838.6 2075.6h0M1843.2 2075.3h0M1847.7 2075.1h0M1852.3 2075.2h0M1856.8 2075.3h0M1861.4 2075.4h0M1865.9 2075.5h0M1870.4 2075.6h0M1875.0 2075.8h0M1879.5 2075.9h0M1884.1 2076.0h0M1888.6 2076.2h0M1893.2 2076.3h0M1897.7 2076.4h0M1902.3 2076.6h0M1906.8 2076.6h0M1911.4 2076.6h0M1915.9 2076.6h0M1920.5 2076.6h0M1925.0 2076.4h0M1929.6 2076.3h0M1934.1 2076.2h0M1938.7 2076.0h0M1943.2 2075.9h0M1947.8 2075.8h0M1952.3 2075.6h0M1956.8 2075.5h0M1961.4 2075.5h0M1965.9 2075.5h0M1970.5 2075.5h0M1975.0 2075.5h0M1979.6 2075.5h0" stroke="#1eee2a" stroke-width="11.5" stroke-linecap="round" fill="none"/>
<path d="M1365.7 2102.1h0M1370.2 2093.6h0M1374.8 2095.9h0M1379.3 2098.6h0M1383.9 2099.2h0M1388.4 2094.8h0M1393.0 2090.3h0M1397.5 2091.4h0M1402.1 2091.9h0M1406.6 2093.6h0M1411.2 2088.7h0M1415.7 2089.1h0M1420.2 2089.6h0M1424.8 2090.3h0M1429.3 2091.0h0M1433.9 2090.3h0M1438.4 2084.7h0M1443.0 2082.4h0M1447.5 2080.2h0M1452.1 2080.0h0M1456.6 2079.8h0M1461.2 2079.1h0M1465.7 2078.4h0M1470.3 2076.5h0M1474.8 2074.6h0M1479.4 2074.9h0M1483.9 2075.3h0M1488.5 2074.9h0M1493.0 2074.6h0M1497.6 2074.6h0M1502.1 2074.6h0M1506.6 2075.2h0M1511.2 2075.8h0M1515.7 2076.3h0M1520.3 2076.9h0M1524.8 2077.2h0M1529.4 2077.4h0M1533.9 2077.7h0M1538.5 2078.0h0M1543.0 2077.4h0M1547.6 2076.9h0M1552.1 2075.8h0M1556.7 2074.6h0M1561.2 2073.5h0M1565.8 2073.7h0M1570.3 2073.8h0M1574.9 2074.0h0M1579.4 2074.3h0M1584.0 2074.7h0M1588.5 2075.0h0M1593.0 2075.3h0M1597.6 2075.3h0M1602.1 2075.3h0M1606.7 2075.3h0M1611.2 2075.3h0M1615.8 2075.4h0M1620.3 2075.6h0M1624.9 2075.7h0M1629.4 2075.8h0M1634.0 2075.8h0M1638.5 2075.8h0M1643.1 2075.8h0M1647.6 2075.8h0M1652.2 2075.7h0M1656.7 2075.6h0M1661.3 2075.4h0M1665.8 2075.3h0M1670.4 2075.1h0M1674.9 2074.9h0M1679.5 2074.8h0M1684.0 2074.6h0M1688.5 2074.4h0M1693.1 2074.3h0M1697.6 2074.2h0M1702.2 2074.0h0M1706.7 2073.8h0M1711.3 2073.6h0M1715.8 2073.3h0M1720.4 2073.1h0M1724.9 2072.9h0M1729.5 2072.8h0M1734.0 2072.6h0M1738.6 2072.4h0M1743.1 2072.6h0M1747.7 2072.8h0M1752.2 2072.9h0M1756.8 2073.1h0M1761.3 2073.2h0M1765.9 2073.3h0M1770.4 2073.4h0M1775.0 2073.5h0M1779.5 2073.8h0M1784.0 2074.1h0M1788.6 2074.3h0M1793.1 2074.6h0M1797.7 2074.8h0M1802.2 2074.9h0M1806.8 2075.1h0M1811.3 2075.3h0M1815.9 2075.0h0M1820.4 2074.7h0M1825.0 2074.3h0M1829.5 2074.0h0M1834.1 2073.8h0M1838.6 2073.6h0M1843.2 2073.3h0M1847.7 2073.1h0M1852.3 2073.2h0M1856.8 2073.3h0M1861.4 2073.4h0M1865.9 2073.5h0M1870.4 2073.6h0M1875.0 2073.8h0M1879.5 2073.9h0M1884.1 2074.0h0M1888.6 2074.2h0M1893.2 2074.3h0M1897.7 2074.4h0M1902.3 2074.6h0M1906.8 2074.6h0M1911.4 2074.6h0M1915.9 2074.6h0M1920.5 2074.6h0M1925.0 2074.4h0M1929.6 2074.3h0M1934.1 2074.2h0M1938.7 2074.0h0M1943.2 2073.9h0M1947.8 2073.8h0M1952.3 2073.6h0M1956.8 2073.5h0M1961.4 2073.5h0M1965.9 2073.5h0M1970.5 2073.5h0M1975.0 2073.5h0M1979.6 2073.5h0" stroke="#0000f0" stroke-width="11.5" stroke-linecap="round" fill="none"/>
<rect x="1320.20" y="1937.60" width="727.60" height="204.20" fill="none" stroke="#000" stroke-width="3"/>
<line x1="1308.7" y1="1937.60" x2="1320.2" y2="1937.60" stroke="#000" stroke-width="3"/>
<line x1="1308.7" y1="2005.67" x2="1320.2" y2="2005.67" stroke="#000" stroke-width="3"/>
<line x1="1308.7" y1="2073.73" x2="1320.2" y2="2073.73" stroke="#000" stroke-width="3"/>
<line x1="1308.7" y1="2141.80" x2="1320.2" y2="2141.80" stroke="#000" stroke-width="3"/>
<line x1="1320.20" y1="2141.8" x2="1320.20" y2="2153.3" stroke="#000" stroke-width="3"/>
<line x1="1411.15" y1="2141.8" x2="1411.15" y2="2153.3" stroke="#000" stroke-width="3"/>
<line x1="1502.10" y1="2141.8" x2="1502.10" y2="2153.3" stroke="#000" stroke-width="3"/>
<line x1="1593.05" y1="2141.8" x2="1593.05" y2="2153.3" stroke="#000" stroke-width="3"/>
<line x1="1684.00" y1="2141.8" x2="1684.00" y2="2153.3" stroke="#000" stroke-width="3"/>
<line x1="1774.95" y1="2141.8" x2="1774.95" y2="2153.3" stroke="#000" stroke-width="3"/>
<line x1="1865.90" y1="2141.8" x2="1865.90" y2="2153.3" stroke="#000" stroke-width="3"/>
<line x1="1956.85" y1="2141.8" x2="1956.85" y2="2153.3" stroke="#000" stroke-width="3"/>
<line x1="2047.80" y1="2141.8" x2="2047.80" y2="2153.3" stroke="#000" stroke-width="3"/>
<text x="1264.94" y="1950.02" font-family="'Liberation Sans', Arial, sans-serif" font-weight="bold" font-size="35.5">6</text>
<text x="1263.85" y="2018.09" font-family="'Liberation Sans', Arial, sans-serif" font-weight="bold" font-size="35.5">4</text>
<text x="1265.08" y="2086.16" font-family="'Liberation Sans', Arial, sans-serif" font-weight="bold" font-size="35.5">2</text>
<text x="1265.11" y="2154.23" font-family="'Liberation Sans', Arial, sans-serif" font-weight="bold" font-size="35.5">0</text>
<text x="1310.35" y="2202.80" font-family="'Liberation Sans', Arial, sans-serif" font-weight="bold" font-size="35.5">0</text>
<text x="1391.52" y="2202.80" font-family="'Liberation Sans', Arial, sans-serif" font-weight="bold" font-size="35.5">20</text>
<text x="1482.82" y="2202.80" font-family="'Liberation Sans', Arial, sans-serif" font-weight="bold" font-size="35.5">40</text>
<text x="1573.38" y="2202.80" font-family="'Liberation Sans', Arial, sans-serif" font-weight="bold" font-size="35.5">60</text>
<text x="1664.42" y="2202.80" font-family="'Liberation Sans', Arial, sans-serif" font-weight="bold" font-size="35.5">80</text>
<text x="1744.94" y="2202.80" font-family="'Liberation Sans', Arial, sans-serif" font-weight="bold" font-size="35.5">100</text>
<text x="1835.89" y="2202.80" font-family="'Liberation Sans', Arial, sans-serif" font-weight="bold" font-size="35.5">120</text>
<text x="1926.84" y="2202.80" font-family="'Liberation Sans', Arial, sans-serif" font-weight="bold" font-size="35.5">140</text>
<text x="2017.79" y="2202.80" font-family="'Liberation Sans', Arial, sans-serif" font-weight="bold" font-size="35.5">160</text>
<text transform="translate(1571.91 2256.00) scale(0.9425 1)" font-family="'Liberation Sans', Arial, sans-serif" font-weight="bold" font-size="35.5" fill="#000">No. of Sample</text>
<text transform="translate(1248.90 2117.91) rotate(-90) scale(0.9511 1)" font-family="'Liberation Sans', Arial, sans-serif" font-weight="bold" font-size="34.7" fill="#000">RMSE (m)</text>
<circle cx="1335.6" cy="1873.5" r="5.3" fill="#f00a0a"/>
<text transform="translate(1355.61 1883.00) scale(0.9628 1)" font-family="'Liberation Sans', Arial, sans-serif" font-weight="bold" font-size="35.5" fill="#000">MRT90.nn</text>
<circle cx="1571.2" cy="1873.5" r="5.3" fill="#1eee2a"/>
<text transform="translate(1590.28 1883.00) scale(0.9777 1)" font-family="'Liberation Sans', Arial, sans-serif" font-weight="bold" font-size="35.5" fill="#000">MRT90.bl</text>
<circle cx="1794.3" cy="1873.5" r="5.3" fill="#0000f0"/>
<text transform="translate(1815.16 1883.00) scale(0.9449 1)" font-family="'Liberation Sans', Arial, sans-serif" font-weight="bold" font-size="35.5" fill="#000">MRT90.bc</text>
<line x1="339.8" y1="2434.23" x2="1063.3" y2="2434.23" stroke="#5a5a5a" stroke-width="1.8" stroke-dasharray="6 4 1.5 4.5"/>
<line x1="339.8" y1="2501.77" x2="1063.3" y2="2501.77" stroke="#5a5a5a" stroke-width="1.8" stroke-dasharray="6 4 1.5 4.5"/>
<line x1="430.24" y1="2366.7" x2="430.24" y2="2569.3" stroke="#444" stroke-width="1.8" stroke-dasharray="5.5 5.4"/>
<line x1="520.67" y1="2366.7" x2="520.67" y2="2569.3" stroke="#444" stroke-width="1.8" stroke-dasharray="5.5 5.4"/>
<line x1="611.11" y1="2366.7" x2="611.11" y2="2569.3" stroke="#444" stroke-width="1.8" stroke-dasharray="5.5 5.4"/>
<line x1="701.55" y1="2366.7" x2="701.55" y2="2569.3" stroke="#444" stroke-width="1.8" stroke-dasharray="5.5 5.4"/>
<line x1="791.99" y1="2366.7" x2="791.99" y2="2569.3" stroke="#444" stroke-width="1.8" stroke-dasharray="5.5 5.4"/>
<line x1="882.42" y1="2366.7" x2="882.42" y2="2569.3" stroke="#444" stroke-width="1.8" stroke-dasharray="5.5 5.4"/>
<line x1="972.86" y1="2366.7" x2="972.86" y2="2569.3" stroke="#444" stroke-width="1.8" stroke-dasharray="5.5 5.4"/>
<path d="M385.0 2515.8h0M389.5 2520.3h0M394.1 2524.8h0M398.6 2524.8h0M403.1 2527.0h0M407.6 2514.7h0M412.1 2512.5h0M416.7 2510.7h0M421.2 2513.6h0M425.7 2517.4h0M430.2 2516.9h0M434.8 2514.7h0M439.3 2515.8h0M443.8 2519.2h0M448.3 2521.4h0M452.8 2526.0h0M457.4 2519.0h0M461.9 2517.0h0M466.4 2515.8h0M470.9 2516.9h0M475.5 2520.3h0M480.0 2521.9h0M484.5 2523.6h0M489.0 2525.3h0M493.5 2527.0h0M498.1 2529.5h0M502.6 2532.0h0M507.1 2532.5h0M511.6 2528.0h0M516.2 2519.0h0M520.7 2515.0h0M525.2 2515.1h0M529.7 2515.2h0M534.2 2515.4h0M538.8 2515.5h0M543.3 2516.2h0M547.8 2517.0h0M552.3 2517.8h0M556.9 2518.5h0M561.4 2519.5h0M565.9 2520.5h0M570.4 2521.5h0M574.9 2522.5h0M579.5 2522.5h0M584.0 2522.5h0M588.5 2522.5h0M593.0 2522.5h0M597.5 2523.2h0M602.1 2524.0h0M606.6 2524.8h0M611.1 2525.5h0M615.6 2526.2h0M620.2 2527.0h0M624.7 2527.8h0M629.2 2528.5h0M633.7 2528.0h0M638.2 2527.5h0M642.8 2526.0h0M647.3 2524.5h0M651.8 2524.8h0M656.3 2525.0h0M660.9 2525.2h0M665.4 2525.5h0M669.9 2526.2h0M674.4 2527.0h0M678.9 2527.8h0M683.5 2528.5h0M688.0 2528.1h0M692.5 2527.8h0M697.0 2527.4h0M701.5 2527.0h0M706.1 2526.5h0M710.6 2525.9h0M715.1 2525.4h0M719.6 2524.9h0M724.2 2525.1h0M728.7 2525.4h0M733.2 2525.6h0M737.7 2525.8h0M742.2 2526.5h0M746.8 2527.2h0M751.3 2527.8h0M755.8 2528.5h0M760.3 2528.7h0M764.9 2528.8h0M769.4 2529.0h0M773.9 2529.2h0M778.4 2528.8h0M782.9 2528.3h0M787.5 2527.9h0M792.0 2527.5h0M796.5 2527.5h0M801.0 2527.5h0M805.6 2527.5h0M810.1 2527.5h0M814.6 2527.6h0M819.1 2527.8h0M823.6 2527.9h0M828.2 2528.0h0M832.7 2527.6h0M837.2 2527.2h0M841.7 2526.9h0M846.2 2526.5h0M850.8 2526.5h0M855.3 2526.5h0M859.8 2526.5h0M864.3 2526.5h0M868.9 2526.2h0M873.4 2526.0h0M877.9 2525.8h0M882.4 2525.5h0M886.9 2524.9h0M891.5 2524.2h0M896.0 2523.6h0M900.5 2523.0h0M905.0 2521.8h0M909.6 2520.5h0M914.1 2520.5h0M918.6 2520.5h0M923.1 2520.5h0M927.6 2520.5h0M932.2 2520.4h0M936.7 2520.2h0M941.2 2520.1h0M945.7 2520.0h0M950.3 2519.9h0M954.8 2519.8h0M959.3 2519.6h0M963.8 2519.5h0M968.3 2519.5h0M972.9 2519.5h0M977.4 2519.5h0M981.9 2519.5h0M986.4 2520.0h0M991.0 2520.5h0M995.5 2521.0h0" stroke="#f00a0a" stroke-width="11" stroke-linecap="round" fill="none"/>
<path d="M385.0 2535.7h0M389.5 2541.3h0M394.1 2543.5h0M398.6 2543.5h0M403.1 2546.9h0M407.6 2533.5h0M412.1 2531.2h0M416.7 2527.9h0M421.2 2531.2h0M425.7 2533.5h0M430.2 2530.1h0M434.8 2526.8h0M439.3 2522.3h0M443.8 2522.3h0M448.3 2525.6h0M452.8 2529.0h0M457.4 2521.0h0M461.9 2518.5h0M466.4 2517.2h0M470.9 2518.1h0M475.5 2521.3h0M480.0 2523.1h0M484.5 2524.9h0M489.0 2526.8h0M493.5 2528.6h0M498.1 2530.4h0M502.6 2532.2h0M507.1 2532.4h0M511.6 2528.1h0M516.2 2521.5h0M520.7 2520.6h0M525.2 2520.9h0M529.7 2521.2h0M534.2 2521.7h0M538.8 2522.1h0M543.3 2522.9h0M547.8 2523.6h0M552.3 2524.3h0M556.9 2525.1h0M561.4 2526.2h0M565.9 2527.3h0M570.4 2528.4h0M574.9 2529.6h0M579.5 2529.6h0M584.0 2529.6h0M588.5 2529.6h0M593.0 2529.6h0M597.5 2530.4h0M602.1 2531.3h0M606.6 2532.1h0M611.1 2532.9h0M615.6 2533.8h0M620.2 2534.6h0M624.7 2535.5h0M629.2 2536.3h0M633.7 2535.8h0M638.2 2535.3h0M642.8 2533.6h0M647.3 2531.9h0M651.8 2532.2h0M656.3 2532.4h0M660.9 2532.7h0M665.4 2533.0h0M669.9 2533.9h0M674.4 2534.7h0M678.9 2535.6h0M683.5 2536.4h0M688.0 2536.0h0M692.5 2535.6h0M697.0 2535.2h0M701.5 2534.8h0M706.1 2534.3h0M710.6 2533.8h0M715.1 2533.2h0M719.6 2532.7h0M724.2 2532.9h0M728.7 2533.1h0M733.2 2533.4h0M737.7 2533.6h0M742.2 2534.3h0M746.8 2535.1h0M751.3 2535.8h0M755.8 2536.5h0M760.3 2536.7h0M764.9 2536.9h0M769.4 2537.1h0M773.9 2537.2h0M778.4 2536.8h0M782.9 2536.4h0M787.5 2535.9h0M792.0 2535.5h0M796.5 2535.5h0M801.0 2535.5h0M805.6 2535.5h0M810.1 2535.5h0M814.6 2535.6h0M819.1 2535.7h0M823.6 2535.8h0M828.2 2535.9h0M832.7 2535.6h0M837.2 2535.2h0M841.7 2534.8h0M846.2 2534.4h0M850.8 2534.5h0M855.3 2534.5h0M859.8 2534.5h0M864.3 2534.5h0M868.9 2534.3h0M873.4 2534.1h0M877.9 2534.0h0M882.4 2533.8h0M886.9 2533.6h0M891.5 2533.4h0M896.0 2533.2h0M900.5 2532.9h0M905.0 2531.9h0M909.6 2530.9h0M914.1 2530.9h0M918.6 2530.9h0M923.1 2530.9h0M927.6 2530.9h0M932.2 2530.8h0M936.7 2530.7h0M941.2 2530.5h0M945.7 2530.4h0M950.3 2530.2h0M954.8 2530.1h0M959.3 2530.0h0M963.8 2529.8h0M968.3 2529.8h0M972.9 2529.8h0M977.4 2529.8h0M981.9 2529.8h0M986.4 2530.3h0M991.0 2530.8h0M995.5 2531.3h0" stroke="#1eee2a" stroke-width="11" stroke-linecap="round" fill="none"/>
<path d="M385.0 2533.7h0M389.5 2539.3h0M394.1 2541.5h0M398.6 2541.5h0M403.1 2544.9h0M407.6 2531.5h0M412.1 2529.2h0M416.7 2525.9h0M421.2 2529.2h0M425.7 2531.5h0M430.2 2528.1h0M434.8 2524.8h0M439.3 2520.3h0M443.8 2520.3h0M448.3 2523.6h0M452.8 2527.0h0M457.4 2519.2h0M461.9 2516.9h0M466.4 2515.8h0M470.9 2516.9h0M475.5 2520.3h0M480.0 2521.9h0M484.5 2523.6h0M489.0 2525.3h0M493.5 2527.0h0M498.1 2528.7h0M502.6 2530.3h0M507.1 2530.3h0M511.6 2525.9h0M516.2 2519.2h0M520.7 2518.1h0M525.2 2518.4h0M529.7 2518.7h0M534.2 2519.1h0M538.8 2519.6h0M543.3 2520.3h0M547.8 2521.1h0M552.3 2521.8h0M556.9 2522.5h0M561.4 2523.6h0M565.9 2524.8h0M570.4 2525.9h0M574.9 2527.0h0M579.5 2527.0h0M584.0 2527.0h0M588.5 2527.0h0M593.0 2527.0h0M597.5 2527.8h0M602.1 2528.7h0M606.6 2529.5h0M611.1 2530.3h0M615.6 2531.2h0M620.2 2532.0h0M624.7 2532.8h0M629.2 2533.7h0M633.7 2533.1h0M638.2 2532.6h0M642.8 2530.9h0M647.3 2529.2h0M651.8 2529.5h0M656.3 2529.8h0M660.9 2530.0h0M665.4 2530.3h0M669.9 2531.2h0M674.4 2532.0h0M678.9 2532.8h0M683.5 2533.7h0M688.0 2533.3h0M692.5 2532.9h0M697.0 2532.5h0M701.5 2532.1h0M706.1 2531.6h0M710.6 2531.0h0M715.1 2530.4h0M719.6 2529.9h0M724.2 2530.1h0M728.7 2530.4h0M733.2 2530.6h0M737.7 2530.8h0M742.2 2531.5h0M746.8 2532.2h0M751.3 2533.0h0M755.8 2533.7h0M760.3 2533.9h0M764.9 2534.1h0M769.4 2534.2h0M773.9 2534.4h0M778.4 2533.9h0M782.9 2533.5h0M787.5 2533.1h0M792.0 2532.6h0M796.5 2532.6h0M801.0 2532.6h0M805.6 2532.6h0M810.1 2532.6h0M814.6 2532.7h0M819.1 2532.8h0M823.6 2532.9h0M828.2 2533.0h0M832.7 2532.6h0M837.2 2532.2h0M841.7 2531.9h0M846.2 2531.5h0M850.8 2531.5h0M855.3 2531.5h0M859.8 2531.5h0M864.3 2531.5h0M868.9 2531.3h0M873.4 2531.2h0M877.9 2531.0h0M882.4 2530.8h0M886.9 2530.2h0M891.5 2529.7h0M896.0 2529.2h0M900.5 2528.6h0M905.0 2527.2h0M909.6 2525.9h0M914.1 2525.9h0M918.6 2525.9h0M923.1 2525.9h0M927.6 2525.9h0M932.2 2525.8h0M936.7 2525.7h0M941.2 2525.5h0M945.7 2525.4h0M950.3 2525.2h0M954.8 2525.1h0M959.3 2525.0h0M963.8 2524.8h0M968.3 2524.8h0M972.9 2524.8h0M977.4 2524.8h0M981.9 2524.8h0M986.4 2525.3h0M991.0 2525.8h0M995.5 2526.3h0" stroke="#0000f0" stroke-width="11" stroke-linecap="round" fill="none"/>
<rect x="339.80" y="2366.70" width="723.50" height="202.60" fill="none" stroke="#111" stroke-width="2.8"/>
<line x1="328.3" y1="2366.70" x2="339.8" y2="2366.70" stroke="#111" stroke-width="2.8"/>
<line x1="328.3" y1="2434.23" x2="339.8" y2="2434.23" stroke="#111" stroke-width="2.8"/>
<line x1="328.3" y1="2501.77" x2="339.8" y2="2501.77" stroke="#111" stroke-width="2.8"/>
<line x1="328.3" y1="2569.30" x2="339.8" y2="2569.30" stroke="#111" stroke-width="2.8"/>
<line x1="339.80" y1="2569.3" x2="339.80" y2="2580.8" stroke="#111" stroke-width="2.8"/>
<line x1="430.24" y1="2569.3" x2="430.24" y2="2580.8" stroke="#111" stroke-width="2.8"/>
<line x1="520.67" y1="2569.3" x2="520.67" y2="2580.8" stroke="#111" stroke-width="2.8"/>
<line x1="611.11" y1="2569.3" x2="611.11" y2="2580.8" stroke="#111" stroke-width="2.8"/>
<line x1="701.55" y1="2569.3" x2="701.55" y2="2580.8" stroke="#111" stroke-width="2.8"/>
<line x1="791.99" y1="2569.3" x2="791.99" y2="2580.8" stroke="#111" stroke-width="2.8"/>
<line x1="882.42" y1="2569.3" x2="882.42" y2="2580.8" stroke="#111" stroke-width="2.8"/>
<line x1="972.86" y1="2569.3" x2="972.86" y2="2580.8" stroke="#111" stroke-width="2.8"/>
<line x1="1063.30" y1="2569.3" x2="1063.30" y2="2580.8" stroke="#111" stroke-width="2.8"/>
<text x="285.09" y="2378.77" font-family="'Liberation Sans', Arial, sans-serif" font-weight="bold" font-size="34.5">9</text>
<text x="285.33" y="2446.31" font-family="'Liberation Sans', Arial, sans-serif" font-weight="bold" font-size="34.5">7</text>
<text x="284.77" y="2513.84" font-family="'Liberation Sans', Arial, sans-serif" font-weight="bold" font-size="34.5">5</text>
<text x="285.06" y="2581.38" font-family="'Liberation Sans', Arial, sans-serif" font-weight="bold" font-size="34.5">3</text>
<text x="330.23" y="2630.30" font-family="'Liberation Sans', Arial, sans-serif" font-weight="bold" font-size="34.5">0</text>
<text x="411.16" y="2630.30" font-family="'Liberation Sans', Arial, sans-serif" font-weight="bold" font-size="34.5">20</text>
<text x="501.93" y="2630.30" font-family="'Liberation Sans', Arial, sans-serif" font-weight="bold" font-size="34.5">40</text>
<text x="592.00" y="2630.30" font-family="'Liberation Sans', Arial, sans-serif" font-weight="bold" font-size="34.5">60</text>
<text x="682.52" y="2630.30" font-family="'Liberation Sans', Arial, sans-serif" font-weight="bold" font-size="34.5">80</text>
<text x="762.83" y="2630.30" font-family="'Liberation Sans', Arial, sans-serif" font-weight="bold" font-size="34.5">100</text>
<text x="853.27" y="2630.30" font-family="'Liberation Sans', Arial, sans-serif" font-weight="bold" font-size="34.5">120</text>
<text x="943.70" y="2630.30" font-family="'Liberation Sans', Arial, sans-serif" font-weight="bold" font-size="34.5">140</text>
<text x="1034.14" y="2630.30" font-family="'Liberation Sans', Arial, sans-serif" font-weight="bold" font-size="34.5">160</text>
<text transform="translate(590.33 2683.40) scale(0.9486 1)" font-family="'Liberation Sans', Arial, sans-serif" font-weight="bold" font-size="35" fill="#000">No. of Sample</text>
<text transform="translate(268.50 2546.21) rotate(-90) scale(0.9594 1)" font-family="'Liberation Sans', Arial, sans-serif" font-weight="bold" font-size="34.4" fill="#000">RMSE (m)</text>
<circle cx="370.6" cy="2301.4" r="5" fill="#f00a0a"/>
<text transform="translate(392.83 2312.10) scale(0.9204 1)" font-family="'Liberation Sans', Arial, sans-serif" font-weight="bold" font-size="35.5" fill="#000">TDX90.nn</text>
<circle cx="593.8" cy="2301.4" r="5" fill="#1eee2a"/>
<text transform="translate(616.43 2312.10) scale(0.9229 1)" font-family="'Liberation Sans', Arial, sans-serif" font-weight="bold" font-size="35.5" fill="#000">TDX90.bl</text>
<circle cx="805.0" cy="2301.4" r="5" fill="#0000f0"/>
<text transform="translate(827.24 2312.10) scale(0.9118 1)" font-family="'Liberation Sans', Arial, sans-serif" font-weight="bold" font-size="35.5" fill="#000">TDX90.bc</text>
<line x1="1328.6" y1="2433.27" x2="2059.5" y2="2433.27" stroke="#5a5a5a" stroke-width="1.8" stroke-dasharray="6 4 1.5 4.5"/>
<line x1="1328.6" y1="2502.13" x2="2059.5" y2="2502.13" stroke="#5a5a5a" stroke-width="1.8" stroke-dasharray="6 4 1.5 4.5"/>
<line x1="1419.96" y1="2364.4" x2="1419.96" y2="2571.0" stroke="#444" stroke-width="1.8" stroke-dasharray="5.5 5.4"/>
<line x1="1511.32" y1="2364.4" x2="1511.32" y2="2571.0" stroke="#444" stroke-width="1.8" stroke-dasharray="5.5 5.4"/>
<line x1="1602.69" y1="2364.4" x2="1602.69" y2="2571.0" stroke="#444" stroke-width="1.8" stroke-dasharray="5.5 5.4"/>
<line x1="1694.05" y1="2364.4" x2="1694.05" y2="2571.0" stroke="#444" stroke-width="1.8" stroke-dasharray="5.5 5.4"/>
<line x1="1785.41" y1="2364.4" x2="1785.41" y2="2571.0" stroke="#444" stroke-width="1.8" stroke-dasharray="5.5 5.4"/>
<line x1="1876.78" y1="2364.4" x2="1876.78" y2="2571.0" stroke="#444" stroke-width="1.8" stroke-dasharray="5.5 5.4"/>
<line x1="1968.14" y1="2364.4" x2="1968.14" y2="2571.0" stroke="#444" stroke-width="1.8" stroke-dasharray="5.5 5.4"/>
<path d="M1374.3 2490.7h0M1378.8 2491.3h0M1383.4 2494.3h0M1388.0 2496.9h0M1392.6 2499.6h0M1397.1 2490.2h0M1401.7 2491.3h0M1406.3 2492.5h0M1410.8 2488.4h0M1415.4 2491.3h0M1420.0 2492.5h0M1424.5 2491.3h0M1429.1 2487.5h0M1433.7 2488.8h0M1438.2 2490.2h0M1442.8 2490.0h0M1447.4 2489.8h0M1451.9 2490.2h0M1456.5 2490.7h0M1461.1 2489.6h0M1465.6 2488.4h0M1470.2 2487.9h0M1474.8 2487.5h0M1479.3 2488.3h0M1483.9 2489.1h0M1488.5 2489.4h0M1493.1 2489.8h0M1497.6 2490.6h0M1502.2 2491.3h0M1506.8 2484.6h0M1511.3 2484.6h0M1515.9 2485.4h0M1520.5 2486.3h0M1525.0 2487.2h0M1529.6 2488.0h0M1534.2 2488.3h0M1538.7 2488.6h0M1543.3 2488.8h0M1547.9 2489.1h0M1552.4 2489.3h0M1557.0 2489.4h0M1561.6 2489.6h0M1566.1 2489.8h0M1570.7 2489.9h0M1575.3 2490.0h0M1579.8 2490.1h0M1584.4 2490.2h0M1589.0 2490.5h0M1593.6 2490.8h0M1598.1 2491.0h0M1602.7 2491.3h0M1607.3 2491.5h0M1611.8 2491.7h0M1616.4 2491.8h0M1621.0 2492.0h0M1625.5 2491.8h0M1630.1 2491.7h0M1634.7 2491.5h0M1639.2 2491.3h0M1643.8 2491.5h0M1648.4 2491.7h0M1652.9 2491.8h0M1657.5 2492.0h0M1662.1 2491.8h0M1666.6 2491.7h0M1671.2 2491.5h0M1675.8 2491.3h0M1680.3 2491.6h0M1684.9 2491.9h0M1689.5 2492.2h0M1694.0 2492.5h0M1698.6 2492.4h0M1703.2 2492.2h0M1707.8 2492.1h0M1712.3 2492.0h0M1716.9 2491.7h0M1721.5 2491.3h0M1726.0 2491.0h0M1730.6 2490.7h0M1735.2 2490.5h0M1739.7 2490.2h0M1744.3 2490.0h0M1748.9 2489.8h0M1753.4 2489.8h0M1758.0 2489.8h0M1762.6 2489.8h0M1767.1 2489.8h0M1771.7 2489.8h0M1776.3 2489.8h0M1780.8 2489.8h0M1785.4 2489.8h0M1790.0 2489.9h0M1794.5 2490.0h0M1799.1 2490.1h0M1803.7 2490.2h0M1808.3 2490.6h0M1812.8 2491.1h0M1817.4 2491.6h0M1822.0 2492.0h0M1826.5 2492.0h0M1831.1 2492.0h0M1835.7 2492.0h0M1840.2 2492.0h0M1844.8 2492.0h0M1849.4 2492.0h0M1853.9 2492.0h0M1858.5 2492.0h0M1863.1 2492.0h0M1867.6 2492.0h0M1872.2 2492.0h0M1876.8 2492.0h0M1881.3 2491.7h0M1885.9 2491.3h0M1890.5 2491.0h0M1895.0 2490.7h0M1899.6 2490.5h0M1904.2 2490.2h0M1908.8 2490.0h0M1913.3 2489.8h0M1917.9 2489.9h0M1922.5 2490.0h0M1927.0 2490.1h0M1931.6 2490.2h0M1936.2 2490.2h0M1940.7 2490.2h0M1945.3 2490.2h0M1949.9 2490.2h0M1954.4 2490.3h0M1959.0 2490.4h0M1963.6 2490.6h0M1968.1 2490.7h0M1972.7 2490.8h0M1977.3 2490.9h0M1981.8 2491.1h0M1986.4 2491.2h0M1991.0 2491.3h0" stroke="#f00a0a" stroke-width="11.5" stroke-linecap="round" fill="none"/>
<path d="M1374.3 2512.0h0M1378.8 2509.0h0M1383.4 2511.3h0M1388.0 2513.7h0M1392.6 2516.0h0M1397.1 2509.0h0M1401.7 2507.7h0M1406.3 2506.3h0M1410.8 2505.0h0M1415.4 2504.3h0M1420.0 2503.7h0M1424.5 2503.0h0M1429.1 2497.0h0M1433.7 2497.3h0M1438.2 2497.6h0M1442.8 2497.9h0M1447.4 2498.2h0M1451.9 2498.6h0M1456.5 2498.9h0M1461.1 2499.2h0M1465.6 2499.5h0M1470.2 2500.1h0M1474.8 2500.8h0M1479.3 2501.4h0M1483.9 2502.0h0M1488.5 2502.6h0M1493.1 2503.2h0M1497.6 2503.9h0M1502.2 2504.5h0M1506.8 2496.5h0M1511.3 2496.5h0M1515.9 2496.8h0M1520.5 2497.2h0M1525.0 2497.5h0M1529.6 2497.8h0M1534.2 2498.1h0M1538.7 2498.4h0M1543.3 2498.8h0M1547.9 2499.1h0M1552.4 2499.4h0M1557.0 2499.8h0M1561.6 2500.1h0M1566.1 2500.4h0M1570.7 2500.7h0M1575.3 2501.1h0M1579.8 2501.4h0M1584.4 2501.7h0M1589.0 2502.0h0M1593.6 2502.3h0M1598.1 2502.7h0M1602.7 2503.0h0M1607.3 2503.0h0M1611.8 2503.1h0M1616.4 2503.1h0M1621.0 2503.1h0M1625.5 2503.2h0M1630.1 2503.2h0M1634.7 2503.2h0M1639.2 2503.3h0M1643.8 2503.3h0M1648.4 2503.3h0M1652.9 2503.4h0M1657.5 2503.4h0M1662.1 2503.5h0M1666.6 2503.5h0M1671.2 2503.5h0M1675.8 2503.6h0M1680.3 2503.6h0M1684.9 2503.6h0M1689.5 2503.7h0M1694.0 2503.7h0M1698.6 2503.7h0M1703.2 2503.6h0M1707.8 2503.6h0M1712.3 2503.6h0M1716.9 2503.5h0M1721.5 2503.5h0M1726.0 2503.5h0M1730.6 2503.4h0M1735.2 2503.4h0M1739.7 2503.3h0M1744.3 2503.3h0M1748.9 2503.3h0M1753.4 2503.2h0M1758.0 2503.2h0M1762.6 2503.2h0M1767.1 2503.1h0M1771.7 2503.1h0M1776.3 2503.1h0M1780.8 2503.0h0M1785.4 2503.0h0M1790.0 2503.4h0M1794.5 2503.8h0M1799.1 2504.1h0M1803.7 2504.5h0M1808.3 2504.9h0M1812.8 2505.2h0M1817.4 2505.6h0M1822.0 2506.0h0M1826.5 2506.0h0M1831.1 2506.0h0M1835.7 2506.0h0M1840.2 2506.0h0M1844.8 2506.0h0M1849.4 2506.0h0M1853.9 2506.0h0M1858.5 2506.0h0M1863.1 2506.0h0M1867.6 2506.0h0M1872.2 2506.0h0M1876.8 2506.0h0M1881.3 2506.0h0M1885.9 2506.1h0M1890.5 2506.1h0M1895.0 2506.1h0M1899.6 2506.1h0M1904.2 2506.2h0M1908.8 2506.2h0M1913.3 2506.2h0M1917.9 2506.2h0M1922.5 2506.2h0M1927.0 2506.3h0M1931.6 2506.3h0M1936.2 2506.3h0M1940.7 2506.3h0M1945.3 2506.4h0M1949.9 2506.4h0M1954.4 2506.5h0M1959.0 2506.5h0M1963.6 2506.6h0M1968.1 2506.6h0M1972.7 2506.7h0M1977.3 2506.7h0M1981.8 2506.8h0M1986.4 2506.8h0M1991.0 2506.9h0" stroke="#1eee2a" stroke-width="11.5" stroke-linecap="round" fill="none"/>
<path d="M1374.3 2515.3h0M1378.8 2511.5h0M1383.4 2514.4h0M1388.0 2517.5h0M1392.6 2518.2h0M1397.1 2509.9h0M1401.7 2512.1h0M1406.3 2511.5h0M1410.8 2505.4h0M1415.4 2503.6h0M1420.0 2503.2h0M1424.5 2501.9h0M1429.1 2492.0h0M1433.7 2494.7h0M1438.2 2496.9h0M1442.8 2495.8h0M1447.4 2494.7h0M1451.9 2495.2h0M1456.5 2495.8h0M1461.1 2495.1h0M1465.6 2494.3h0M1470.2 2495.1h0M1474.8 2495.8h0M1479.3 2496.4h0M1483.9 2496.9h0M1488.5 2496.9h0M1493.1 2496.9h0M1497.6 2498.2h0M1502.2 2499.6h0M1506.8 2491.3h0M1511.3 2491.3h0M1515.9 2492.2h0M1520.5 2493.0h0M1525.0 2493.8h0M1529.6 2494.7h0M1534.2 2495.2h0M1538.7 2495.8h0M1543.3 2496.3h0M1547.9 2496.9h0M1552.4 2496.6h0M1557.0 2496.4h0M1561.6 2496.1h0M1566.1 2495.8h0M1570.7 2496.1h0M1575.3 2496.4h0M1579.8 2496.6h0M1584.4 2496.9h0M1589.0 2497.2h0M1593.6 2497.5h0M1598.1 2497.8h0M1602.7 2498.1h0M1607.3 2498.2h0M1611.8 2498.4h0M1616.4 2498.5h0M1621.0 2498.7h0M1625.5 2498.5h0M1630.1 2498.4h0M1634.7 2498.2h0M1639.2 2498.1h0M1643.8 2498.2h0M1648.4 2498.4h0M1652.9 2498.5h0M1657.5 2498.7h0M1662.1 2498.5h0M1666.6 2498.4h0M1671.2 2498.2h0M1675.8 2498.1h0M1680.3 2498.2h0M1684.9 2498.4h0M1689.5 2498.5h0M1694.0 2498.7h0M1698.6 2498.7h0M1703.2 2498.7h0M1707.8 2498.7h0M1712.3 2498.7h0M1716.9 2498.5h0M1721.5 2498.4h0M1726.0 2498.2h0M1730.6 2498.1h0M1735.2 2497.9h0M1739.7 2497.8h0M1744.3 2497.6h0M1748.9 2497.4h0M1753.4 2497.4h0M1758.0 2497.4h0M1762.6 2497.4h0M1767.1 2497.4h0M1771.7 2497.6h0M1776.3 2497.8h0M1780.8 2497.9h0M1785.4 2498.1h0M1790.0 2498.2h0M1794.5 2498.4h0M1799.1 2498.5h0M1803.7 2498.7h0M1808.3 2499.3h0M1812.8 2499.8h0M1817.4 2500.4h0M1822.0 2501.0h0M1826.5 2501.1h0M1831.1 2501.2h0M1835.7 2501.3h0M1840.2 2501.4h0M1844.8 2501.3h0M1849.4 2501.2h0M1853.9 2501.1h0M1858.5 2501.0h0M1863.1 2501.0h0M1867.6 2501.0h0M1872.2 2501.0h0M1876.8 2501.0h0M1881.3 2500.7h0M1885.9 2500.3h0M1890.5 2499.9h0M1895.0 2499.6h0M1899.6 2499.5h0M1904.2 2499.4h0M1908.8 2499.3h0M1913.3 2499.2h0M1917.9 2499.6h0M1922.5 2500.1h0M1927.0 2500.6h0M1931.6 2501.0h0M1936.2 2501.1h0M1940.7 2501.2h0M1945.3 2501.3h0M1949.9 2501.4h0M1954.4 2501.5h0M1959.0 2501.7h0M1963.6 2501.8h0M1968.1 2501.9h0M1972.7 2501.9h0M1977.3 2501.9h0M1981.8 2501.9h0M1986.4 2501.9h0M1991.0 2501.9h0" stroke="#0000f0" stroke-width="11.5" stroke-linecap="round" fill="none"/>
<rect x="1328.60" y="2364.40" width="730.90" height="206.60" fill="none" stroke="#000" stroke-width="3"/>
<line x1="1317.1" y1="2364.40" x2="1328.6" y2="2364.40" stroke="#000" stroke-width="3"/>
<line x1="1317.1" y1="2433.27" x2="1328.6" y2="2433.27" stroke="#000" stroke-width="3"/>
<line x1="1317.1" y1="2502.13" x2="1328.6" y2="2502.13" stroke="#000" stroke-width="3"/>
<line x1="1317.1" y1="2571.00" x2="1328.6" y2="2571.00" stroke="#000" stroke-width="3"/>
<line x1="1328.60" y1="2571.0" x2="1328.60" y2="2582.5" stroke="#000" stroke-width="3"/>
<line x1="1419.96" y1="2571.0" x2="1419.96" y2="2582.5" stroke="#000" stroke-width="3"/>
<line x1="1511.32" y1="2571.0" x2="1511.32" y2="2582.5" stroke="#000" stroke-width="3"/>
<line x1="1602.69" y1="2571.0" x2="1602.69" y2="2582.5" stroke="#000" stroke-width="3"/>
<line x1="1694.05" y1="2571.0" x2="1694.05" y2="2582.5" stroke="#000" stroke-width="3"/>
<line x1="1785.41" y1="2571.0" x2="1785.41" y2="2582.5" stroke="#000" stroke-width="3"/>
<line x1="1876.78" y1="2571.0" x2="1876.78" y2="2582.5" stroke="#000" stroke-width="3"/>
<line x1="1968.14" y1="2571.0" x2="1968.14" y2="2582.5" stroke="#000" stroke-width="3"/>
<line x1="2059.50" y1="2571.0" x2="2059.50" y2="2582.5" stroke="#000" stroke-width="3"/>
<text x="1273.34" y="2376.83" font-family="'Liberation Sans', Arial, sans-serif" font-weight="bold" font-size="35.5">6</text>
<text x="1272.25" y="2445.69" font-family="'Liberation Sans', Arial, sans-serif" font-weight="bold" font-size="35.5">4</text>
<text x="1273.48" y="2514.56" font-family="'Liberation Sans', Arial, sans-serif" font-weight="bold" font-size="35.5">2</text>
<text x="1273.51" y="2583.43" font-family="'Liberation Sans', Arial, sans-serif" font-weight="bold" font-size="35.5">0</text>
<text x="1318.75" y="2632.00" font-family="'Liberation Sans', Arial, sans-serif" font-weight="bold" font-size="35.5">0</text>
<text x="1400.33" y="2632.00" font-family="'Liberation Sans', Arial, sans-serif" font-weight="bold" font-size="35.5">20</text>
<text x="1492.04" y="2632.00" font-family="'Liberation Sans', Arial, sans-serif" font-weight="bold" font-size="35.5">40</text>
<text x="1583.02" y="2632.00" font-family="'Liberation Sans', Arial, sans-serif" font-weight="bold" font-size="35.5">60</text>
<text x="1674.47" y="2632.00" font-family="'Liberation Sans', Arial, sans-serif" font-weight="bold" font-size="35.5">80</text>
<text x="1755.41" y="2632.00" font-family="'Liberation Sans', Arial, sans-serif" font-weight="bold" font-size="35.5">100</text>
<text x="1846.77" y="2632.00" font-family="'Liberation Sans', Arial, sans-serif" font-weight="bold" font-size="35.5">120</text>
<text x="1938.13" y="2632.00" font-family="'Liberation Sans', Arial, sans-serif" font-weight="bold" font-size="35.5">140</text>
<text x="2029.49" y="2632.00" font-family="'Liberation Sans', Arial, sans-serif" font-weight="bold" font-size="35.5">160</text>
<text transform="translate(1581.81 2687.50) scale(0.9438 1)" font-family="'Liberation Sans', Arial, sans-serif" font-weight="bold" font-size="35.5" fill="#000">No. of Sample</text>
<text transform="translate(1257.30 2546.94) rotate(-90) scale(0.9636 1)" font-family="'Liberation Sans', Arial, sans-serif" font-weight="bold" font-size="34.7" fill="#000">RMSE (m)</text>
<circle cx="1359.8" cy="2299.8" r="5.3" fill="#f00a0a"/>
<text transform="translate(1382.83 2310.90) scale(0.9328 1)" font-family="'Liberation Sans', Arial, sans-serif" font-weight="bold" font-size="35.5" fill="#000">TDX90.nn</text>
<circle cx="1586.2" cy="2299.8" r="5.3" fill="#1eee2a"/>
<text transform="translate(1608.13 2310.90) scale(0.9336 1)" font-family="'Liberation Sans', Arial, sans-serif" font-weight="bold" font-size="35.5" fill="#000">TDX90.bl</text>
<circle cx="1800.3" cy="2299.8" r="5.3" fill="#0000f0"/>
<text transform="translate(1822.24 2310.90) scale(0.9143 1)" font-family="'Liberation Sans', Arial, sans-serif" font-weight="bold" font-size="35.5" fill="#000">TDX90.bc</text>
</svg>
</body></html>
